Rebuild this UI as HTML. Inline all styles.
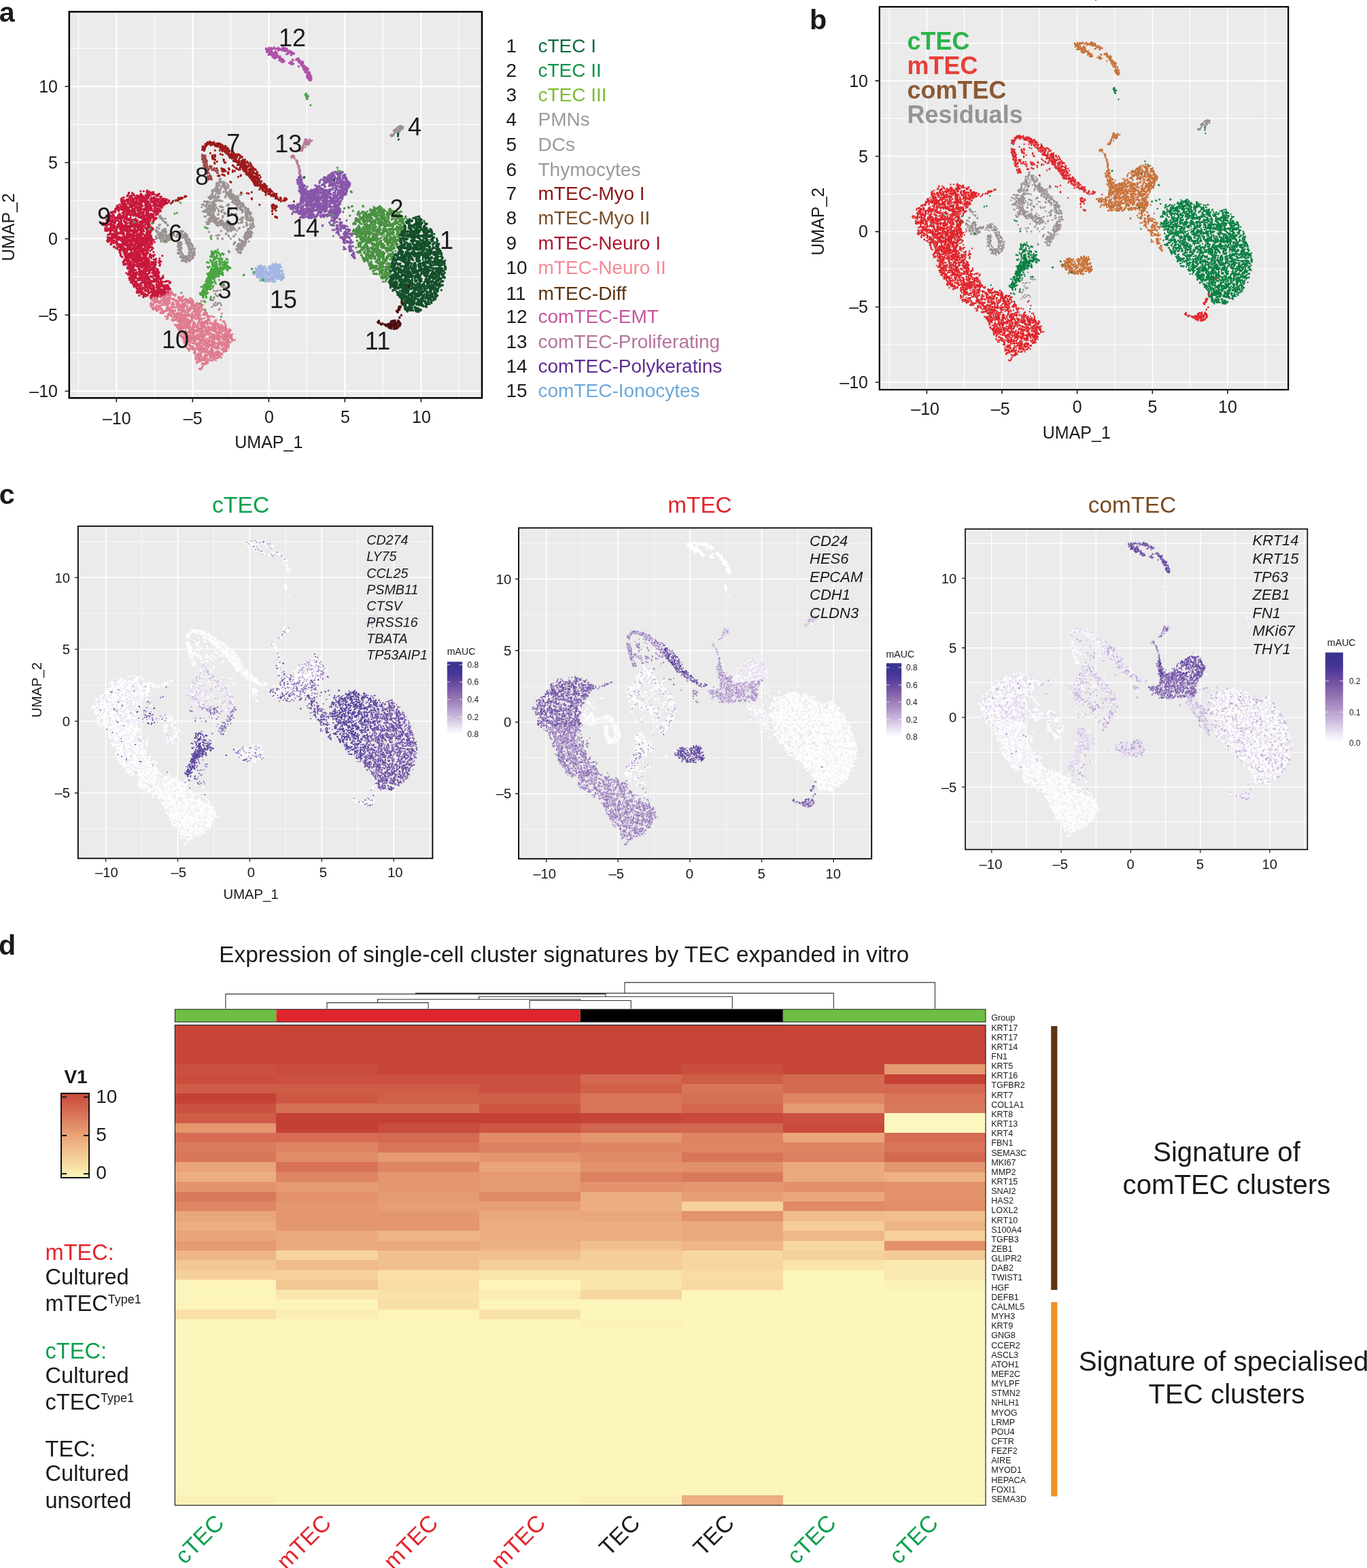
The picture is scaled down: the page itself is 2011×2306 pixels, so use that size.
<!DOCTYPE html>
<html><head><meta charset="utf-8"><title>Figure</title>
<style>
html,body{margin:0;padding:0;background:#fff}
svg{display:block}
svg{font-family:"Liberation Sans", Arial, Helvetica, sans-serif;fill:#1a1a1a}
</style></head><body>
<svg width="2011" height="2306" viewBox="0 0 2011 2306">
<defs>
<path id="k9a_0" d="M-357 -142h0m-41 12h0m30-10h0m11 8h0m0 1h0m5 4h0m27-4h0m16 14h0m-23 0h0m2 0h0m4 2h0m-9 1h0m2 0h0m-4-4h0m-9 3h0m0 2h0m-15 0h0m-7-3h0m-20-10h0m7 5h0m1 8h0m-27-11h0m-9 9h0m-18-2h0m8 3h0m-6 9h0m4 2h0m6 3h0m8-10h0m5 8h0m3-10h0m0 1h0m20 1h0m7 7h0m9-8h0m-8 6h0m3 4h0m14-10h0m2 5h0m2 0h0m16-4h0m4 3h0m-2 2h0m9-6h0m-2 7h0m0 2h0m0 2h0m19-8h0m-8 3h0m13 5h0m15-12h0m-29 14h0m3 1h0m-9 12h0m-21-12h0m3 2h0m-2 5h0m2 0h0m9 0h0m-9 1h0m1 1h0m-1 2h0m-14-5h0m4 1h0m-5 1h0m-2 1h0m3 1h0m-11-10h0m-4 3h0m-1 5h0m-13-5h0m9 1h0m-14-4h0m1 8h0m-1 1h0m-5 2h0m-17-7h0m5 1h0m-16-4h0m6 3h0m-2 1h0m-21-6h0m-1 1h0m19 13h0m2 5h0m9 3h0m2 3h0m-5 1h0m14-10h0m14 9h0m13-4h0m5 2h0m33-7h0m-1 1h0m10-3h0m-4 2h0m1 1h0m3 2h0m-2 19h0m-20-8h0m-1 9h0m-17-9h0m1 3h0m-17-3h0m-6 11h0m-5-13h0m-11 1h0m-11 6h0m7 5h0m-20-8h0m3 2h0m-17 1h0m3 0h0m-1 1h0m9 0h0m-12 1h0m-12-8h0m2 0h0m0 5h0m6 3h0m-17-6h0m0 5h0m3 0h0m-5 3h0m-7-9h0m14 25h0m10-13h0m-6 3h0m-1 4h0m4 0h0m2 0h0m10-4h0m4 10h0m33 0h0m5-13h0m0 12h0m9 0h0m2-11h0m3 1h0m2 0h0m5 5h0m13-7h0m8 0h0m-3 5h0m10 1h0m-6 3h0m3 3h0m1 0h0m-4 1h0m21-11h0m-2 25h0m-13-13h0m-3 1h0m3 3h0m-22-1h0m-1 3h0m-29-6h0m12 3h0m-26-1h0m9 3h0m-5 2h0m1 3h0m-19-5h0m0 1h0m2 2h0m2 2h0m-13-9h0m3 2h0m1 10h0m-17-7h0m2 4h0m-27-10h0m3 15h0m14 1h0m39-1h0m-10 6h0m2 5h0m3 1h0m33-12h0m0 1h0m-10 1h0m14 1h0m5 2h0m9-6h0m9 1h0m-2 5h0m25-4h0m-4 1h0m4 19h0m-4 5h0m-9-4h0m3 1h0m-21-10h0m0 4h0m-20 2h0m-18-6h0m-2 11h0m-9-8h0m-21-2h0m0 8h0m-12-9h0m7 0h0m-9 6h0m-4 11h0m-10 3h0m13-5h0m7 5h0m0 5h0m7-6h0m14-5h0m4 10h0m16-6h0m5 0h0m-10 2h0m4 2h0m8 3h0m8-5h0m13-6h0m-2 1h0m-4 6h0m7 2h0m20-9h0m-5 2h0m3 6h0m-5 2h0m12-6h0m11-3h0m13 9h0m-42 4h0"/>
<path id="k9a_1" d="M-403 -128h0m46-9h0m4 0h0m-1 4h0m2 3h0m9-1h0m29 14h0m-19 1h0m-6-5h0m-6 6h0m-19-7h0m2 7h0m-11-11h0m6 2h0m-9 6h0m3 5h0m-14-13h0m4 1h0m-4 6h0m-3 3h0m-4-3h0m-17 2h0m-27 16h0m13-9h0m-5 2h0m2 1h0m3 7h0m20-12h0m5 0h0m5 4h0m-2 1h0m22-3h0m-2 8h0m16-10h0m1 0h0m2 3h0m-3 2h0m4 0h0m-6 3h0m5 3h0m-4 1h0m24-7h0m14 8h0m7-13h0m1 6h0m5 0h0m-9 3h0m9 2h0m-3 2h0m11-12h0m2 4h0m-23 9h0m-8 2h0m-2 3h0m7 3h0m-6 4h0m-27-10h0m4 0h0m-6 2h0m2 0h0m6 6h0m-7 3h0m-5-1h0m-26-7h0m1 0h0m12 7h0m-27-9h0m11 6h0m-14-5h0m-10 3h0m-3 1h0m-7 3h0m6 0h0m-24-9h0m-1 10h0m7 14h0m15 1h0m7-9h0m0 7h0m26-7h0m-1 8h0m1 1h0m10-13h0m2 2h0m2 8h0m5-3h0m5 3h0m15 0h0m-5 1h0m12 0h0m17-10h0m-2 4h0m1 5h0m0 0h0m-1 4h0m-29 0h0m8 1h0m-17-1h0m5 5h0m-18 2h0m-49-4h0m-1 2h0m12 0h0m-9 1h0m-1 2h0m-6-3h0m2 8h0m-30-10h0m-12-1h0m0 12h0m-13 10h0m24-9h0m-6 4h0m12-3h0m9 0h0m-11 2h0m8 1h0m21 6h0m-1 2h0m19-13h0m18 0h0m-3 5h0m-3 5h0m13-7h0m2 0h0m15 1h0m5 2h0m4-5h0m7 9h0m1 1h0m2 2h0m5-11h0m4 22h0m1 0h0m2 0h0m-1 3h0m-10-6h0m-1 3h0m-4 3h0m0 0h0m-19-3h0m1 2h0m-3-9h0m-15-1h0m-9 4h0m10 0h0m-20-2h0m-5 2h0m2 0h0m-4 5h0m7 0h0m-20-10h0m0 1h0m2 6h0m5 1h0m-2 1h0m-3 2h0m-5-4h0m-22-7h0m3 0h0m3 11h0m1 0h0m-13-10h0m-2 9h0m1 2h0m-14 4h0m-2 1h0m18-1h0m23 8h0m19-8h0m5-1h0m18 3h0m4 6h0m1 0h0m7-10h0m6 1h0m2-1h0m5 5h0m-5 4h0m5 2h0m26-12h0m4 2h0m-7 1h0m-1 14h0m-6 4h0m1 3h0m-19-10h0m0 4h0m1 0h0m-8-1h0m-10 2h0m4 4h0m2 3h0m-17-9h0m5 8h0m-15-9h0m-3 2h0m9 3h0m-19-3h0m5 6h0m-23 1h0m-1 1h0m6 0h0m-17-12h0m-1 6h0m2 1h0m2 0h0m-2 2h0m-9 8h0m6 2h0m21-2h0m7-2h0m5 5h0m1 1h0m2 1h0m6 0h0m23-5h0m-13 1h0m8 0h0m-2 3h0m-3 3h0m19-3h0m17-6h0m-6 2h0m2 5h0m13-7h0m1 1h0m-1 2h0m0 1h0m-2 3h0m13-7h0m4 1h0m-7 2h0"/>
<path id="k9a_2" d="M-358 -141h0m-54 6h0m-1 5h0m25 3h0m13-2h0m21-3h0m3 1h0m-11 2h0m10 2h0m5-9h0m5 3h0m17 6h0m20 11h0m-24-9h0m-7 6h0m0 0h0m11 3h0m-35-9h0m-17 5h0m9 6h0m-22-9h0m2 5h0m-15-8h0m5 9h0m-9-6h0m-24 3h0m-2 3h0m2 15h0m18-6h0m5 9h0m14-10h0m1 1h0m-4 2h0m17 1h0m-12 1h0m4 2h0m24-10h0m4 0h0m-2 4h0m1 4h0m17-3h0m14 7h0m-2 1h0m23-11h0m-8 2h0m4 2h0m-8 6h0m5 7h0m-12-4h0m4 1h0m-22 6h0m2 5h0m-14-8h0m-2 2h0m3 0h0m4 0h0m-1 3h0m3 0h0m-7 1h0m7 0h0m-28-11h0m-4 8h0m-18 1h0m0 1h0m-19-9h0m0 9h0m7 0h0m-8-10h0m-7 1h0m-6 10h0m11 2h0m-22-10h0m10 0h0m-11 6h0m-9 8h0m-4 2h0m7 1h0m-9 3h0m37-6h0m-3 2h0m18-1h0m0 8h0m9-11h0m5 8h0m-4 3h0m-7 1h0m26-5h0m15-8h0m-4 5h0m14 1h0m-4 7h0m11 1h0m6 4h0m4 4h0m-22-6h0m3 2h0m-6 6h0m-6-8h0m-6 3h0m6 2h0m2 1h0m-2 1h0m-29-7h0m-18-1h0m-2 2h0m-2 3h0m6 6h0m-19-8h0m4 3h0m-9-3h0m-4 6h0m1 1h0m-16-10h0m-14 7h0m-4 14h0m19-1h0m3 0h0m16-3h0m-2 3h0m14-1h0m4 3h0m6-8h0m5 1h0m2 6h0m-7 2h0m45-8h0m-7 3h0m5 1h0m3 0h0m-3 4h0m32-5h0m-10 10h0m2 6h0m5 4h0m-4 1h0m-16-12h0m10 1h0m-3 5h0m-1 1h0m-17-1h0m4 0h0m-32-5h0m7 7h0m-19 0h0m7 0h0m-11 3h0m-10-7h0m0 0h0m-5 6h0m-1 3h0m-7-7h0m-4 4h0m-13-2h0m-5-6h0m-11 10h0m2 0h0m-6-9h0m-2 7h0m16 4h0m-3 7h0m1 3h0m7-10h0m9 1h0m-3 6h0m17-7h0m-11 4h0m19-1h0m-1 7h0m15-1h0m19-9h0m2 1h0m-5 10h0m16-11h0m-9 9h0m23-4h0m10-1h0m3 3h0m9 20h0m-6-12h0m-2 8h0m-7 4h0m-21-10h0m-2 6h0m-22-5h0m10 2h0m-15-4h0m4 1h0m-7 3h0m2 3h0m-17-9h0m2 2h0m-19-2h0m-9 11h0m-13-1h0m-2 5h0m7 9h0m11 0h0m-4 1h0m16-9h0m-7 8h0m15-4h0m2 0h0m7 6h0m-6 1h0m22-7h0m14-3h0m-13 9h0m5 1h0m14-8h0m-3 2h0m2 2h0m29-2h0m3 2h0m-3 2h0m-1 1h0m12-12h0m5 4h0m-5 6h0m-99 4h0"/>
<path id="k9a_3" d="M-398 -132h0m2 4h0m19-2h0m25-2h0m-4 2h0m2 3h0m13-6h0m4 2h0m27 14h0m-24 4h0m10 0h0m-34-7h0m-13-4h0m2 0h0m-7 1h0m1 0h0m1 0h0m-17 5h0m3 0h0m-18-7h0m2 11h0m6 0h0m-20-1h0m1 0h0m-9-7h0m-7 13h0m23 3h0m4-4h0m7 10h0m3 0h0m-4 1h0m10-12h0m7 6h0m-9 2h0m17-8h0m20 1h0m-5 4h0m15-3h0m-3 9h0m12-3h0m22 1h0m-5 1h0m17-11h0m-19 18h0m1 7h0m-13-8h0m1 6h0m-18-9h0m9 1h0m1 0h0m-13 11h0m-37-7h0m-2 2h0m-9-6h0m-1 10h0m0 2h0m-20-10h0m-2 1h0m-17 2h0m4 4h0m2 1h0m-16 1h0m0 1h0m-14 8h0m5-1h0m18-3h0m11 5h0m5 1h0m-1 3h0m17-9h0m-1 4h0m0 2h0m13-9h0m-3 5h0m8 4h0m-8 2h0m-1 2h0m10-3h0m16-5h0m3 5h0m46 1h0m7-10h0m0 2h0m-25 11h0m6 4h0m-2 3h0m-9 4h0m-3-11h0m-10 1h0m6 3h0m-18 1h0m3 6h0m7 2h0m-22-10h0m-4 9h0m0 1h0m-14-13h0m-13 4h0m3 7h0m-1 1h0m-6-7h0m-18 1h0m-3 6h0m-7-4h0m-22-7h0m7 2h0m2 0h0m-9 6h0m5 3h0m-10 3h0m-8 9h0m9-8h0m13 6h0m-2 2h0m-10 3h0m21-5h0m2 1h0m-3 1h0m0 0h0m13 3h0m3 0h0m13-10h0m1 0h0m5 5h0m17 1h0m0 3h0m13-8h0m3 5h0m13-3h0m1 4h0m21 0h0m-7 2h0m5 5h0m0 1h0m-10 5h0m3 1h0m-8-6h0m-3 3h0m-10 1h0m-2 3h0m-10-8h0m-4 2h0m-22-3h0m-12 4h0m2 2h0m-18 4h0m-4-4h0m2 5h0m-16-13h0m3 11h0m-15-8h0m1 16h0m0 0h0m12-3h0m16-1h0m-5 6h0m0 1h0m26 0h0m-5 4h0m16-5h0m20-4h0m18-2h0m8-1h0m-4 4h0m2 1h0m6 1h0m-5 6h0m14-11h0m0 6h0m5 2h0m1 2h0m1 2h0m1-6h0m5 17h0m-8-10h0m-10 7h0m10 1h0m-22-8h0m10 11h0m-23-6h0m8 4h0m-17-9h0m-4 10h0m0 3h0m-17-13h0m5 2h0m-1 2h0m0 2h0m-5 1h0m3 6h0m-11-9h0m3 2h0m1 5h0m-19-2h0m-4 2h0m-14-11h0m1 4h0m-8-4h0m-8 20h0m5 0h0m11-2h0m3 9h0m8-13h0m3 13h0m14-9h0m-2 2h0m4 0h0m-1 5h0m19-6h0m17 3h0m1 3h0m-12 1h0m21-11h0m-3 2h0m-5 4h0m5 3h0m13-6h0m2 0h0m1 1h0m5 0h0m-4 1h0m-7 1h0m0 1h0m2 2h0m15-4h0m5 0h0m7-2h0m1 1h0m-3 1h0m6 2h0"/>
<path id="k9a_4" d="M-339 -137h0m-10 10h0m41 9h0m1 2h0m2 0h0m0 0h0m4 3h0m-15-11h0m-1 5h0m5 3h0m-23-2h0m9 1h0m-8 3h0m-13-4h0m1 1h0m-12-9h0m-6 9h0m-10-9h0m5 7h0m4 0h0m0 3h0m-11 3h0m-10-13h0m-3 9h0m-15-7h0m-1 2h0m5 3h0m2 5h0m-35 1h0m12 11h0m7-5h0m15 6h0m23-11h0m19 2h0m3 1h0m-7 4h0m23 4h0m6-7h0m14-2h0m8 0h0m-9 6h0m8 0h0m12-1h0m5-3h0m-19 15h0m-2 2h0m-19-4h0m11 8h0m-38-10h0m0 1h0m5 1h0m3 1h0m-6 1h0m-6 4h0m-13 4h0m-5-4h0m-3 1h0m-18-9h0m-1 3h0m7 8h0m-13-3h0m-8 3h0m6 1h0m-18-13h0m5 0h0m0 1h0m2 4h0m-8 6h0m-8-2h0m-2 1h0m-9-1h0m-13 11h0m24 6h0m20 0h0m23-9h0m0 1h0m-9 1h0m4 7h0m15-11h0m1 0h0m2 0h0m1 12h0m15-4h0m-2 2h0m13-10h0m9 0h0m11 0h0m13 0h0m5 0h0m0 1h0m0 1h0m-14 20h0m3 0h0m-5 3h0m-4-12h0m-11 2h0m1 7h0m4 1h0m-11 0h0m-15-6h0m0 0h0m2 6h0m-21-8h0m-1 1h0m12 2h0m0 1h0m-13 5h0m-26-5h0m-9-4h0m0 1h0m-7 5h0m10 3h0m-12-7h0m-15 8h0m-22-12h0m4 8h0m-20 16h0m9 2h0m14-8h0m-9 2h0m9 0h0m22-3h0m4 4h0m3 3h0m4-7h0m10 2h0m-9 6h0m24-3h0m12 4h0m25 1h0m17-9h0m-4 6h0m18-8h0m-8 1h0m-30 16h0m6 6h0m1 0h0m-17-10h0m-2 3h0m-14-1h0m5 4h0m-7 1h0m-3 0h0m-7 3h0m-15-6h0m9 1h0m-17 0h0m-23-4h0m0 2h0m9 3h0m-6 3h0m9 3h0m-14-9h0m-12 1h0m11 4h0m2 1h0m0 3h0m-21-11h0m3 8h0m5 8h0m26-4h0m-11 3h0m14 5h0m15-8h0m2 3h0m-3 10h0m25-12h0m3 1h0m12 1h0m-12 2h0m10 2h0m-2 1h0m7 1h0m0 2h0m33-9h0m0 2h0m1 8h0m9-5h0m0 13h0m-2 7h0m-5-7h0m1 0h0m1 1h0m-6 6h0m-40-9h0m1 9h0m-11-13h0m-6 2h0m-2 2h0m8 2h0m-23 3h0m9 2h0m0 0h0m-22-4h0m-12 4h0m-7 5h0m-4 2h0m-6 5h0m10 1h0m5 1h0m15-8h0m3 0h0m18-3h0m-12 5h0m11 1h0m-3 3h0m15-2h0m-9 3h0m26-9h0m-11 3h0m6 1h0m10 1h0m-3 2h0m5 3h0m11 2h0m14-5h0m17-4h0m4 0h0m2 0h0m-5 2h0m-37 8h0"/>
<path id="k9a_5" d="M-402 -135h0m7 8h0m42-11h0m2 0h0m-3 5h0m0 2h0m-1 4h0m10-6h0m14 4h0m3 1h0m13 11h0m1 4h0m-39-13h0m-3 3h0m2 3h0m-23-6h0m-1 6h0m1 0h0m8 3h0m-7 4h0m-17-7h0m-5 3h0m0 2h0m0 1h0m-2 1h0m-10-9h0m-7 6h0m-13 2h0m7 3h0m-1 7h0m-6 2h0m2 2h0m1 1h0m22-10h0m3 0h0m4 1h0m2 6h0m1 0h0m0 1h0m-6 1h0m6 0h0m15-6h0m0 2h0m-7 2h0m12-9h0m5 2h0m-4 4h0m-1 3h0m19 0h0m-3 3h0m21 0h0m15-9h0m-8 1h0m-1 1h0m-3 4h0m8 2h0m10-8h0m7 2h0m-9 4h0m-1 3h0m19-13h0m-2 1h0m-23 23h0m-3 1h0m5 1h0m-39-12h0m-7 11h0m-17-8h0m6 0h0m-19-3h0m2 0h0m-2 2h0m7 6h0m-3 3h0m1 2h0m-12-12h0m-11 4h0m-1 1h0m6 1h0m-4 6h0m-4-10h0m-12 4h0m1 6h0m-12-10h0m9 0h0m-7 2h0m-4 2h0m5 1h0m-15 10h0m15-2h0m3 9h0m18-11h0m1 0h0m4 0h0m2 2h0m4 2h0m-9 5h0m21-6h0m3 1h0m-9 8h0m10 1h0m7-12h0m15 5h0m-2 4h0m3 1h0m0 0h0m12-6h0m18 8h0m9-13h0m-5 2h0m12 4h0m-12 2h0m9 4h0m9-10h0m-25 12h0m-6 1h0m2 1h0m8 5h0m-10 1h0m0 0h0m-3-3h0m-7 5h0m1 1h0m4 0h0m-17-8h0m-6 2h0m5 0h0m-7-4h0m-40 8h0m1 2h0m2 2h0m-8-4h0m-19-7h0m4 0h0m-5 7h0m-14-4h0m3 0h0m-5 6h0m-8-11h0m-1 10h0m-10-5h0m4 18h0m24-5h0m14 2h0m0 2h0m-1 2h0m1 2h0m16-4h0m2-1h0m18 1h0m9-6h0m3 1h0m-2 1h0m6 9h0m19-9h0m-6 1h0m20 4h0m12-1h0m-14 9h0m-1 4h0m-1 2h0m3 1h0m-27-9h0m-7 5h0m-17-4h0m-15-1h0m8 7h0m-17-6h0m-3 4h0m2 5h0m-16-11h0m6 2h0m-4 2h0m-3 1h0m4 2h0m-14 0h0m-2 1h0m6 3h0m-11-8h0m-3 6h0m-23-8h0m20 15h0m-4 1h0m10 2h0m12-1h0m16 6h0m-11 1h0m6 2h0m19-8h0m7 6h0m17-10h0m0 4h0m17-4h0m1 2h0m-11 3h0m-2 4h0m21-6h0m-5 2h0m5 7h0m20-7h0m-5 2h0m8 2h0m0 0h0m0 14h0m-13-7h0m1 0h0m-4 3h0m7 4h0m6 2h0m-24-12h0m8 2h0m0 8h0m-18 3h0m-17-11h0m-3 2h0m10 0h0m-6 3h0m8 6h0m-14-6h0m-3 1h0m3 3h0m-13 1h0m0 1h0m-9-1h0m-13-4h0m-6 2h0m5 0h0m7 3h0m-23-13h0m7 4h0m1 0h0m-6 1h0m-6-5h0m-11 9h0m0 1h0m1 2h0m1 9h0m0 1h0m10-8h0m1 3h0m33-1h0m-1 4h0m7 5h0m8-8h0m-1 6h0m-4 1h0m0 2h0m2 0h0m11-8h0m6 1h0m0 1h0m16 1h0m10-6h0m5 0h0m-9 1h0m8 4h0m-7 1h0m-1 6h0m7 0h0m8-2h0m15-10h0m2 6h0"/>
<path id="k9a_6" d="M-377 -140h0m1 8h0m1 4h0m1 1h0m22-4h0m11-6h0m2 5h0m45 19h0m-6-3h0m-5 2h0m-17-2h0m-3 0h0m-23 1h0m-6-11h0m-4 2h0m2 6h0m-7 1h0m-9-8h0m-1 12h0m4 0h0m-19-11h0m1 3h0m4 0h0m-5 2h0m6 4h0m-26-10h0m1 7h0m-18 8h0m3 6h0m0 2h0m9-10h0m-2 5h0m0 5h0m12-6h0m-1 6h0m5 1h0m17-5h0m-1 4h0m31-7h0m-9 2h0m3 5h0m-5 3h0m22-11h0m5 7h0m7 1h0m-5 2h0m-1 1h0m22-13h0m4 0h0m-5 11h0m-8 1h0m13 0h0m-9 1h0m14-11h0m3 6h0m-13 10h0m-15 7h0m-15 0h0m-7-8h0m-9 1h0m1 3h0m2 5h0m-15-10h0m-28 1h0m7 5h0m-2 5h0m0 0h0m-13-13h0m-9 4h0m-16 3h0m-10-4h0m3 7h0m-1 2h0m19 2h0m-3 1h0m17 0h0m-6 1h0m19 6h0m12-5h0m-3 6h0m-3 3h0m21-6h0m-10 2h0m3 0h0m0 0h0m17-4h0m3 0h0m-2 1h0m-3 1h0m0 4h0m19 2h0m11-6h0m-6 18h0m-12-9h0m2 0h0m5 0h0m4 7h0m-19-8h0m-2 11h0m-11-10h0m-4 2h0m-13-3h0m6 5h0m-39 8h0m-2-5h0m-2 1h0m-8 1h0m-4-7h0m-18 7h0m-19-2h0m4 4h0m-23 13h0m23-11h0m-4 1h0m9 2h0m-13 8h0m6 2h0m20-11h0m-6 7h0m3 1h0m16-4h0m16 3h0m10-9h0m4 0h0m-2 9h0m13-9h0m-8 4h0m13-4h0m-1 11h0m28-9h0m10 1h0m-5 1h0m21-3h0m-2 8h0m-7 14h0m-10 2h0m-4 2h0m-13-7h0m2 5h0m-1 1h0m-17-7h0m7 0h0m-17-2h0m6 8h0m-14-6h0m-2 4h0m-9 2h0m-14-4h0m9 2h0m-16-7h0m-2 1h0m0 3h0m-18 3h0m9 2h0m-20-11h0m-10 14h0m3 3h0m5-3h0m1 1h0m-3 1h0m40 2h0m-13 6h0m1 1h0m1 0h0m19-10h0m-1 2h0m-6 9h0m8 0h0m8-10h0m4 0h0m0 3h0m19-3h0m-8 1h0m5 0h0m-1 2h0m0 2h0m4 0h0m-5 3h0m10-4h0m18-1h0m-4 6h0m-1 2h0m22-3h0m-5 2h0m20-12h0m-6 5h0m-3 3h0m0 5h0m0 7h0m-2-6h0m-4 2h0m1 7h0m-4 3h0m-17-4h0m4 3h0m1 0h0m-4 2h0m7 0h0m-23-8h0m11 3h0m-27-2h0m-10 2h0m8 2h0m-12 2h0m-5-5h0m-23 1h0m10 4h0m-23-11h0m11 4h0m-12 2h0m10 0h0m1 5h0m-17-12h0m-5 2h0m2 0h0m6 15h0m10 2h0m19-4h0m13-1h0m-10 3h0m4 4h0m4 3h0m-4 1h0m14 1h0m20-12h0m-3 4h0m6-3h0m6 8h0m-6 4h0m17-12h0m10 6h0m-3 3h0m-1 3h0m15-11h0m-4 5h0m3 6h0m7-12h0m0 2h0m-3 11h0"/>
<path id="k9a_7" d="M-411 -135h0m-5 8h0m39-4h0m4 2h0m14-9h0m18 5h0m-2 3h0m16 3h0m5-5h0m0 0h0m3 9h0m0 1h0m-17-1h0m0 4h0m-9-2h0m5 3h0m2 5h0m-19-6h0m-5 5h0m-11-7h0m3 7h0m-11-12h0m-3 6h0m-6 4h0m10 3h0m-36-12h0m8 10h0m-7 1h0m-19 1h0m1 4h0m8 10h0m7-12h0m20 8h0m10-3h0m1 0h0m-2 5h0m26-7h0m-1 1h0m7 1h0m1 0h0m-1 7h0m7-4h0m18-4h0m9 0h0m-9 1h0m9 0h0m14 1h0m1-7h0m3 5h0m-1 2h0m-2 6h0m-22 1h0m5 1h0m-9 2h0m-15-1h0m0 9h0m-11-9h0m4 0h0m-3 2h0m-17 0h0m2 9h0m-6-13h0m1 7h0m-6 2h0m-15-8h0m-4 4h0m-13 5h0m3 0h0m0 0h0m1 1h0m-14-8h0m0 5h0m1 1h0m-5 3h0m-4-7h0m-34 22h0m18-10h0m-2 3h0m-4 7h0m47-9h0m11-3h0m4 3h0m-8 7h0m-1 2h0m19-12h0m1 1h0m9 7h0m5 0h0m10 2h0m8 1h0m-2 1h0m10-2h0m18-11h0m-2 4h0m-1 4h0m2 4h0m-5 12h0m0 0h0m-2 2h0m-15-11h0m10 3h0m-8 3h0m-12-4h0m5 8h0m-15-7h0m3 4h0m-7 1h0m-6-1h0m-27-1h0m-15 1h0m0 1h0m-11 1h0m-11-7h0m4 7h0m-17-6h0m-9 2h0m-5 2h0m1 0h0m0 1h0m-3 1h0m3 2h0m-1 2h0m2 5h0m10 0h0m19 2h0m14-3h0m56-4h0m1 2h0m-2 1h0m-6 4h0m2 1h0m7 0h0m-6 3h0m-5 1h0m22-8h0m-7 4h0m6 2h0m11 12h0m3 4h0m-1 1h0m-20-12h0m11 3h0m-2 1h0m-1 2h0m-2 3h0m2 0h0m-21-9h0m1 2h0m9 2h0m-5 2h0m-13-4h0m-1 2h0m-2 2h0m-12-7h0m-2 2h0m0 1h0m-2 3h0m10 4h0m1 3h0m-19-8h0m-5 5h0m2 1h0m-7-10h0m-9 2h0m-2 6h0m-5-8h0m-1 2h0m-14 1h0m-2 1h0m3 5h0m1 0h0m-25-10h0m12 10h0m-3 4h0m2 13h0m8-10h0m20 5h0m23-5h0m5 1h0m1 4h0m-9 5h0m23-8h0m8 1h0m2 7h0m33-6h0m-8 3h0m1 3h0m7 0h0m1 7h0m2 6h0m1 1h0m-8-4h0m1 0h0m-11 0h0m-13 1h0m1 0h0m3 3h0m-13-12h0m-1 3h0m4 8h0m-21-11h0m3 3h0m8 1h0m-6 1h0m2 5h0m0 1h0m3 1h0m-19-3h0m-4 2h0m-30-4h0m11 1h0m1 4h0m-22-4h0m-3 3h0m-3 0h0m-10 5h0m8 2h0m5-3h0m1 0h0m3 10h0m22-10h0m0 0h0m7-1h0m5 9h0m-7 1h0m18-7h0m4 0h0m6-3h0m1 11h0m-2 1h0m20-11h0m4 0h0m-10 2h0m9 9h0m14-13h0m-7 3h0m-4 3h0m10 4h0m-11 3h0m20-11h0m2 0h0m-2 8h0m11-9h0m6 1h0m-2 6h0m-5 3h0m1 2h0"/>
<path id="k9b_0" d="M-343 26h0m-29-11h0m-6 2h0m-6 4h0m-8 6h0m-2-10h0m-9 1h0m-2 9h0m-10-7h0m-7-5h0m-6 1h0m-1 5h0m-5 3h0m-2-6h0m-20 6h0m-9-8h0m28 16h0m0 7h0m5-11h0m1 1h0m11 7h0m17-6h0m-2 2h0m0 3h0m25-5h0m-5 8h0m17-7h0m-10 1h0m9 1h0m-4 3h0m14 0h0m15-4h0m31 18h0m-48-3h0m-3 1h0m0 4h0m4 3h0m-6-7h0m0 7h0m-17-4h0m-7 3h0m-5-5h0m2 2h0m-4 3h0m-22-8h0m0 7h0m-12 1h0m-5-6h0m15 9h0m-7 11h0m15-6h0m24 0h0m-3 1h0m22 5h0m11-1h0m15 1h0m0 1h0m11-2h0m0 10h0m-2 5h0m-8-12h0m6 0h0m-11 8h0m-16 5h0m-6-13h0m3 2h0m-10 1h0m5 7h0m-13-4h0m0 0h0m-17-2h0m-5 17h0m8-4h0m0 6h0m1 2h0m17-5h0m19-5h0m3 0h0m7 6h0m14-7h0m-5 1h0m3 0h0m13 5h0m1 6h0m-3 11h0m0 0h0m6 4h0m-20-11h0m-30 1h0m6 1h0m-19-3h0m-6 9h0m-14 0h0m13 2h0m-20-8h0m5 5h0m1 7h0m0 0h0m4-2h0m2 12h0m10-12h0m10 3h0m14-2h0m13 1h0m-4 1h0m-4 2h0m36 5h0m-8 3h0m20-10h0m3 0h0m3 22h0m-9 2h0m-14-6h0m1 2h0m-18-3h0m-9-5h0m-12-1h0m-9 12h0m-5-4h0m3 10h0m1 2h0m4 0h0m10 1h0m-13 4h0m15-9h0m8 9h0m5-7h0m4 1h0m-1 4h0m9 1h0m15-10h0m2 0h0m10 10h0m2 0h0m-9 2h0m13-12h0m5 2h0m-7 4h0m13 2h0m4 5h0m-9 5h0m-21 2h0m6 2h0m-3 2h0m3 1h0m-5 1h0m-4-12h0m-7 12h0m-14-11h0m-20 8h0m5 2h0m3 1h0m-16-7h0m2 1h0m3 1h0m29 11h0m12-4h0"/>
<path id="k9b_1" d="M-349 19h0m-5-3h0m-3 1h0m-5 2h0m11 0h0m-1 8h0m-26-6h0m13 1h0m-24-8h0m-11 3h0m7 10h0m-16-12h0m-2 5h0m-1 1h0m1 2h0m-23-5h0m-31-2h0m34 14h0m9 1h0m5 0h0m-1 8h0m22-10h0m3 0h0m-6 1h0m-1 2h0m17-4h0m4 0h0m-5 7h0m-8 2h0m24-5h0m-3 4h0m2 3h0m1 1h0m11-8h0m-4 1h0m22 6h0m-7 12h0m-2 2h0m-9-11h0m-4 1h0m-1 8h0m-3-5h0m-20-1h0m-1 3h0m5 5h0m-16-8h0m1 1h0m-8 8h0m0 1h0m-16-11h0m-4 2h0m3 9h0m0 2h0m0 2h0m-3 2h0m-3 6h0m9-10h0m-2 1h0m18 0h0m9 0h0m-11 1h0m10 4h0m5-6h0m5 0h0m-7 1h0m3 2h0m6 0h0m0 6h0m10-7h0m-5 4h0m23-5h0m-5 9h0m2 1h0m23-7h0m1 3h0m13 10h0m0 4h0m-25-6h0m3 1h0m-2 2h0m-15 7h0m-9-11h0m-3 2h0m4 1h0m-8 2h0m10 1h0m-15 1h0m-2 1h0m3 1h0m-9 1h0m7 0h0m-21 0h0m1 2h0m-8-3h0m-17-7h0m18 20h0m14-1h0m14-1h0m13 2h0m7-7h0m5 6h0m17-8h0m0 1h0m-6 1h0m2 0h0m-2 2h0m3 1h0m1 0h0m2 4h0m12 6h0m-10 4h0m0 5h0m9 1h0m-7 1h0m-7-9h0m4 6h0m-6 4h0m-21-8h0m5 2h0m-18-6h0m3 7h0m-22-4h0m2 1h0m-14 5h0m1 9h0m4-4h0m11 0h0m9 8h0m6-6h0m5 0h0m-4 1h0m1 1h0m10 8h0m10-12h0m-6 1h0m1 0h0m5 1h0m-6 2h0m6 7h0m17-7h0m-8 7h0m35-11h0m9 12h0m10 6h0m-29-3h0m6 2h0m2 5h0m-9 2h0m-7-11h0m5 4h0m-16 9h0m-11-11h0m-9 1h0m3 1h0m-16 0h0m-17-4h0m9 10h0m-20-10h0m8 9h0m0 3h0m3 3h0m1 4h0m3 7h0m9-5h0m0 2h0m28-5h0m11 4h0m0 5h0m36-13h0m5 7h0m-1 1h0m8-1h0m-15 7h0m-2 11h0m-13-8h0m7 1h0m-4 3h0m-16-3h0m-2 1h0m7 1h0m-5 1h0m2 0h0m-1 6h0m-6-13h0m-15 5h0m-19-4h0m7 6h0m0 0h0m-20-2h0m22 10h0m37-1h0m-9 6h0"/>
<path id="k9b_2" d="M-363 25h0m9 1h0m-30-12h0m5 1h0m-6 4h0m-23-4h0m-6 2h0m-3 1h0m5 0h0m-7 2h0m11 4h0m-14-6h0m-10 7h0m-23-2h0m60 6h0m6 1h0m8 11h0m13-12h0m-4 6h0m-1 5h0m4 0h0m11 0h0m19 8h0m-6 1h0m-16-1h0m10 4h0m-17-6h0m3 2h0m-3 4h0m-17-6h0m5 1h0m-10 4h0m4 3h0m-16-12h0m6 13h0m-20-5h0m-4 4h0m-2-12h0m1 0h0m-1 9h0m-7 18h0m12-11h0m10 9h0m13-9h0m-4 9h0m19-11h0m-11 8h0m1 4h0m18-11h0m5 2h0m-11 6h0m9 3h0m5-8h0m3 3h0m3 5h0m25-8h0m-3 21h0m-14-2h0m-3-6h0m-9 2h0m3 2h0m-13 2h0m3 2h0m1 0h0m-19-4h0m-10-4h0m-2 10h0m-11-11h0m-3 2h0m5 8h0m-15-9h0m-5 3h0m12 10h0m34 1h0m-2 1h0m-9 4h0m39-7h0m-6 9h0m7 2h0m7-11h0m19 7h0m-2 2h0m0 4h0m-4 7h0m-1 1h0m-17-6h0m13 4h0m-24 0h0m2 4h0m2 2h0m-21-12h0m1 3h0m12 1h0m-25-1h0m10 3h0m-1 4h0m-11 2h0m-9-12h0m-5 1h0m10 3h0m-2 3h0m-16 1h0m13 6h0m-2 8h0m7 3h0m10-1h0m30-8h0m18 8h0m2-3h0m42 6h0m-23 8h0m-33 4h0m-9-8h0m6 1h0m-3 2h0m-8 4h0m5 2h0m-12-9h0m-3 8h0m-32-9h0m2 0h0m11 7h0m-3 1h0m6 6h0m9 1h0m10 0h0m32 1h0m-3 2h0m1 1h0m4 3h0m7-9h0m2 6h0m6-6h0m10 0h0m-3 8h0m3 3h0m-10 1h0m17-5h0m6 0h0m9 4h0m-15 2h0m9 9h0m-11 3h0m-2-8h0m-6 3h0m-7 1h0m-7-7h0m2 0h0m-20 2h0m-4 2h0m-24-1h0m8 5h0m-2 9h0m22-4h0m7 1h0m7 2h0"/>
<path id="k9b_3" d="M-343 14h0m-2 10h0m-6 1h0m-27-9h0m3 1h0m6 2h0m-5 5h0m-8-9h0m3 1h0m-3 7h0m-5 2h0m1 0h0m3 1h0m-16 1h0m-20-9h0m7 4h0m0 5h0m-29-11h0m4 22h0m-2 1h0m1 1h0m5-9h0m2 0h0m6 6h0m1 0h0m-3 4h0m17-10h0m3 1h0m-12 5h0m15 2h0m1 1h0m7 0h0m15-12h0m-11 2h0m13 10h0m-9 1h0m21-10h0m-3 1h0m-6 3h0m6 4h0m2 0h0m7-4h0m6 5h0m19 7h0m-12-1h0m8 4h0m-23 0h0m-9-8h0m-1 4h0m8 9h0m-23-7h0m9 0h0m-3 4h0m3 0h0m-23-10h0m-6 1h0m0 5h0m-7 3h0m4 4h0m-12-8h0m0 17h0m-2 2h0m13-6h0m-6 4h0m1 1h0m8 2h0m15-3h0m15-4h0m-3 3h0m11-3h0m6 8h0m5-6h0m41 4h0m-2 2h0m-22 4h0m3 5h0m-10 5h0m-13-11h0m4 3h0m1 4h0m7 5h0m-14-12h0m-7 2h0m-3 10h0m-11-8h0m-1 4h0m-10-3h0m-3 1h0m2 4h0m-18-9h0m5 24h0m3 0h0m10-10h0m-4 4h0m1 5h0m22 0h0m14-7h0m-2 5h0m40-3h0m-6 5h0m7 0h0m-5 2h0m20 12h0m-21-9h0m5 0h0m-4 1h0m6 1h0m-8 3h0m5 3h0m-2 1h0m-5 1h0m-5-12h0m-6 13h0m-10-7h0m-22-4h0m3 2h0m6 1h0m-4 8h0m-7-4h0m-12 2h0m-7-8h0m-7 6h0m-1-6h0m-7 4h0m6 13h0m11-3h0m-2 7h0m11-6h0m9 6h0m14-10h0m-10 1h0m2 3h0m2 9h0m9-13h0m0 2h0m6 3h0m5 0h0m-6 1h0m14-5h0m27 5h0m-3 1h0m20 5h0m3 14h0m-3 1h0m-30-13h0m5 4h0m-25-2h0m10 9h0m-20-11h0m0 6h0m6 7h0m-21-10h0m8 1h0m-11 1h0m-13-2h0m2 3h0m5 2h0m-11-4h0m-2 11h0m15 11h0m2 1h0m11-8h0m5-3h0m6 2h0m2 6h0m7-8h0m11 8h0m7-7h0m2 10h0m10-3h0m6 2h0m-10 1h0m21-8h0m-4 2h0m15 5h0m-2 5h0m-1 7h0m-9-5h0m5 2h0m1 3h0m-14-5h0m-25-5h0m0 1h0m3 2h0m8 3h0m-7 1h0m-11-2h0m0 6h0m-11-11h0m-21 3h0m8 10h0m46 2h0"/>
<path id="k9b_4" d="M-355 22h0m-2 2h0m-10-10h0m1 1h0m-8 6h0m-2 2h0m0 1h0m-9-4h0m-7 1h0m1 0h0m0 1h0m-9-2h0m1 1h0m-8-2h0m-5 1h0m-4 5h0m6 2h0m-22-2h0m1 1h0m-16-9h0m12 0h0m-12 2h0m8 5h0m-11 3h0m-13-11h0m24 17h0m4 0h0m-2 1h0m9-5h0m-2 2h0m14 0h0m-4 1h0m3 5h0m11-7h0m12 6h0m-1 1h0m4-7h0m1 2h0m4 6h0m0 3h0m15-5h0m3 0h0m13-6h0m-7 3h0m3 4h0m-2 5h0m-7 5h0m0 2h0m-13-5h0m-23-1h0m7 2h0m-5 2h0m-3 1h0m-14-5h0m-4 4h0m-8 6h0m-4-2h0m17 5h0m15 4h0m7 0h0m-10 8h0m4 0h0m20-12h0m-5 5h0m3 6h0m11-11h0m2 1h0m10 4h0m26 13h0m2 0h0m-21 3h0m2 0h0m-25-5h0m7 7h0m-16-2h0m-2 4h0m-11-1h0m-10-7h0m-5 4h0m4 5h0m-16-6h0m10 8h0m1 4h0m16-2h0m-4 6h0m0 2h0m22-3h0m0 4h0m16-6h0m-10 4h0m17-6h0m-2 6h0m-1 2h0m8 2h0m2 0h0m3-7h0m8 0h0m1 1h0m2 0h0m-1 2h0m6 4h0m-4 9h0m12 3h0m-14-5h0m-14-3h0m-4 5h0m-1 5h0m-14-13h0m-3 1h0m-5 1h0m-13 9h0m0 1h0m-1 1h0m-26-10h0m8 14h0m2 2h0m0 4h0m11-7h0m3 4h0m-8 2h0m-2 2h0m10 1h0m14-8h0m16-2h0m0 3h0m-6 6h0m4 0h0m13-9h0m-1 5h0m-2 1h0m0 0h0m7 3h0m27-10h0m-4 5h0m-1 1h0m-4 1h0m4 0h0m13-2h0m-3 7h0m18 1h0m-6 2h0m-12 3h0m-3 9h0m-14-13h0m7 0h0m-12 13h0m-24-10h0m6 3h0m1 0h0m3 1h0m-7 3h0m-3 2h0m-21-1h0m-15-4h0m20 8h0m-6 7h0m8-4h0m21 1h0m-4 6h0m24-8h0m7 10h0m12-1h0m0 1h0m16-13h0m0 0h0m7 2h0m-12 1h0m2 3h0m8 5h0m3-7h0m-13 11h0m12 5h0m-20-5h0m-1 1h0m-6 3h0m1 0h0m12 0h0m-5 4h0m-9 4h0m-20-11h0m-3 1h0m1 9h0m-30-10h0m4 3h0m-3 4h0m5 6h0m26 3h0m-3 1h0"/>
<path id="k9b_5" d="M-346 25h0m2 0h0m-14 2h0m-9-12h0m-4 2h0m4 0h0m-1 1h0m-10 3h0m-7 2h0m-2 1h0m-2 1h0m10 0h0m-14 0h0m-20-6h0m6 5h0m-27-1h0m0 1h0m6 1h0m-4 1h0m-7-9h0m-2 4h0m-4 9h0m9 1h0m13-3h0m-3 8h0m2 0h0m4-2h0m3 6h0m13-8h0m20-4h0m-7 6h0m4 7h0m10-9h0m11 1h0m0 1h0m-4 4h0m8-6h0m6 1h0m7 2h0m1 15h0m9 2h0m-27-2h0m1 0h0m-24-5h0m3 9h0m-13-9h0m1 2h0m-8 2h0m7 0h0m3 0h0m-15-5h0m-2 4h0m2 3h0m-8 4h0m3 0h0m8 0h0m-28-10h0m1 1h0m12 17h0m11-7h0m-7 2h0m7 7h0m14 1h0m28-10h0m-7 3h0m4 5h0m1 4h0m13-3h0m-2 2h0m23 1h0m16-4h0m1 15h0m-24-9h0m6 1h0m-16 0h0m1 1h0m-9 1h0m3 3h0m3 3h0m-9-2h0m-10 6h0m1 0h0m-9-8h0m1 5h0m-23-6h0m10 6h0m-13-8h0m-5 3h0m6 6h0m-2 2h0m-11-7h0m13 10h0m0 2h0m-2 8h0m13-11h0m-7 2h0m21-3h0m20 7h0m19-4h0m-4 5h0m13 2h0m12 4h0m-12 2h0m12 1h0m-10 2h0m8 8h0m-14-4h0m-22 0h0m-2 4h0m-17-9h0m0 4h0m-11 5h0m-5-9h0m0 1h0m1 3h0m-7 2h0m-3 12h0m13-5h0m21 5h0m0 1h0m0 0h0m4 0h0m2 4h0m9-8h0m-3 2h0m3 0h0m3 2h0m-10 3h0m20 0h0m13-11h0m6 4h0m-7 2h0m4 0h0m2 2h0m-3 1h0m0 2h0m2 1h0m37 3h0m-10 8h0m-17-9h0m-5 2h0m6 2h0m-9 3h0m-22-4h0m-14 8h0m-12-11h0m0 0h0m6 0h0m1 10h0m-26-8h0m3 4h0m7 5h0m-13-1h0m14 3h0m-4 8h0m26 5h0m14-1h0m20-12h0m0 6h0m-11 5h0m0 1h0m24-11h0m-11 1h0m0 6h0m3 0h0m4 3h0m7-5h0m13 13h0m-6 2h0m5 0h0m-18 0h0m-22-1h0m-6 1h0m3 2h0m-1 4h0m-17-13h0m-16 2h0m1 3h0m-4 1h0m1 0h0m3 1h0m-9-6h0m-7 1h0m5 1h0m44 14h0m11 1h0"/>
<path id="k9b_6" d="M-349 23h0m-9 3h0m-17-7h0m-1 7h0m-6-7h0m-6 4h0m7 4h0m-23-13h0m-1 11h0m-2-9h0m-18 2h0m-4 5h0m-6-6h0m-4 4h0m-2 1h0m1 11h0m2 8h0m11-8h0m8-2h0m4 0h0m9 1h0m0 0h0m13 1h0m-2 2h0m2 5h0m14-10h0m-1 3h0m-3 4h0m4 3h0m5-12h0m1 4h0m-4 2h0m37-6h0m-20 17h0m0 1h0m1 1h0m-2 8h0m-6-13h0m-2 13h0m-19-6h0m-3 1h0m6 5h0m-15-9h0m2 2h0m1 0h0m4 2h0m-16-6h0m-2 20h0m-5 2h0m21-1h0m5-6h0m2 2h0m4 4h0m2 1h0m14-6h0m8-2h0m9 6h0m0 1h0m19-6h0m11-1h0m4 9h0m-7 3h0m-21 0h0m1 6h0m2 0h0m2 2h0m-9 1h0m-3-8h0m-3 5h0m-13-4h0m-5 4h0m8 0h0m-8 6h0m-15-10h0m-28-1h0m7 5h0m-3 2h0m7 7h0m14 7h0m0 0h0m23 4h0m8-12h0m1 0h0m4 0h0m4 10h0m8-9h0m3 5h0m0 4h0m4-10h0m5 4h0m2 13h0m3 1h0m-8 4h0m-2 2h0m11 1h0m-13-7h0m1 5h0m-11 3h0m-4-9h0m-12 4h0m-12 3h0m-3-9h0m-12 7h0m-3-6h0m-7 7h0m-1 1h0m-7-9h0m-1 2h0m2 14h0m0 5h0m7-2h0m-1 4h0m22-8h0m2 3h0m23-4h0m25 1h0m5 1h0m-3 7h0m11 3h0m18 12h0m-13-11h0m-33 4h0m5 7h0m-21-10h0m10 7h0m-38-6h0m2 5h0m-4 1h0m2 4h0m2 0h0m3 0h0m-10-12h0m-9 3h0m9 4h0m13 8h0m9 7h0m-6 3h0m13 2h0m25-9h0m1 2h0m1 6h0m28-3h0m-12 1h0m27-3h0m-7 14h0m-19-6h0m5 0h0m-4 3h0m11 0h0m-6 4h0m-7 1h0m-6-9h0m-8 1h0m9 3h0m0 5h0m4 0h0m-13 3h0m-3-9h0m-18-3h0m3 3h0m-9 6h0m6 4h0m-19-11h0m-2 3h0m31 13h0m13-1h0m19-3h0"/>
<path id="k9b_7" d="M-344 16h0m-15 0h0m-21 1h0m1 2h0m-12 6h0m-13-8h0m6 1h0m3 7h0m-10 2h0m-5-11h0m0 1h0m-4 3h0m-16 5h0m0 1h0m-9-9h0m-2 4h0m3 4h0m-17-2h0m16 10h0m9-5h0m-2 5h0m6 4h0m10-3h0m-2 6h0m24-12h0m-9 1h0m-3 1h0m4 0h0m21 0h0m-3 10h0m3 1h0m16-10h0m-6 6h0m2 0h0m0 3h0m19 6h0m2 3h0m2 2h0m-3 3h0m-14-8h0m-8-4h0m-5 12h0m-4-11h0m-10 2h0m8 2h0m-16 0h0m3 0h0m-3 2h0m-2 1h0m-5 4h0m-8-8h0m5 2h0m1 4h0m-18 11h0m7-5h0m0 1h0m6 5h0m-3 2h0m5 2h0m1 0h0m5-8h0m3 0h0m2 0h0m6 9h0m4-13h0m5 1h0m-6 7h0m12-6h0m14-1h0m7 1h0m-7 4h0m2 0h0m9 1h0m-11 3h0m32 3h0m-8 4h0m-2 1h0m-2 2h0m-9-3h0m-10 3h0m2 6h0m-14-10h0m3 3h0m2 0h0m-1 3h0m-11-6h0m-7 8h0m-17-3h0m13 0h0m-14 1h0m-4 11h0m5 2h0m26 0h0m8-6h0m4 5h0m3 1h0m-7 6h0m3 0h0m7-2h0m24-11h0m-4 3h0m2 0h0m0 1h0m-5 4h0m17 5h0m-8 8h0m10 1h0m-10 2h0m-26-10h0m0 4h0m6 3h0m-13-7h0m-20 1h0m-2 2h0m5 4h0m-17 1h0m-2 8h0m36-1h0m-4 3h0m-1 1h0m1 2h0m7 2h0m-7 1h0m11-6h0m19-3h0m-2 11h0m17-8h0m-5 4h0m6 4h0m1 0h0m8-7h0m16 22h0m-17-9h0m-9 6h0m-21-7h0m-1 6h0m6 2h0m-20-2h0m-18-1h0m-15-8h0m0 13h0m17 4h0m-7 3h0m2 4h0m10-5h0m3 3h0m10-5h0m8 2h0m-6 8h0m22-12h0m-10 5h0m10 3h0m11-7h0m7 0h0m-2 5h0m0 4h0m9 2h0m17-12h0m-10 4h0m3 1h0m-1 1h0m1 14h0m-3 1h0m-21-3h0m-10-4h0m0 4h0m-17-3h0m1 2h0m-4 9h0m-13-4h0m-18-8h0m0 3h0m7 9h0m18 2h0m19 4h0m-3 2h0m16-4h0"/>
<path id="k10_0" d="M-277 167h0m-12-5h0m-1 4h0m-9-4h0m-34 19h0m15-7h0m24 5h0m2 2h0m27-10h0m0 1h0m5 1h0m-4 6h0m12-10h0m7 12h0m15-6h0m4 5h0m30 15h0m-9-2h0m-17-9h0m11 6h0m-13 5h0m4 0h0m0 0h0m-5-12h0m-1 3h0m-1 3h0m-12-3h0m-14-1h0m0 7h0m-17 0h0m-13-5h0m-8 1h0m-17-1h0m4 4h0m-11-9h0m-3 1h0m-3 5h0m6 3h0m-28 4h0m12 8h0m-5 3h0m12 2h0m-6 1h0m44-7h0m22 1h0m-2 6h0m27-12h0m0 1h0m-1 9h0m-9 2h0m16-5h0m2 1h0m12-8h0m1 9h0m71 3h0m-38 11h0m-16-6h0m-8 4h0m-6-6h0m-39 0h0m-6 9h0m-18-9h0m-3 5h0m-35-7h0m17 20h0m21-1h0m5 8h0m4 0h0m6-9h0m16 8h0m16-10h0m22 0h0m2 4h0m2 0h0m1 7h0m22-9h0m4 2h0m43 13h0m-17 6h0m-14 2h0m-15-11h0m2 4h0m-3 4h0m-8-3h0m-18 4h0m-47-8h0m-2 1h0m2 1h0m2 0h0m-3 1h0m-14 15h0m14-4h0m-7 5h0m-2 1h0m1 0h0m9 4h0m10-4h0m10 1h0m14-6h0m0 2h0m0 6h0m15-2h0m17-3h0m32-5h0m-2 5h0m4 4h0m15-3h0m6 0h0m10 8h0m1 0h0m8 7h0m-12-7h0m-7 3h0m-6 6h0m-6-8h0m4 4h0m0 0h0m-21-7h0m-2 2h0m-1 1h0m-28 0h0m9 4h0m-21-6h0m-5 0h0m-5 3h0m-7 5h0m3 4h0m-12-12h0m6 3h0m-6 2h0m1 6h0m-16-3h0m-10-9h0m1 1h0m-2 16h0m5 6h0m3 1h0m16-4h0m1 4h0m3 3h0m7-13h0m7 9h0m15-8h0m-5 8h0m21-8h0m-10 1h0m7 0h0m0 0h0m-1 1h0m-6 6h0m26-9h0m-5 10h0m12-8h0m3 9h0m-6 1h0m3 1h0m16-10h0m-5 1h0m7 4h0m10-5h0m3 6h0m7-6h0m11 1h0m3-2h0m0 3h0m-2 6h0m-12 3h0m0 8h0m-5-6h0m-3 8h0m-16-10h0m3 5h0m2 2h0m-20 1h0m2 3h0m-21-11h0m3 9h0m-15-4h0m-10 6h0m5 1h0m-19-8h0m0 3h0m-5 6h0m-15-13h0m7 0h0m4 2h0m2 0h0m-10 5h0m-15-6h0m6 0h0m2 0h0m-7 2h0m6 4h0m9 12h0m12-5h0m10 3h0m9 3h0m8-6h0m12 7h0m-13 3h0m19-5h0m-1 7h0m13-8h0m0 0h0m-1 6h0m19-10h0m3 1h0m6 7h0m8 0h0m3 3h0m7-9h0m-5 2h0m4 2h0m-4 10h0m-2 1h0m0 5h0m-6 1h0m0 1h0m-14-10h0m-5 10h0m-1 1h0m2 0h0m-15 1h0m-15-11h0m-17 9h0m-18 3h0m-23-13h0m39 15h0m-3 3h0m5 5h0m12-2h0m-4 3h0m19-1h0m8-9h0m7 0h0m-2 2h0m16 2h0m4-2h0m-26 18h0m8 1h0m-39-5h0m11 3h0m-25-2h0m7 4h0m18 8h0m-4 2h0m9-2h0"/>
<path id="k10_1" d="M-286 158h0m-15 9h0m-38 6h0m3 5h0m3 3h0m69-6h0m7 3h0m31 0h0m-12 2h0m15 9h0m1 0h0m9 3h0m-41-2h0m-5 4h0m-13-12h0m3 6h0m-11 4h0m-3-1h0m-16 3h0m-28-12h0m-20 7h0m8 5h0m12 11h0m1 4h0m25-13h0m32 1h0m-5 6h0m9-6h0m0 1h0m2 2h0m-2 6h0m8 0h0m10-10h0m-3 13h0m20-2h0m16 0h0m-5 1h0m3 0h0m3 1h0m9-3h0m15 11h0m1 0h0m-4 5h0m4 0h0m-13-9h0m-15 10h0m-20-13h0m-16 3h0m6 1h0m0 1h0m-15-5h0m-6 10h0m-5 2h0m-19-12h0m5 2h0m-8 9h0m-15-5h0m-4 2h0m3 1h0m11 11h0m26-2h0m16 3h0m-6 5h0m23-12h0m-6 7h0m-5 4h0m8 0h0m14-7h0m2 3h0m15 2h0m7-7h0m-3 7h0m0 2h0m18-1h0m48 4h0m-14 3h0m-11 7h0m11 1h0m-16-3h0m-8 2h0m-4-7h0m-12 3h0m-7-5h0m-3 4h0m6 4h0m-1 3h0m-35-2h0m-17-7h0m-6 10h0m2 0h0m-11 2h0m-1 5h0m2 3h0m10-6h0m18 0h0m-2 1h0m1 4h0m15 5h0m4-9h0m-1 2h0m9 2h0m4-4h0m5 8h0m7 0h0m0 0h0m6-7h0m-2 1h0m16 1h0m12-1h0m0 5h0m18-8h0m6 7h0m2-9h0m12 3h0m-12 4h0m2 1h0m6 3h0m7 4h0m5 6h0m-7 3h0m-4-8h0m-36 0h0m9 2h0m-44 3h0m-17-3h0m-16-4h0m-1 7h0m1 0h0m-20-4h0m7 13h0m7 6h0m-9 1h0m4 0h0m-6 1h0m1 0h0m-2 1h0m0 1h0m15-8h0m5 6h0m3 2h0m6-9h0m3 3h0m7 1h0m10-3h0m-4 5h0m-2 2h0m35-2h0m6-3h0m4 3h0m6 1h0m3 0h0m8 2h0m3 0h0m31-10h0m-13 4h0m2 3h0m11 0h0m4 0h0m-1 5h0m-40 0h0m-1 12h0m-16-3h0m6 0h0m-14-4h0m1 1h0m-3 1h0m-1 1h0m-12-3h0m7 5h0m-21-10h0m0 10h0m-22-11h0m-8 4h0m4 2h0m-15-5h0m-4 1h0m1 6h0m21 15h0m16 0h0m-12 2h0m29-11h0m11 3h0m-4 6h0m16-6h0m-5 1h0m-3 3h0m13-1h0m8 3h0m4 3h0m15-6h0m15-5h0m-2 7h0m2 3h0m1 10h0m-12-4h0m-11 7h0m-6 1h0m7 1h0m-4 1h0m-15-4h0m8 2h0m-26-1h0m-3-8h0m-9 2h0m-23 0h0m1 6h0m17 5h0m-5 2h0m-6 1h0m2 2h0m4 0h0m3 3h0m13 3h0m11-11h0m2 2h0m16 9h0m13-12h0m-4 4h0m-4 4h0m9 0h0m-3 6h0m-13 1h0m-26 3h0m2 3h0m-26 8h0m15 2h0"/>
<path id="k10_2" d="M-290 159h0m3 2h0m0 1h0m4 0h0m-20 5h0m-28 6h0m0 6h0m36-7h0m-1 1h0m-1 2h0m2 1h0m3-5h0m1 2h0m0 0h0m29 5h0m12 2h0m10 0h0m42 3h0m-25 1h0m10 6h0m-5 5h0m-16-10h0m-2 3h0m0 1h0m-10-1h0m-21 0h0m-25 1h0m-8-2h0m-8 3h0m2 0h0m-12-4h0m5 8h0m-15-12h0m1 2h0m-19 7h0m22 7h0m6 6h0m20-7h0m-1 11h0m5-4h0m1 4h0m27-11h0m8 1h0m4 1h0m14-2h0m-11 1h0m1 1h0m20 9h0m11-12h0m-1 4h0m7 8h0m16-12h0m-10 11h0m12 1h0m6 0h0m-7 1h0m52-3h0m-47 17h0m-11-8h0m-15-3h0m2 7h0m-23-2h0m-12-6h0m2 2h0m-15-2h0m1 8h0m-13-7h0m-8-2h0m1 10h0m-15-10h0m-8 2h0m-3 2h0m0 0h0m-5-2h0m2 0h0m-8 6h0m-6-8h0m-4 2h0m32 15h0m21-2h0m3 7h0m12-2h0m5 3h0m10-3h0m17-4h0m-8 2h0m13 4h0m26 3h0m1 1h0m-7 1h0m27-4h0m48 15h0m-28-6h0m-2 1h0m-36 2h0m8 4h0m-34-2h0m1 0h0m-6-8h0m-6 9h0m-8-7h0m-1 2h0m-8 2h0m6 5h0m-16-11h0m-7 4h0m1 1h0m-10-5h0m7 3h0m-2 14h0m0 1h0m31-5h0m-9 2h0m6 5h0m3 3h0m-13 1h0m15-4h0m4 2h0m15-4h0m-5 4h0m2 0h0m11-8h0m10 11h0m9-8h0m11 2h0m3 2h0m4 0h0m8-3h0m11-2h0m9 8h0m1 0h0m5-2h0m9 2h0m2 2h0m10 9h0m-30 2h0m3 0h0m-2 2h0m-15-11h0m-15 7h0m-24-7h0m-7 1h0m10 11h0m-17-7h0m-6 1h0m-3 3h0m-10-10h0m0 3h0m3 10h0m-14-5h0m-13-6h0m-6 1h0m21 12h0m-2 1h0m6 0h0m0 7h0m-3 2h0m1 2h0m10-13h0m2 9h0m7-5h0m2 5h0m3 1h0m-5 1h0m5 1h0m12-9h0m5 5h0m12-3h0m-8 7h0m25-1h0m8-7h0m2 0h0m16 2h0m-4 7h0m19-11h0m1 1h0m-7 1h0m3 2h0m15-5h0m0 3h0m0 1h0m4 6h0m-2 12h0m-17-8h0m2 2h0m-2 10h0m-9-2h0m-8 2h0m-16-11h0m5 6h0m-24-4h0m-23-2h0m6 0h0m0 3h0m-22-3h0m9 3h0m-12-2h0m-3 1h0m-1 3h0m-14 1h0m-4 1h0m16 10h0m1 1h0m4 3h0m17-9h0m-2 4h0m12 1h0m17-1h0m0 3h0m25-5h0m12 1h0m-4 9h0m21-6h0m5 6h0m-25 11h0m-17-6h0m3 6h0m-4 1h0m-3-4h0m-9 3h0m-9-7h0m1 6h0m-5 3h0m-9-10h0m-32 0h0m9 0h0m10 20h0m45-5h0m-12 2h0m11 5h0m5-7h0m9 0h0m-10 2h0m5 9h0m-19 4h0m7 5h0m-12-2h0m-6 1h0m7 4h0m-19-8h0m7 2h0m-13 5h0m26 5h0m-6 3h0"/>
<path id="k10_3" d="M-274 164h0m-1 3h0m-8-6h0m-7 4h0m-55 13h0m10-1h0m2 3h0m29-12h0m6 5h0m2 8h0m4-2h0m21 2h0m18-10h0m-10 2h0m5 0h0m-4 8h0m18-3h0m8 2h0m-1 1h0m-18 3h0m-8 11h0m-10-13h0m-21 9h0m0 0h0m-7-6h0m3 7h0m-37-10h0m2 1h0m-5-1h0m12 17h0m-6 6h0m1 1h0m11-7h0m25 5h0m-6 2h0m31-6h0m6-4h0m7 2h0m1 0h0m-7 2h0m22 2h0m-9 7h0m16-5h0m2 1h0m8-7h0m4 3h0m3 0h0m0 7h0m15-8h0m-2 6h0m-3 3h0m18 9h0m-13-5h0m-7 4h0m-2-5h0m-3 5h0m-9 6h0m-14-12h0m2 11h0m-14-10h0m3 1h0m-1 1h0m2 6h0m-10-6h0m-17 6h0m5 0h0m-27 2h0m7 3h0m2 3h0m11-4h0m-4 1h0m1 4h0m5 4h0m2 0h0m16-5h0m0 8h0m2-12h0m4 6h0m0 6h0m42-9h0m1 5h0m6 2h0m-5 3h0m23-10h0m26 12h0m-4 6h0m-37 5h0m1 0h0m-10-9h0m0 4h0m4 5h0m4 1h0m-20-3h0m-4 3h0m3 0h0m-7-11h0m-6 2h0m-21-2h0m-8 4h0m-21-3h0m13 14h0m-2 4h0m2 0h0m2 3h0m2 2h0m19-2h0m0 2h0m13-9h0m9-2h0m9 5h0m-9 5h0m26-3h0m4-7h0m-3 1h0m5 0h0m-2 7h0m28 1h0m6 0h0m9-5h0m6 0h0m-5 4h0m21-1h0m2 3h0m3 3h0m7 7h0m-2 2h0m-6 3h0m-16-12h0m11 12h0m-14-9h0m-1 2h0m-23-3h0m2 2h0m5 1h0m-17-4h0m-2 1h0m1 5h0m6 4h0m-9 2h0m-15-1h0m-5-11h0m1 5h0m0 5h0m-17-8h0m-4 4h0m1 2h0m0 1h0m-7-7h0m-4 6h0m-31 1h0m16 5h0m5 0h0m-2 10h0m5-4h0m4 1h0m18-2h0m-1 6h0m17-12h0m1 0h0m-5 4h0m-2 5h0m-3 1h0m1 1h0m1 0h0m20-9h0m-7 6h0m4 2h0m31-7h0m-7 7h0m1 3h0m16-9h0m4 9h0m7-6h0m8 2h0m11-3h0m8 1h0m6 10h0m-17-2h0m0 3h0m-4 1h0m2 0h0m8 4h0m-9 2h0m4 0h0m-26-8h0m2 6h0m-16-6h0m-1 10h0m-18-4h0m2 1h0m-9 0h0m-19 2h0m-2 1h0m-5-13h0m-4 3h0m1 1h0m-21-3h0m-5 24h0m27-9h0m-9 8h0m3 2h0m12-9h0m3 7h0m20-9h0m1 1h0m-11 8h0m1 3h0m18-8h0m-2 2h0m26-7h0m5 7h0m0 2h0m11-9h0m8 0h0m10 7h0m-20 9h0m3 3h0m7 2h0m-37-3h0m-6 4h0m3 2h0m-11 1h0m-18-9h0m-9 2h0m0 1h0m5 0h0m3 1h0m-6 2h0m-18-5h0m5 5h0m-15-2h0m18 21h0m15-10h0m25-2h0m3 1h0m-1 6h0m0 2h0m1 3h0m25-13h0m1 1h0m-6 5h0m12 7h0m-28 8h0m-45-6h0m1 0h0m0 0h0m-3 3h0m32 11h0"/>
<path id="k10_4" d="M-291 154h0m7 5h0m-54 19h0m30-2h0m6 0h0m-6 5h0m28-4h0m0 2h0m35-2h0m5 2h0m-2 1h0m2 1h0m46 14h0m-29-3h0m-10-10h0m6 1h0m2 1h0m-4 6h0m-13-3h0m-7 5h0m0 3h0m-11-13h0m1 12h0m-26 0h0m-13-12h0m-9 3h0m-3 9h0m-18-10h0m-2 1h0m2 1h0m-18 6h0m5 16h0m8-7h0m14 3h0m4 3h0m16-3h0m15-7h0m-8 6h0m9 0h0m-10 5h0m4 1h0m19-12h0m6 0h0m25 0h0m14 0h0m-2 2h0m-1 6h0m7-9h0m8 1h0m-4 8h0m9-2h0m13 6h0m9 5h0m2 5h0m1 3h0m-10 1h0m-15-7h0m-1 4h0m6 1h0m-12-6h0m-22-1h0m1 0h0m9 6h0m-19-9h0m-6 3h0m0 1h0m7 1h0m-8-1h0m-13 5h0m4 0h0m-15-9h0m10 6h0m-16-7h0m-7 4h0m6 0h0m-7 1h0m8 2h0m1 3h0m-25-6h0m-10 3h0m17 19h0m12-10h0m12 0h0m2 4h0m4 2h0m7-1h0m3 0h0m7 1h0m-9 4h0m17-3h0m16-5h0m6-1h0m6 4h0m-5 2h0m47-6h0m14 22h0m-16-10h0m-4 11h0m1 0h0m7 0h0m-33-4h0m-23 0h0m-8 4h0m2 1h0m-17-11h0m-9 0h0m-2 2h0m-14-4h0m1 15h0m7 2h0m15 10h0m6-13h0m6 4h0m0 1h0m9-4h0m14 2h0m23 10h0m20 0h0m17-3h0m10-2h0m6 4h0m2 1h0m5-1h0m12 7h0m1 2h0m-7-3h0m-10 1h0m-3-5h0m2 2h0m-8 7h0m-3 3h0m-7-11h0m-3 4h0m3 0h0m4 0h0m0 5h0m-17-7h0m-9 4h0m-2-3h0m-9 7h0m9 2h0m-26-13h0m3 6h0m3 7h0m-12-9h0m-6 3h0m2 0h0m-10 0h0m4 0h0m-11 1h0m7 2h0m-29-10h0m-2 5h0m0 0h0m2 16h0m4 4h0m6-4h0m-4 2h0m11 0h0m-2 3h0m-7 1h0m24-4h0m-7 3h0m14-5h0m13 1h0m3 0h0m-5 2h0m21-9h0m-1 4h0m-1 3h0m17-1h0m19-4h0m1 6h0m10 0h0m13-9h0m-3 7h0m1 2h0m2 2h0m11-10h0m-3 6h0m9-2h0m1 0h0m2 7h0m9 6h0m-25-3h0m2 7h0m4 0h0m6 3h0m-9 1h0m-27-11h0m3 3h0m-12-4h0m-10 4h0m6 4h0m-8 0h0m-25-7h0m4 1h0m7 1h0m-2 4h0m0 3h0m-11-4h0m-10 7h0m-10 0h0m-31 0h0m24 10h0m19-7h0m6 9h0m1 1h0m9-11h0m5 2h0m0 3h0m5-4h0m-2 1h0m3 4h0m1 2h0m35-9h0m-7 3h0m-1 4h0m-4 2h0m7 0h0m13-9h0m1 4h0m1 0h0m10 1h0m-3 6h0m7 1h0m-34 3h0m2 0h0m-2 9h0m-24-1h0m-14-9h0m-6 2h0m8 1h0m-9-2h0m-8 4h0m1 0h0m-14 1h0m-18 0h0m16 8h0m11 9h0m8 1h0m2 2h0m12-9h0m8 1h0m-3 6h0m16-10h0m11 3h0m10 7h0m1 0h0m7-8h0m-2 1h0m2 1h0m-54 13h0m5 3h0m-24-3h0m9 3h0m0 4h0m17 6h0m-13 13h0"/>
<path id="k10_5" d="M-292 161h0m-14 11h0m7 9h0m16-4h0m17-4h0m12 0h0m-8 1h0m4 3h0m55 13h0m-9 3h0m0 1h0m-22-10h0m-34 1h0m-2 7h0m1 2h0m-24-11h0m-12 3h0m-7-4h0m-10 2h0m5 0h0m-19 1h0m12 4h0m-19-7h0m4 7h0m-8 5h0m17 2h0m10 1h0m23 1h0m0 3h0m0 8h0m12-11h0m-9 7h0m2 1h0m-1 1h0m37-11h0m2 7h0m-12 4h0m14-9h0m4 3h0m-3 7h0m23-12h0m-5 8h0m9-6h0m7 3h0m-4 5h0m23-4h0m-8 7h0m24 9h0m0 4h0m-4-7h0m0 4h0m-7 3h0m-11 0h0m-12-10h0m-1 1h0m6 2h0m-4 2h0m4 3h0m-21-9h0m-6 4h0m-16-1h0m-3 3h0m-5 5h0m5 1h0m-23-9h0m1 5h0m-11-5h0m2 0h0m5 4h0m2 0h0m-8 3h0m-7 0h0m-20-2h0m21 5h0m-9 4h0m10-3h0m12 7h0m9-6h0m13-1h0m12-1h0m0 7h0m23-6h0m-11 1h0m9 3h0m15-3h0m3 8h0m53 6h0m-2 11h0m-24-5h0m1 5h0m-6-8h0m-5 2h0m7 1h0m-17-7h0m4 12h0m-40-13h0m12 0h0m-13 7h0m-5 1h0m-17-6h0m0 1h0m-3 3h0m6 6h0m-9-9h0m-16-2h0m14 15h0m0 5h0m4-6h0m6 0h0m-2 2h0m-5 4h0m12 1h0m0 3h0m-9 1h0m20-12h0m3 5h0m-10 1h0m3 1h0m11-4h0m3 5h0m16-7h0m-3 7h0m18-6h0m3 3h0m4 0h0m2 1h0m4 0h0m1 1h0m-3 3h0m31-8h0m3 0h0m-1 10h0m1 0h0m22-7h0m7 4h0m0 1h0m2 3h0m14 4h0m-6 2h0m-1 2h0m-21-5h0m-6-2h0m2 3h0m-9 5h0m-10-4h0m-19 2h0m-1 0h0m-37-3h0m9 5h0m-13 3h0m-20-6h0m-3 5h0m8 2h0m-14 1h0m3 8h0m21-3h0m-4 7h0m35-10h0m-12 1h0m13 0h0m-7 3h0m26-2h0m14-1h0m7 3h0m-9 4h0m1 2h0m3 0h0m0 0h0m6 1h0m13-4h0m22-5h0m1 2h0m-5 17h0m7 3h0m-18-9h0m9 2h0m-8 7h0m-12-11h0m-2 3h0m4 8h0m-5 2h0m-16-3h0m7 1h0m-3 2h0m-14-11h0m0 8h0m-7-7h0m-8 2h0m-2 3h0m-6-5h0m-1 4h0m-17 2h0m-14-9h0m1 1h0m2 1h0m2 3h0m-11 7h0m-9-11h0m2 0h0m5 1h0m-1 12h0m7 6h0m18-6h0m1 4h0m4 1h0m1 4h0m17-5h0m8 4h0m8-2h0m6 0h0m0 1h0m-7 1h0m14-5h0m0 1h0m1 0h0m11 3h0m1 5h0m3 1h0m17-8h0m-3 8h0m11-6h0m-1 5h0m-5 11h0m-19-9h0m-23 12h0m-20-6h0m1 4h0m2 1h0m-19-11h0m5 3h0m4 4h0m-18-7h0m-2 3h0m11 16h0m-2 1h0m4 0h0m-3 1h0m1 1h0m16 2h0m0 0h0m18-8h0m3 8h0m-4 2h0m8-11h0m9 0h0m1 0h0m0 5h0m-11 5h0m4 3h0m-13 5h0m-13-3h0m2 1h0m-10 4h0m-10-7h0m0 11h0m-6-8h0m0 10h0m27 2h0m-7 6h0m-5 9h0m-7 2h0"/>
<path id="k10_6" d="M-289 160h0m1 0h0m1 2h0m1 1h0m-47 16h0m5 0h0m-3 1h0m19-3h0m6 2h0m15-9h0m10 9h0m55 1h0m17 11h0m10 4h0m-25-11h0m9 9h0m-1 1h0m0 0h0m-12-8h0m3 1h0m-1 2h0m0 3h0m-20-1h0m1 2h0m-16 0h0m-2 1h0m-6-9h0m-24 6h0m-12-6h0m-3 2h0m10 1h0m-5 5h0m-31-5h0m11 0h0m-22 6h0m-2 4h0m8 3h0m-4 2h0m4 0h0m16-3h0m25 1h0m11 1h0m25-5h0m4 1h0m1 8h0m-8 2h0m15-7h0m38-5h0m-10 10h0m4 0h0m1 0h0m-1 1h0m10-8h0m9 2h0m-4 4h0m-1 5h0m3 2h0m-22 4h0m-15-4h0m0 10h0m-9-9h0m1 0h0m0 2h0m1 8h0m-9-10h0m-6 6h0m-17 3h0m0 1h0m-25-10h0m-13 4h0m61 12h0m-9 2h0m-3 1h0m10 3h0m11-10h0m4 10h0m14-1h0m8-9h0m7 0h0m-12 1h0m9 11h0m14-11h0m-7 7h0m19-9h0m10 7h0m0 3h0m12-6h0m6 2h0m7 19h0m-5-2h0m-1 4h0m-21-4h0m-14-2h0m5 6h0m-7-7h0m-39 0h0m2 1h0m-12-5h0m-1 1h0m6 3h0m-20 5h0m2 0h0m1 1h0m0 1h0m-21-13h0m6 0h0m-12 1h0m11 15h0m20 1h0m-10 6h0m5 0h0m-1 2h0m18-9h0m3 4h0m4-5h0m3 3h0m-6 3h0m48 0h0m1 0h0m3 2h0m2 3h0m6-3h0m3 1h0m2 1h0m-1 1h0m14-2h0m11-8h0m4 3h0m-3 8h0m21-12h0m-9 7h0m10 3h0m11 3h0m0 6h0m-9 6h0m-15 1h0m12 0h0m-17-11h0m1 9h0m-24-11h0m12 1h0m-22 5h0m-1 1h0m3 6h0m-21-13h0m0 1h0m13 3h0m-1 2h0m-9 1h0m-4-7h0m-2 7h0m-23 0h0m0 2h0m0 3h0m-3-12h0m-5 10h0m-11-1h0m-20-9h0m0 8h0m1 11h0m30 7h0m19-10h0m-2 5h0m-6 4h0m14-5h0m7 2h0m34-6h0m0 0h0m0 1h0m-4 8h0m52-5h0m-5 4h0m13 10h0m-11-6h0m-4 4h0m6 5h0m-35-7h0m-46 6h0m-6 5h0m-12-12h0m-7 12h0m-12-9h0m0 6h0m6 2h0m-15-7h0m0 1h0m5 0h0m-5 2h0m2 1h0m1 5h0m0 4h0m11 2h0m27-5h0m-4 1h0m2 1h0m24-3h0m4 0h0m1 2h0m6 0h0m12-1h0m-7 6h0m3 2h0m-5 1h0m2 1h0m17-11h0m14 0h0m0 0h0m-5 1h0m6 2h0m3 1h0m2 4h0m-3 9h0m3 6h0m-24 0h0m-6-9h0m-7 5h0m-5-3h0m-11 2h0m-2 6h0m-22-7h0m1 1h0m5 2h0m-24-3h0m-7-3h0m5 1h0m18 18h0m2 0h0m-4 1h0m19 7h0m11-9h0m10 3h0m12-7h0m-6 1h0m1 6h0m-4 4h0m13 4h0m-9-1h0m-7 0h0m-12 10h0m-14-5h0m0 11h0m11 2h0m-14 14h0"/>
<path id="k10_7" d="M-288 153h0m8 12h0m-13-1h0m-28 3h0m-17 8h0m4 6h0m24-9h0m6 7h0m-4 2h0m19-6h0m6 2h0m6 2h0m17-5h0m6 7h0m9-2h0m-4 2h0m18-6h0m5 5h0m29 4h0m-12 6h0m5 3h0m-21-8h0m-9 4h0m-26-7h0m-5 6h0m-9-4h0m3 3h0m-7 5h0m-5-3h0m-26 5h0m-25-11h0m-2 3h0m-10 4h0m0 1h0m0 2h0m10 10h0m12 3h0m1 2h0m-9 1h0m10-12h0m3 0h0m1 0h0m20 7h0m14-8h0m2 4h0m-9 9h0m14-9h0m12-4h0m9 7h0m6-4h0m25-3h0m-3 5h0m-4 5h0m16-5h0m1 4h0m7-3h0m11 1h0m-9 1h0m68 16h0m-67-4h0m-16-2h0m-24-1h0m-7 10h0m-4-13h0m-4 12h0m-8-2h0m-15-3h0m-12-7h0m-21 5h0m19 19h0m26-8h0m3 0h0m-1 11h0m7-5h0m3 0h0m4 2h0m16-10h0m-2 3h0m-3 9h0m27-5h0m9-5h0m35 3h0m-6 2h0m48 12h0m-43-4h0m-21 8h0m9 1h0m-17-10h0m-18 7h0m-1 4h0m-12-9h0m5 1h0m-22 8h0m-9-7h0m2 0h0m0 4h0m-9 18h0m8-8h0m5 8h0m-4 1h0m27-6h0m-7 1h0m11 3h0m4-6h0m2 1h0m14 3h0m14 0h0m16 1h0m6 0h0m9-8h0m-3 3h0m18-5h0m-2 9h0m4 1h0m1 0h0m17-3h0m-6 6h0m18 8h0m-9 4h0m-14-6h0m6 0h0m-10 2h0m0 2h0m-16-7h0m-7 1h0m9 6h0m-22-1h0m-4 4h0m-4-10h0m-8 3h0m0 0h0m3 1h0m7 4h0m-26-5h0m-13 2h0m6 0h0m-4 2h0m-12-3h0m0 3h0m-16 4h0m1 0h0m-13-3h0m8 12h0m12-6h0m-4 2h0m7 5h0m37-9h0m3 2h0m0 3h0m-6 2h0m8-7h0m1 2h0m7 0h0m-8 2h0m26-4h0m6 1h0m3 2h0m0 10h0m3 0h0m6-5h0m3 1h0m18-7h0m0 7h0m-4 2h0m0 1h0m11-6h0m17-5h0m-1 17h0m-18-4h0m7 0h0m1 6h0m-17 4h0m-11-4h0m5 4h0m-20-3h0m-15-2h0m-3 8h0m-13-9h0m-25-4h0m-4 8h0m3 0h0m-1 1h0m-13-6h0m-16 5h0m64 11h0m-12 2h0m32-6h0m-1 5h0m-3 2h0m5 0h0m6 2h0m10-10h0m-4 7h0m22-5h0m-11 2h0m14-4h0m9 5h0m-12 15h0m-45 4h0m3 3h0m-18-9h0m-21-2h0m12 4h0m-26-5h0m7 10h0m1 3h0m10 1h0m2 5h0m31-2h0m4 3h0m11-1h0m-6 3h0m-2 1h0m19-9h0m-3 6h0m11-5h0m-10 12h0m-9 2h0m-8 6h0m-9-1h0m-6 5h0m-8-12h0m-14 3h0m-1 3h0m-4 4h0m20 7h0m-7 8h0m-6 9h0"/>
<path id="k6b_0" d="M-252 -22h0m5 6h0m3 13h0m-23 16h0m9-3h0m14-6h0m21 18h0m-3-4h0m-1 9h0m-36-12h0m-3 2h0m7 1h0m-1 2h0m1 3h0m-8 10h0m8 3h0m42-7h0m-5 11h0m1 8h0m-13-3h0m-23 10h0m13 5h0m-1 5h0m3 4h0m8-3h0"/>
<path id="k6b_1" d="M-258 -16h0m14 9h0m3 16h0m-1 3h0m9-11h0m1 3h0m-27 27h0m-7 1h0m1 9h0m35-12h0m2 4h0m5 18h0m-11-5h0m1 2h0m8 3h0m0 4h0m-24-4h0m9 2h0m-17-3h0m2 3h0m-2 2h0m16 1h0m-10 4h0"/>
<path id="k6b_2" d="M-260 -19h0m18 6h0m-7 9h0m10 7h0m6 7h0m4 6h0m0 3h0m-8 3h0m-3-7h0m-26 18h0m7 1h0m26-6h0m-1 5h0m16 7h0m-7 5h0m-9 2h0m-1 1h0m4 3h0m6 3h0m-16 0h0m-7 2h0m4 3h0m8-2h0m-1 4h0m14-5h0"/>
<path id="k6b_3" d="M-364 -85h0m107 62h0m1 8h0m9 2h0m0 7h0m7 3h0m-6 5h0m21 17h0m-9 8h0m-27-12h0m3 0h0m2 1h0m-93 19h0m88-5h0m26-1h0m6 3h0m1 2h0m-6 6h0m11-10h0m-37 23h0m5 2h0m2 2h0m1 1h0m2 5h0m8 1h0m8-8h0m9 2h0"/>
<path id="k6b_4" d="M-246 -16h0m-3 10h0m-2 3h0m8 14h0m15 6h0m-4 3h0m-25-5h0m0 0h0m-6 7h0m6 5h0m-5 4h0m-3 1h0m5 0h0m-3 9h0m40 3h0m-3-2h0m-7 2h0m-13 9h0m2 1h0m-12-12h0m3 20h0m11-4h0m-10 6h0m7 0h0m7-3h0m4 2h0"/>
<path id="k6b_5" d="M-364 -83h0m123 75h0m-6 2h0m-8-7h0m22 25h0m5 1h0m-8 1h0m8 0h0m-9 5h0m3 7h0m-29-12h0m2 0h0m-2 1h0m4 10h0m-111-9h0m111 18h0m-2 3h0m5 4h0m31-13h0m-6 6h0m12 4h0m0 0h0m-2 4h0m3 5h0m-2 2h0m-32-2h0m10 5h0m-10 2h0m-2-10h0m-8 1h0m-94 20h0m104-2h0m4 3h0m13-7h0m6 2h0m-4 2h0"/>
<path id="k6b_6" d="M-360 -78h0m104 60h0m7 10h0m10 0h0m-5 2h0m0 2h0m-14-8h0m4 0h0m-2 1h0m1 7h0m-6 17h0m32 6h0m-8 1h0m4 5h0m-32-9h0m6 0h0m2 11h0m-119-8h0m0 1h0m-17 0h0m133 8h0m29 5h0m3 3h0m5-6h0m1 20h0m-16 1h0m8 1h0m-29 3h0m3 10h0m4-1h0"/>
<path id="k6b_7" d="M-360 -83h0m-27 50h0m129 13h0m-6 31h0m21-6h0m3 0h0m5-4h0m2 7h0m-5 2h0m-27 16h0m-3-4h0m-115 11h0m6-2h0m117 3h0m29-5h0m-4 11h0m5 1h0m0 0h0m10-7h0m-6 16h0m-1 2h0m-18 0h0m-22-10h0m-1 1h0m30 18h0m5 4h0m-128 5h0"/>
<path id="k6a_0" d="M-312 -60h0m-3 1h0m4 0h0m3 9h0m5 4h0m44 24h0m-7 4h0m1 5h0m-23-1h0m-12 5h0m-2 8h0m-11-8h0m-7 7h0m13 6h0m-1 1h0m2 4h0m6 0h0"/>
<path id="k6a_1" d="M-312 -54h0m15 15h0m-26-1h0m-8 14h0m0 4h0m4 3h0m25-2h0m-1 5h0m15 7h0m-15-1h0m3 2h0m0 5h0m-14-11h0m1 1h0m-9 1h0m0 6h0m-7 4h0m31 2h0"/>
<path id="k6a_2" d="M-302 -48h0m4 8h0m-8 11h0m-24 8h0m5 1h0m14 2h0m48 2h0m2 4h0m2 0h0m-4 10h0m-24-10h0m6 0h0m-16 10h0m-15-10h0m-2 2h0m17 15h0"/>
<path id="k6a_3" d="M-306 -49h0m-15 9h0m-7 7h0m-4 10h0m18 0h0m1 5h0m9 0h0m36-1h0m2 5h0m5 0h0m-18 3h0m-6 1h0m-19 0h0m-12 1h0m-4 4h0m-3 1h0m-9 5h0"/>
<path id="k6a_4" d="M-319 -67h0m2 3h0m4 5h0m16 18h0m-32 8h0m5 15h0m12-7h0m0 1h0m3 1h0m-6 8h0m1 0h0m12-5h0m43-2h0m-5 4h0m5 8h0m-11-2h0m-21 0h0m8 3h0m-20 0h0m0 5h0m-18-9h0m4 4h0m5 5h0m-2 11h0m7 3h0m18-8h0"/>
<path id="k6a_5" d="M-304 -59h0m-24 36h0m0 2h0m19-7h0m-9 12h0m13-11h0m0 3h0m35 13h0m-21 10h0m-12-11h0m2 3h0m2 0h0m3 1h0m1 3h0m-18-9h0m-3 5h0m5 7h0m-10 1h0m-12 2h0"/>
<path id="k6a_6" d="M-319 -63h0m0 3h0m-1 18h0m-2 12h0m-5-3h0m9 16h0m4 0h0m3 1h0m6-4h0m26 5h0m6 9h0m-20-3h0m-10 0h0m6 0h0m-3 6h0m-20-2h0m-7-7h0m-5 5h0m15 12h0m0 3h0m21-5h0m3 0h0"/>
<path id="k6a_7" d="M-320 -68h0m2 2h0m-4 1h0m18 17h0m1 20h0m-2 5h0m40 9h0m-2 8h0m-23-7h0m8 1h0m-2 1h0m-11 0h0m-3 3h0m1 6h0m-13-8h0m-8 2h0m9 3h0m-2 3h0m-6 1h0m-12-3h0m9 4h0m9 0h0m1 1h0m8 3h0m10-3h0m-1 1h0m2 0h0"/>
<path id="k9x_0" d="M-391 14h0m-7 49h0m0 47h0m-12-6h0m26 17h0m42 5h0m4 0h0"/>
<path id="k9x_1" d="M-445 -62h0m45 44h0m55 75h0m-24 52h0"/>
<path id="k9x_2" d="M-420 -36h0m50 11h0m-41 28h0m-34 23h0m18 9h0m71 38h0"/>
<path id="k9x_3" d="M-360 -94h0m-40 148h0m17 63h0"/>
<path id="k9x_4" d="M-383 -68h0m-32 69h0"/>
<path id="k9x_5" d="M-408 -98h0m-24 7h0m3 0h0m20 32h0m-14 21h0m-41 3h0"/>
<path id="k9x_6" d="M-363 -109h0m38 1h0m-13 169h0m36 76h0m-52 23h0"/>
<path id="k9x_7" d="M-413 -32h0m67 23h0"/>
<path id="k5a_0" d="M-142 -171h0m-11 8h0m7 6h0m9-8h0m0 2h0m5 3h0m12 5h0m-9 7h0m-25 0h0m0 6h0m-13 0h0m0 9h0m1 2h0m1 3h0m12-11h0m4 0h0m5 1h0m-5 11h0m24-12h0m8 2h0m5-1h0m29 6h0m-6 6h0m-5 11h0m-14-9h0m5 3h0m2 2h0m0 4h0m-26-11h0m-40 4h0m-23 12h0m5 1h0m5-1h0m-1 2h0m-1 5h0m4 3h0m22-11h0m-9 2h0m-1 5h0m6 3h0m-7 2h0m23-13h0m25 13h0m11-9h0m19 2h0m-9 4h0m-41 9h0m-9 7h0m-12-6h0m-7 7h0m-8-12h0m1 3h0m0 4h0m-8 2h0m6 2h0m-9 5h0m75 7h0m50-10h0m-8 8h0m10 2h0m6-2h0m-4 5h0m-7 1h0m1 13h0m-17-5h0m-56-5h0m-12 8h0m-18-9h0m0 0h0m6 3h0m-17 15h0m22-3h0m12 8h0m63-9h0m-3 7h0m35-5h0"/>
<path id="k5a_1" d="M-142 -176h0m-3 11h0m34 20h0m-11-6h0m2 2h0m-31-1h0m2 15h0m16-3h0m7 1h0m2 3h0m10 6h0m4-11h0m4 8h0m-5 2h0m8 0h0m24-3h0m-16 7h0m5 5h0m0 3h0m-8 3h0m-61-1h0m-33 15h0m10-4h0m0 4h0m21-12h0m3 1h0m-9 10h0m64-4h0m10-6h0m8 1h0m0 5h0m-6 5h0m8 0h0m17 11h0m-14-9h0m-11 1h0m-30-1h0m6 9h0m-24-4h0m-5-2h0m-16 3h0m-16-4h0m3 6h0m-15-8h0m-9 5h0m29 12h0m41 7h0m25 3h0m6-2h0m40-5h0m6 15h0m-13-2h0m-4 1h0m6 5h0m-14-3h0m-78 4h0m-13-9h0m-1 1h0m-16 17h0m13-2h0m13 0h0m-3 1h0m2 3h0m15-5h0m0 2h0m18 1h0m60 1h0m-1 2h0m13-8h0"/>
<path id="k5a_2" d="M-146 -167h0m-1 7h0m12-7h0m1 4h0m-2 3h0m6 0h0m8 10h0m-8-4h0m-4 1h0m-8 9h0m-24 5h0m21 6h0m30-1h0m-2 2h0m3 4h0m-53 9h0m-10-3h0m5 6h0m68 4h0m-3 5h0m10-5h0m-1 4h0m9 5h0m-1 1h0m7 1h0m14 14h0m-66 2h0m-6-11h0m-19-1h0m-2 1h0m-23 1h0m2 12h0m8 8h0m115-9h0m-7 15h0m6 5h0m-14 1h0m-4 6h0m-71-2h0m-11-8h0m6 6h0m-5 1h0m-15-9h0m4 12h0m-1 1h0m-3 3h0m3 0h0m-2 4h0m14-6h0m15 7h0m5 1h0m18-1h0m42-3h0m21-4h0m0 1h0"/>
<path id="k5a_3" d="M-143 -167h0m-11 6h0m21-5h0m2 6h0m8-2h0m3 4h0m-5 8h0m0 2h0m12 5h0m-39-11h0m-3 0h0m-2 7h0m-5 3h0m35 4h0m4 4h0m11 3h0m5 17h0m-7-6h0m1 4h0m-15-4h0m-26 7h0m-7-5h0m-20 12h0m8 1h0m11 4h0m64 1h0m6 3h0m15-1h0m15 14h0m-21-7h0m12 0h0m-12 6h0m-79-9h0m-2 10h0m-16-4h0m10 1h0m-12 2h0m-9 7h0m17-3h0m-2 2h0m29 1h0m16 4h0m1 0h0m1 3h0m9-8h0m59-1h0m4 3h0m-8 1h0m0 1h0m10 1h0m1 12h0m2 4h0m4 3h0m-13-4h0m-1 4h0m-32-4h0m-58 3h0m-16-3h0m-1-7h0m-17 3h0m8 9h0m13 5h0m20 4h0m-6 1h0m15-6h0m-1 6h0m58-6h0m24-3h0m8 10h0"/>
<path id="k5a_4" d="M-144 -170h0m13 4h0m-3 10h0m7 1h0m13 12h0m-14-3h0m1 1h0m-25-6h0m2 6h0m-8-2h0m-8 16h0m42 2h0m42-1h0m0 1h0m-17 16h0m-14-8h0m-37 0h0m-20-2h0m-5 2h0m1 1h0m-15 11h0m13 1h0m-2 9h0m18-5h0m0 2h0m4 3h0m38-3h0m-1 1h0m2 1h0m30-12h0m-1 11h0m13 1h0m7 8h0m-2 3h0m-14-4h0m-9 7h0m-30-12h0m-30 7h0m-14-4h0m5 5h0m3 4h0m-12-12h0m-9 8h0m-9 9h0m-5 1h0m26-4h0m9 2h0m-5 9h0m15 2h0m10-9h0m38 9h0m25-13h0m-2 6h0m14-1h0m6 1h0m1 4h0m-10 1h0m5 9h0m0 6h0m2 1h0m-75-6h0m-29-2h0m1 4h0m-26-5h0m8 19h0m23-4h0m1 5h0m20-7h0m-3 5h0m8 3h0m6-2h0m2 0h0m78-7h0m-8 2h0"/>
<path id="k5a_5" d="M-153 -164h0m18 3h0m0 4h0m-5 8h0m-9 2h0m1 3h0m1 1h0m-12 2h0m43 3h0m0 4h0m2 1h0m10 5h0m23-6h0m-16 13h0m-15-5h0m4 4h0m8 3h0m-50-5h0m4 1h0m-5 2h0m7 8h0m-17 6h0m24-4h0m32-1h0m15 4h0m-5 3h0m4 5h0m10-5h0m-1 12h0m-1 1h0m5 6h0m-4 1h0m-10-1h0m-19-2h0m-51-10h0m-3 8h0m-6-1h0m-10 1h0m-7 6h0m17 7h0m2 5h0m6-5h0m-2 5h0m25-10h0m2 3h0m61-3h0m12 1h0m3 5h0m8 6h0m7 11h0m-21-11h0m1 12h0m-12 0h0m-30-12h0m-54 0h0m-4 4h0m6 1h0m-1 1h0m4 5h0m3 1h0m-15-5h0m-3 1h0m2 1h0m-6 4h0m8 1h0m14 1h0m-6 1h0m12 6h0m-4 1h0m15-8h0m13 8h0m59 0h0"/>
<path id="k5a_6" d="M-145 -176h0m8 10h0m5 7h0m0 4h0m2 5h0m3 4h0m-14-8h0m-12 1h0m0 2h0m-12 11h0m10 0h0m-10 5h0m10 2h0m10-1h0m32-5h0m-4 3h0m-8 2h0m4 0h0m4 7h0m10 0h0m9 2h0m-7 2h0m4 0h0m1 1h0m-1 1h0m-6 2h0m-58-6h0m6 1h0m-13-2h0m-3 6h0m-21 19h0m29-4h0m24-7h0m-11 1h0m48 4h0m30 2h0m2 5h0m4 9h0m-8-4h0m-15 0h0m7 3h0m-49-1h0m-32 1h0m3 5h0m7 1h0m-15-12h0m-7 7h0m-6 12h0m16-1h0m-10 4h0m4 1h0m3 4h0m12-12h0m52 12h0m38-9h0m8 5h0m1 1h0m0 0h0m8-1h0m-9 14h0m3 3h0m-20-4h0m-6 5h0m-51-6h0m-32-6h0m3 0h0m2 8h0m2 0h0m-19-9h0m21 14h0m16 4h0m0 0h0m-2 1h0m9 2h0m5 3h0m17-3h0m25 3h0m11-2h0m21-8h0m-6 1h0"/>
<path id="k5a_7" d="M-148 -163h0m-5 7h0m23-10h0m12 12h0m-32 2h0m-2 8h0m-6 17h0m15-9h0m19-1h0m6 6h0m6-3h0m3 2h0m14 9h0m1 1h0m-15 0h0m3 0h0m-2 2h0m-10-4h0m-34 3h0m3 8h0m-7-9h0m-14-4h0m-2 4h0m-22 21h0m29 1h0m76-11h0m-7 9h0m28 13h0m8 1h0m-14-8h0m-3 1h0m-4 7h0m-1 1h0m-10-11h0m7 9h0m-10 1h0m-66-8h0m3 0h0m-4 6h0m3 2h0m-12-9h0m-5 1h0m6 3h0m-3 6h0m-13 3h0m4 2h0m0 1h0m23-3h0m-7 2h0m4 8h0m14 2h0m-1 1h0m85 0h0m1 0h0m7-1h0m-10 7h0m-97 6h0m-6 3h0m-2 1h0m-1 2h0m10 1h0m26 2h0m-1 5h0m16-9h0m43 5h0m31-4h0m0 0h0"/>
<path id="k5b_0" d="M-181 -43h0m36 0h0m20-1h0m5 1h0m58 2h0m-44 5h0m2 7h0m-11-13h0m-5 1h0m2 4h0m-58 17h0m36-3h0m79-1h0m4 3h0m7 1h0m-6 4h0m-7 3h0m4 8h0m-66-9h0m8 7h0m-31-4h0m-23 5h0m97 16h0m-16 7h0m-28 19h0m27-1h0m-35 107h0m-35 30h0"/>
<path id="k5b_1" d="M-155 -44h0m108 7h0m-10 8h0m-55-9h0m-10 1h0m0 7h0m-4 1h0m-9-10h0m14 13h0m12 1h0m15 1h0m32 0h0m2 1h0m-1 5h0m12 0h0m-21 5h0m7 6h0m-7 6h0m-34-6h0m2 0h0m-16-3h0m41 17h0m4 5h0m4-6h0m0 8h0m-10 0h0m7 0h0m-6 7h0m-10-7h0m-2 12h0m-13-10h0m-14 23h0m26-4h0m-51 117h0m-13 2h0m-12 27h0m27 14h0"/>
<path id="k5b_2" d="M-121 -44h0m72 0h0m6 8h0m-10 2h0m3 4h0m-6 1h0m-30-3h0m-20-7h0m6 10h0m-28-11h0m1 8h0m-22-6h0m37 16h0m60 10h0m-4 4h0m-8-3h0m-4 5h0m-68 6h0m36 11h0m30-11h0m11 8h0m-20 6h0m0 3h0m-4 5h0m-5 0h0m4 6h0m4 3h0m0 1h0m1 0h0m-64 157h0m-8 4h0m-9 3h0"/>
<path id="k5b_3" d="M-176 -44h0m42 1h0m80 0h0m-12 4h0m-8 4h0m-33-4h0m-7 8h0m-18-11h0m-21 2h0m36 13h0m11 0h0m43 4h0m-1 5h0m4 3h0m11-2h0m-5 5h0m-2 2h0m3 5h0m-17 0h0m6 4h0m-7-8h0m-76-2h0m-3 9h0m38 2h0m26 3h0m7 7h0m7 3h0m4-8h0m-2 15h0m-11-1h0m-20-5h0m7 17h0m13 1h0m-51 105h0m-7 2h0m-9 50h0m-19 11h0"/>
<path id="k5b_4" d="M-101 -43h0m-8 4h0m-1 4h0m0 5h0m-14-5h0m-9-3h0m-12-3h0m36 15h0m54 10h0m4 6h0m-103 1h0m-15 0h0m32 9h0m57 4h0m5 5h0m-9 7h0m9 7h0m-8 2h0m-3-10h0m-8 7h0m9 5h0m-11 4h0m7 9h0m6 2h0m-89 105h0m10 6h0m27-12h0m-19 26h0m-8 25h0"/>
<path id="k5b_5" d="M-138 -43h0m92 0h0m-8 6h0m-7 7h0m-26-1h0m-1 1h0m-17-4h0m-7 3h0m-3-6h0m-24-3h0m12 0h0m0 10h0m-61-5h0m73 9h0m-11 11h0m58-3h0m15-4h0m-6 9h0m-9 9h0m1 3h0m-59-13h0m-20 3h0m-22 2h0m68 19h0m1 0h0m12-9h0m8 10h0m11-3h0m-16 9h0m6 4h0m-4 5h0m-10-5h0m4 1h0m1 0h0m-1 18h0m11-11h0m-4 1h0m-51 113h0m-16 24h0"/>
<path id="k5b_6" d="M-44 -35h0m-67-5h0m4 0h0m4 7h0m2 4h0m-23-5h0m-8 1h0m10 6h0m7 1h0m-6 3h0m0 2h0m54 4h0m9 2h0m-4 3h0m2 5h0m-1 6h0m-23 6h0m15-5h0m-8 18h0m3 0h0m-4 1h0m-9 3h0m1 7h0m-3 11h0m6-11h0m-63 92h0m-4 31h0m-8 10h0m-11 18h0m6 0h0m7 8h0"/>
<path id="k5b_7" d="M-180 -43h0m29-1h0m52 0h0m53 0h0m0 1h0m-3 5h0m-5 6h0m-12-7h0m-47-2h0m-19 3h0m22 10h0m7 1h0m1 0h0m42 2h0m2 7h0m4-2h0m-3 15h0m-5 1h0m-11-1h0m-25-8h0m-52 13h0m86 1h0m-3 9h0m-14 9h0m-3 8h0m-4-12h0m-2 2h0m-2 4h0m-23 18h0m26-7h0m6 6h0m1 2h0m-57 100h0m-22 34h0m11-5h0m-6 27h0"/>
<path id="k7a_0" d="M-76 -232h0m1 0h0m17 18h0m-8 2h0m16-2h0m9 9h0m-5-5h0m-22 3h0m11 2h0m-19 0h0m17 18h0m16-6h0m-12 2h0m1 7h0m30 3h0m-9 0h0m-6 3h0m2 1h0m5 1h0m-18-4h0m7 11h0m-3 1h0m2 0h0m11 1h0m6 1h0m11 10h0m-9 1h0m19 0h0m-6 1h0m0 0h0m6 3h0m-4 1h0m-1 1h0m5 2h0m-12-4h0m-7 1h0m1 1h0m6 1h0m10 13h0m11 1h0m8 4h0m-1 3h0m13-5h0m28 16h0m0 1h0m-9 2h0m-21-13h0"/>
<path id="k7a_1" d="M-75 -228h0m4 4h0m0 1h0m-4 1h0m0 2h0m7 3h0m13-7h0m0 20h0m1 6h0m-15-10h0m0 2h0m10 4h0m-10 3h0m-5-11h0m-3 1h0m14 19h0m15-1h0m-1 3h0m4 4h0m7 5h0m8 2h0m-14 3h0m23 17h0m8-1h0m15 12h0m-10-5h0m-10 9h0m3 0h0m17 11h0m12-3h0m7 3h0m-7 4h0m34 9h0m4 0h0m-18 3h0"/>
<path id="k7a_2" d="M-80 -240h0m4 18h0m-2 5h0m5 3h0m-1 1h0m5-1h0m22 5h0m2 8h0m-21-7h0m-2 2h0m1 4h0m-6 3h0m25 3h0m-1 3h0m-1 10h0m11-1h0m18 15h0m-10-6h0m1 1h0m-3 5h0m-17-12h0m3 1h0m4 18h0m10-6h0m-4 7h0m7 4h0m5-9h0m13 5h0m6 12h0m-8 7h0m24 3h0m-9 1h0m47 22h0m-18 3h0m-8-8h0"/>
<path id="k7a_3" d="M-78 -241h0m-1 11h0m-1 3h0m9 7h0m-3 7h0m4 0h0m9 1h0m9-7h0m-1 3h0m12 12h0m-9 0h0m-3 2h0m-17 0h0m1 0h0m4 3h0m-7-6h0m-2 4h0m28 7h0m-8 2h0m1 8h0m18-6h0m1 1h0m7 2h0m0 14h0m-12-9h0m0 4h0m-17-4h0m10 2h0m-3 2h0m5 2h0m-1 3h0m8 9h0m5 2h0m-5 5h0m10-10h0m2 7h0m-1 1h0m12-3h0m5 16h0m1 4h0m-12-7h0m1 0h0m-8 4h0m34 5h0m-1 2h0m2 10h0m5 1h0m2-1h0m34 10h0m3 1h0m-30-9h0m-1 8h0m26 6h0"/>
<path id="k7a_4" d="M-78 -225h0m7 3h0m-8 5h0m16 5h0m25 9h0m-12-3h0m-2 4h0m0 3h0m-12-10h0m-1 4h0m-2 5h0m-6-8h0m9 14h0m3 5h0m13-2h0m-1 4h0m14-2h0m6 14h0m-17-6h0m-9 1h0m2 2h0m12 12h0m7 4h0m-6 5h0m30-1h0m14 12h0m-2 3h0m4 0h0m-19-11h0m-4 5h0m-1 2h0m14 8h0m10 9h0m8 1h0m0 4h0m8 0h0m22 13h0"/>
<path id="k7a_5" d="M-70 -229h0m11 9h0m-11 4h0m35 19h0m-10-9h0m0 4h0m0 0h0m-10 3h0m1 0h0m-15 1h0m-2-8h0m12 12h0m1 9h0m15-8h0m-7 6h0m-5 4h0m22-12h0m-5 3h0m3 2h0m1 7h0m-7 11h0m-2-4h0m-7 3h0m3 2h0m4 5h0m14-1h0m-11 10h0m7 1h0m10-5h0m8 3h0m2-1h0m2 6h0m0 2h0m-5 1h0m33 19h0m3 3h0m27 8h0m-13-1h0m-9-2h0m-5 1h0m-13-4h0"/>
<path id="k7a_6" d="M-70 -233h0m7 6h0m0 0h0m-15-2h0m7 2h0m-1 5h0m-3 2h0m1 6h0m4-10h0m6 0h0m2 1h0m6 9h0m13 11h0m-13 6h0m-20-13h0m4 1h0m1 3h0m7 18h0m20-7h0m-8 9h0m20-2h0m0 7h0m-6 1h0m-5 2h0m6 10h0m1 1h0m1 5h0m-7 1h0m31 10h0m4 2h0m-8-1h0m-4 4h0m7 8h0m10 6h0m6-1h0m13 1h0m2 5h0m16 9h0m-17-8h0m0 0h0m2 6h0m7 3h0"/>
<path id="k7a_7" d="M-73 -230h0m1 0h0m-5 2h0m-3 2h0m5 1h0m12 11h0m21 9h0m-11-3h0m-17 8h0m-8-9h0m13 14h0m6 0h0m-8 3h0m9 4h0m3-1h0m6 0h0m-7 3h0m1 1h0m17-6h0m4 5h0m-8 2h0m13 7h0m-11 5h0m7 0h0m-6 5h0m9 10h0m9-2h0m-3 1h0m5 0h0m2 3h0m15 11h0m-18-10h0m11 15h0m61 24h0m-16-4h0m-5 4h0m5 5h0"/>
<path id="k7c_0" d="M-195 -271h0m1 0h0m18-8h0m22-1h0m11 1h0m1 0h0m-9 5h0m4 0h0m14 3h0m-3 4h0m4 0h0m6 0h0m-3 10h0m-13-9h0m39 15h0m-3 2h0m2 5h0m-4 1h0m5 0h0m19 0h0m-13 7h0m1 0h0m-18-2h0m24 16h0"/>
<path id="k7c_1" d="M-147 -281h0m-22-2h0m-6 1h0m-8 4h0m-9 7h0m41-5h0m5 0h0m-1 1h0m-3 2h0m0 0h0m13 0h0m19 10h0m-1 5h0m-17-6h0m8 9h0m-65-10h0m5 0h0m77 15h0m30 11h0m-12 12h0m-7-6h0m11 16h0m7 4h0"/>
<path id="k7c_2" d="M-181 -283h0m-6 13h0m-3 2h0m15-12h0m24 0h0m10 5h0m-9 1h0m13 5h0m11 0h0m-11 4h0m4 0h0m-2 1h0m8 9h0m-63-4h0m70 11h0m3 5h0m5 0h0m1 2h0m4 2h0m11-9h0m-1 16h0m2 2h0m8 5h0m-16-13h0"/>
<path id="k7c_3" d="M-166 -282h0m-7-4h0m-6 2h0m6 0h0m-3 1h0m7 0h0m-25 16h0m38-9h0m8 0h0m0 1h0m6 0h0m-9 3h0m14-4h0m-3 7h0m18 2h0m-4 3h0m4 0h0m-2 3h0m4 10h0m0 1h0m3 3h0m14-3h0m12 1h0m4 3h0m-8 9h0m-5 5h0m-1 4h0"/>
<path id="k7c_4" d="M-161 -284h0m0 3h0m-27 9h0m1 0h0m18-8h0m-2 4h0m30 1h0m7 3h0m4 1h0m9 4h0m15 10h0m-16-1h0m-74-4h0m6 1h0m72 9h0m-7 1h0m16 2h0m1 1h0m1 1h0m19 0h0m-7 2h0m-1 3h0m15 14h0m-15 0h0m-6-4h0m12 8h0"/>
<path id="k7c_5" d="M-168 -281h0m-15 6h0m-3 4h0m13-9h0m-5 1h0m8 4h0m11-3h0m7 4h0m2 0h0m-3 2h0m8 3h0m14-3h0m24 12h0m-1 6h0m4 0h0m-11-4h0m-24-5h0m26 15h0m3 0h0m10 1h0m-1 8h0m8-4h0m10 4h0m-4 3h0m-1 5h0m-6 5h0m-9-4h0m21 9h0"/>
<path id="k7c_6" d="M-161 -284h0m-24 12h0m4-5h0m17 0h0m19 0h0m18 4h0m20 18h0m-87-10h0m5 3h0m87 11h0m-8 1h0m11 3h0m6 5h0m9-3h0m-3 16h0m-2 2h0m-4 1h0m9 6h0m1 1h0m0 3h0"/>
<path id="k7c_7" d="M-185 -279h0m-2 1h0m0 8h0m7-10h0m22 5h0m0 2h0m3 0h0m14 5h0m1-2h0m8 0h0m6 6h0m8 8h0m1 0h0m-20-10h0m5 3h0m2 5h0m25 8h0m6 8h0m10-6h0m1 1h0m-10 20h0m7 2h0m-17-11h0m4 7h0m15 8h0m3 3h0"/>
<path id="k7b_0" d="M-158 -242h0m-8 3h0m4 5h0m3 10h0m58 13h0m1 12h0m-6 2h0m-30-6h0m2 5h0m-13 12h0m14-2h0m22 22h0m-149 46h0m3 2h0m-17 6h0m284 14h0m1 9h0m10 6h0m3 20h0"/>
<path id="k7b_1" d="M-106 -216h0m14-1h0m7 8h0m-9 3h0m-22 2h0m-4 9h0m56 61h0m55 5h0m-238 4h0m-11 4h0m-7 4h0m2 1h0m-9 2h0m5 2h0m282 13h0m-5 18h0"/>
<path id="k7b_2" d="M-158 -260h0m22 13h0m-29 12h0m6 14h0m29-3h0m3 0h0m32 16h0m-166 89h0m-23 12h0"/>
<path id="k7b_3" d="M-142 -249h0m10 17h0m0 3h0m52 18h0m-9 8h0m-28-3h0m-13 3h0m-2 5h0m2 12h0m47 1h0m-183 65h0m12 0h0m267 19h0m-1 2h0m2-1h0m4 11h0m-8-4h0m12 29h0"/>
<path id="k7b_4" d="M-136 -259h0m-1 2h0m-26 19h0m15 53h0m35 17h0m32 32h0m-162 11h0m-15 7h0m-9 4h0m-36 10h0m22-8h0m303 20h0m-4 5h0m2 23h0m4 2h0"/>
<path id="k7b_5" d="M-126 -257h0m-18-3h0m-14 14h0m-8 4h0m33 9h0m-19 6h0m-6-5h0m53 17h0m-28 10h0m-12 20h0m8-4h0m55 2h0m23 54h0m9 14h0m0 3h0m124 6h0m-56 20h0m-8 8h0m1 9h0"/>
<path id="k7b_6" d="M-172 -252h0m12 6h0m-6 1h0m0 1h0m1 4h0m81 36h0m-34-3h0m-21 0h0m2 2h0m10 6h0m-21 13h0m29-10h0m0 5h0m29 9h0m40 45h0m-214 19h0m-19 10h0m-5 4h0m305 7h0m5 0h0m0 1h0m2 2h0m-9 3h0m-6-7h0m2 3h0m8 30h0m1 0h0m2 2h0"/>
<path id="k7b_7" d="M-165 -241h0m7 0h0m-1 8h0m1 0h0m62 26h0m10 3h0m-20 3h0m-31-2h0m7 1h0m-7 3h0m-16-8h0m4 22h0m99 67h0m-197-5h0m-7 3h0m-48 15h0m275 5h0m39 12h0"/>
<path id="k8_0" d="M-190 -245h0m-2 7h0m-2 2h0m7 1h0m0 14h0m-4 4h0m9-4h0m0 3h0m1 7h0m20 6h0m-10-4h0m1 25h0m-3 8h0"/>
<path id="k8_1" d="M-182 -229h0m-7-6h0m-4 4h0m2 1h0m6 3h0m2 12h0m15 2h0m17 13h0m-10-7h0m2 0h0m-12-3h0m-14 15h0m5 11h0"/>
<path id="k8_2" d="M-196 -241h0m11 19h0m0 1h0m3 7h0m16 11h0m-11 0h0m-5 2h0m6 8h0m3 9h0m-5 2h0m6 2h0m3 1h0m-8 5h0"/>
<path id="k8_3" d="M-193 -241h0m2 0h0m-4 5h0m-1 2h0m9 0h0m-2 8h0m-2 11h0m3 2h0m16-1h0m-2 1h0m7 10h0m-12 3h0m-1 1h0m28 5h0m-20 14h0"/>
<path id="k8_4" d="M-184 -231h0m-9 5h0m6 2h0m1 10h0m12 1h0m24 12h0m-20-9h0m-12 10h0m14 25h0m-3-1h0"/>
<path id="k8_5" d="M-194 -245h0m12 17h0m-7 7h0m1 10h0m19 3h0m-8 2h0m-5 9h0m9 11h0"/>
<path id="k8_6" d="M-196 -247h0m2 3h0m9 9h0m-5 4h0m6 7h0m-5 3h0m33 20h0m0 2h0m-21-5h0m-5 4h0m-2-9h0m1 4h0m-4 2h0m2 5h0m3 2h0m8 11h0m24-9h0m-28 14h0m2 2h0"/>
<path id="k8_7" d="M-186 -244h0m-2 4h0m2 3h0m-6 12h0m19 14h0m11 9h0m-23-3h0m2 8h0m2 5h0m7 6h0m-1 9h0m2 0h0m4 0h0"/>
<path id="k13_0" d="M113 -285h0m7 0h0m-20 12h0m14-5h0m-48 36h0m9 0h0m9 16h0m-3-5h0m7 23h0m2 6h0m0 3h0"/>
<path id="k13_1" d="M118 -287h0m-11-5h0m4 7h0m8 6h0m-24 19h0m-23 19h0m12 12h0"/>
<path id="k13_2" d="M120 -292h0m-4 6h0m-1 3h0m-4-8h0m0 4h0m0 5h0m-10 10h0m0 5h0m-30 22h0m13 19h0m-16-12h0m18 21h0m3 24h0"/>
<path id="k13_3" d="M112 -290h0m4 5h0m2 0h0m-3 1h0m3 2h0m-3 1h0m-4-9h0m-13 27h0m0 1h0m1 0h0m-25 18h0m12 26h0m6 16h0m0 3h0"/>
<path id="k13_4" d="M127 -289h0m-4 2h0m-11 5h0m-2-9h0m-5 11h0m-7 12h0m17-8h0m-22 13h0m4 4h0m-29 16h0m-1 2h0m23 28h0m0 7h0"/>
<path id="k13_5" d="M114 -284h0m5 2h0m-10-11h0m-3 6h0m-1 4h0m-1 1h0m4 12h0m8-9h0m-18 18h0m-25 20h0m3 5h0m5 6h0m0 1h0m11 33h0m-1 1h0m1 3h0"/>
<path id="k13_6" d="M107 -285h0m-4 8h0m-8 17h0m-12 35h0m0 3h0m1-2h0"/>
<path id="k13_7" d="M105 -280h0m4 3h0m-8 6h0m-10 12h0m-4 47h0m4 12h0m-1 1h0"/>
<path id="k14n_0" d="M93 -179h0m3 5h0m5 23h0m-2 10h0m-9-12h0m6 3h0m0 5h0m7 6h0"/>
<path id="k14n_1" d="M96 -155h0m2 13h0m-4-5h0"/>
<path id="k14n_2" d="M93 -186h0m-1 18h0m8 16h0m-2 10h0m6 1h0m-8 9h0m3-5h0m8 4h0"/>
<path id="k14n_3" d="M92 -188h0m3 5h0m4 19h0m2 22h0m-7-7h0m1 18h0"/>
<path id="k14n_4" d="M93 -169h0m0 3h0m4 26h0"/>
<path id="k14n_5" d="M94 -183h0m-2 17h0m1 0h0"/>
<path id="k14n_6" d="M93 -177h0m4 2h0m-2 4h0m-3 7h0m-1 7h0m10 14h0m-8-7h0m3 2h0m-1 13h0"/>
<path id="k14n_7" d="M90 -167h0m5 6h0m0 9h0m10 15h0"/>
<path id="k14a_0" d="M177 -187h0m4 1h0m8-8h0m17 1h0m9 21h0m-6-8h0m-5 2h0m-20 1h0m6 3h0m2 3h0m-10 1h0m1 0h0m3 0h0m-5-8h0m-9 3h0m8 6h0m-17-12h0m-13 14h0m30 9h0m2-10h0m4 5h0m0 5h0m23-7h0m-8 1h0m14-3h0m3 2h0m-6 2h0m1 0h0m9 0h0m-8 2h0m20-6h0m-3 6h0m-3 7h0m2 0h0m4 1h0m-4 4h0m1 4h0m-14-8h0m-1 11h0m-8-9h0m-39 8h0m2 0h0m-1 2h0m-13-6h0m-10-6h0m5 6h0m-15 3h0m-6 2h0m6 13h0m-3 1h0m13-10h0m3 4h0m12 1h0m13-2h0m20-1h0m13 2h0m-3 3h0m5-9h0m0 5h0m18-5h0m0 0h0m-85 19h0m-12-4h0m8 3h0m-6 2h0"/>
<path id="k14a_1" d="M179 -185h0m9-7h0m17 1h0m4 5h0m-2 2h0m11-12h0m3 10h0m10 14h0m-4 2h0m5 1h0m1 0h0m-22-11h0m-1 10h0m-8-3h0m-1 3h0m-16-9h0m-12-1h0m-1 5h0m5 1h0m2 2h0m-10 3h0m3 0h0m-31 13h0m24-11h0m-7 8h0m0 0h0m3 1h0m14-10h0m4 2h0m21 2h0m1 9h0m16-13h0m0 1h0m1 1h0m-8 2h0m10 0h0m-7 1h0m20-4h0m2 0h0m0 0h0m-2 3h0m4 7h0m-25 7h0m6 3h0m-5 3h0m-34 3h0m-19-3h0m-9-7h0m-5 10h0m-13-4h0m12 15h0m17-9h0m-2 5h0m-2 6h0m7 1h0m10-9h0m1 2h0m4 3h0m-8 2h0m19-7h0m3 5h0m1 2h0m23-8h0m10-3h0m-4 6h0m-51 8h0m-26 0h0m-13 0h0m2 3h0"/>
<path id="k14a_2" d="M174 -184h0m12-8h0m1 6h0m2 3h0m9-10h0m7 8h0m13-1h0m5 0h0m2-3h0m2 11h0m2 9h0m-18-9h0m-1 8h0m-7-9h0m-5 2h0m5 5h0m-19-9h0m1 0h0m9 2h0m0 0h0m-2 5h0m-1 1h0m-10-7h0m-12 2h0m4 8h0m-6 0h0m-17 0h0m-2 14h0m14-3h0m1 2h0m8-9h0m-3 1h0m15 6h0m2 3h0m11-1h0m17-8h0m15-3h0m4 5h0m4 2h0m-10 1h0m3 5h0m-14 2h0m3 2h0m5 6h0m-2 2h0m-32-2h0m-11 0h0m-22-2h0m0 2h0m-7 0h0m0 1h0m-11 1h0m-4 5h0m4 3h0m-7 4h0m3 2h0m18-6h0m-3 1h0m-7 1h0m21-7h0m-4 1h0m-2 1h0m10 2h0m-7 3h0m6 0h0m-8 3h0m5 2h0m9 0h0m-4 1h0m0 0h0m39-5h0m14-7h0m-8 2h0m7 0h0m-4 2h0m12-3h0m-80 14h0m-7 4h0"/>
<path id="k14a_3" d="M195 -197h0m-15 13h0m12-5h0m-9 1h0m4 3h0m13-9h0m2 1h0m22 9h0m3 3h0m2 3h0m-6 0h0m-5 2h0m-2 7h0m-16 0h0m-6-12h0m-26 4h0m6 5h0m-8-9h0m-3 2h0m3 3h0m-5 2h0m4 8h0m-1 2h0m16 3h0m-2 6h0m15-12h0m-4 12h0m14-13h0m8 2h0m5 1h0m3 0h0m-4 7h0m17-5h0m2 3h0m-3 1h0m-1 1h0m1 3h0m-2 1h0m1 6h0m0 3h0m-15-1h0m-16-3h0m-20 5h0m-43 4h0m-1 1h0m-2 10h0m0 0h0m9-7h0m8 2h0m7-3h0m6 0h0m41-3h0m16 0h0m1 4h0m2 4h0m7-7h0m-3 5h0m-59 10h0m-36 2h0"/>
<path id="k14a_4" d="M179 -188h0m0 5h0m11-12h0m-4 2h0m-2 1h0m2 6h0m8 2h0m14-9h0m-4 3h0m2 5h0m5-9h0m0 0h0m3 0h0m-1 2h0m8 5h0m6 11h0m-5-5h0m-17 2h0m-1 6h0m-17-2h0m-5 1h0m5 3h0m-7-10h0m-12 3h0m12 0h0m-3 6h0m-15-6h0m-1 6h0m-25 15h0m31-8h0m11 8h0m2 0h0m2-2h0m4 0h0m2 3h0m13-12h0m-2 4h0m19-4h0m-4 8h0m12-8h0m-2 9h0m11 0h0m2 1h0m2-6h0m0 6h0m-1 1h0m-4 4h0m-24 1h0m11 8h0m-12-9h0m-9 4h0m-11-5h0m-4 7h0m3 0h0m-17 6h0m-10-4h0m-12-8h0m-5 5h0m8 6h0m-15-3h0m1 1h0m-5 8h0m1 2h0m11-6h0m-4 2h0m6 6h0m17-6h0m-4 7h0m13-8h0m-5 1h0m12 0h0m-12 8h0m17-1h0m17-3h0m4 2h0m11-6h0m2 0h0m-4 1h0m6 0h0m-2 2h0"/>
<path id="k14a_5" d="M211 -197h0m-31 14h0m2-3h0m4 0h0m15-4h0m1 0h0m4 4h0m-1 2h0m9-9h0m6 7h0m3 0h0m4 12h0m-6-4h0m-7 7h0m1 0h0m-5 2h0m-4-6h0m-4 6h0m-15-7h0m3 2h0m-17-6h0m2 3h0m0 1h0m3 3h0m-3 3h0m3 1h0m1 0h0m2 0h0m-15 1h0m-3 2h0m0 5h0m0 0h0m-3 1h0m3 0h0m16-8h0m-10 1h0m12 8h0m10-1h0m-1 1h0m31-9h0m-7 1h0m1 0h0m-2 8h0m8 1h0m-10 1h0m17-11h0m7 3h0m1 0h0m-2 1h0m-4 2h0m2 3h0m-2 6h0m4 0h0m-3 3h0m-4 1h0m-1 1h0m3 4h0m-14 1h0m-4 1h0m-12-12h0m8 0h0m-1 11h0m-36 1h0m-4-11h0m-1 1h0m-1 9h0m0 2h0m-14-12h0m-8 1h0m-2 3h0m0 6h0m-6-1h0m-2 17h0m34-8h0m8 8h0m19-1h0m3-12h0m9 3h0m12-3h0m-4 4h0m2 0h0m0 0h0m-2 5h0m-59 6h0m0 0h0m-14 4h0m7 0h0m-5 1h0m-9-5h0"/>
<path id="k14a_6" d="M212 -197h0m-34 10h0m6-3h0m16-6h0m7 1h0m-1 6h0m11-7h0m-7 9h0m20 16h0m-33-7h0m3 1h0m2 4h0m-16-8h0m7 4h0m-11 7h0m1 0h0m9 1h0m-14 0h0m-29 5h0m60-2h0m-10 2h0m6 2h0m-1 1h0m6-7h0m5 3h0m7 3h0m1 0h0m0 1h0m13 1h0m-12 2h0m1 0h0m7 1h0m-4 1h0m2 0h0m6 4h0m-5 7h0m-14-2h0m4 1h0m-1 1h0m-21-1h0m2 1h0m-19 2h0m-14 0h0m3 0h0m1 2h0m6 0h0m-24-5h0m6 0h0m-19-5h0m1 7h0m-11 5h0m3 0h0m1 6h0m3 4h0m-6 2h0m26-11h0m7 11h0m16-5h0m13-1h0m14-4h0m0 0h0m-3 5h0m11-8h0m3 1h0m-5 3h0m-3 5h0m-69 6h0"/>
<path id="k14a_7" d="M177 -187h0m10-6h0m21 5h0m1 3h0m-2 1h0m-2 1h0m23 9h0m1 1h0m0 1h0m1 1h0m-12-11h0m-3 11h0m-6-2h0m-24-8h0m-2 5h0m1 7h0m-4-13h0m-11 4h0m-7 0h0m-8 4h0m11 7h0m-2 8h0m0 0h0m-7 1h0m23-5h0m0 5h0m7-5h0m6 1h0m4 0h0m18-5h0m0 4h0m4 4h0m-4 3h0m9 1h0m1-1h0m4 0h0m-1 5h0m1 1h0m3 0h0m-3 4h0m-4 2h0m-11-10h0m9 6h0m-1 3h0m2 1h0m-11 2h0m-15-1h0m-3-7h0m-42 0h0m-21 12h0m5 1h0m0 8h0m-3 2h0m20-7h0m4-3h0m7 0h0m-8 10h0m14-4h0m9 0h0m11 3h0m14-5h0m15-6h0m2 4h0m7 1h0m-58 9h0m-15 0h0m-25 1h0"/>
<path id="k14b_0" d="M88 -176h0m5 5h0m1 0h0m-8 2h0m13 8h0m-9 22h0m1 1h0m14 6h0m-5 1h0m5 2h0m10-5h0m4 6h0m10-9h0m73 9h0m10 4h0m5 4h0m-21-1h0m10 4h0m-24-7h0m12 4h0m-10 2h0m1 5h0m-26-9h0m1 0h0m0 2h0m-1 2h0m8 1h0m-19-1h0m-20-3h0m6 5h0m-19-8h0m9 2h0m-4 3h0m-4 1h0m-5-5h0m-11 5h0m-9 15h0m34-6h0m-11 6h0m16-7h0m-4 7h0m10 1h0m9-5h0m7 2h0m-6 1h0m3 1h0m-4 4h0m12-13h0m5 3h0m20 0h0m7 2h0m4 8h0m7-1h0m-4 1h0m6 3h0m6 8h0m-7 2h0m-9-7h0m-7 2h0m-5-5h0m-13 4h0m-5 6h0m-19-11h0m8 3h0m-6 7h0m-2 1h0m0 0h0m-14-1h0m-29-7h0m5 6h0m-28-8h0m-5 8h0m-13-9h0m6 6h0m27 10h0m2 3h0m7-6h0m7 4h0m-6 2h0m4 2h0m0 2h0m10-10h0m52 2h0m13 5h0m-8 6h0m18-11h0m2 0h0m-7 3h0m3 3h0m16-4h0m-6 1h0m-1 16h0m-13 0h0m-15-5h0m-9-1h0m-23 3h0m-34-4h0m-1 6h0m-8 0h0"/>
<path id="k14b_1" d="M101 -156h0m22 15h0m-16-4h0m-2 1h0m-15-6h0m1 0h0m10 11h0m7 5h0m-10 1h0m1 0h0m5 1h0m11-7h0m86 11h0m22-4h0m-7 5h0m-1 1h0m1 0h0m2 0h0m-8 7h0m6 2h0m-17-7h0m2 4h0m6 0h0m-16 1h0m-1 5h0m-11-8h0m-11 4h0m-5-5h0m0 1h0m3 9h0m-21-4h0m-17 4h0m-6-13h0m-10 5h0m8 2h0m5 0h0m-5 5h0m1 0h0m-16-1h0m-8-9h0m-3 13h0m27-1h0m0 2h0m3 4h0m-5 3h0m17 1h0m5-7h0m-1 10h0m24-10h0m-3 5h0m-2 1h0m12-8h0m9 12h0m3-11h0m2 1h0m24 0h0m-9 1h0m8 5h0m-11 5h0m1 0h0m8 6h0m-7 1h0m6 6h0m-10-11h0m-1 3h0m-26-3h0m12 11h0m-24-2h0m-12-11h0m-2 1h0m5 2h0m-1 4h0m-1 2h0m-15-4h0m-4 7h0m-10-11h0m8 4h0m-2 5h0m-12-8h0m-12 2h0m1 2h0m-1 3h0m12 2h0m-8 2h0m-18-12h0m12 5h0m-11 2h0m9 0h0m-20-2h0m-3 6h0m-13-10h0m25 14h0m-2 2h0m4-3h0m2 6h0m37-5h0m-3 1h0m-1 1h0m0 7h0m6-11h0m6 2h0m-6 2h0m23 0h0m19-1h0m13 2h0m5-5h0m4 2h0m3 1h0m-11 3h0m20-3h0m0 3h0m1 0h0m-4 7h0m11-12h0m-27 14h0m-24 0h0m3 4h0m-8 1h0m-21 2h0m-33-3h0"/>
<path id="k14b_2" d="M94 -175h0m-8 14h0m42 20h0m-15-12h0m-5 8h0m-4 8h0m-5 2h0m9 7h0m11-8h0m4 2h0m-11 4h0m2 3h0m12-11h0m94 11h0m-21 5h0m-1 2h0m7 5h0m-16-1h0m-22 3h0m-18-1h0m-23-12h0m2 2h0m1 3h0m-1 6h0m-8-10h0m-9 6h0m-2 4h0m-4 1h0m-10-8h0m0 12h0m-1 1h0m5-2h0m10 10h0m2 0h0m-8 2h0m22-5h0m1-1h0m7 1h0m18-1h0m-5 1h0m16-8h0m1 3h0m-1 3h0m17 3h0m5-2h0m15-4h0m8 4h0m-1 19h0m-20-8h0m5 8h0m-33-10h0m-3 4h0m6 1h0m0 2h0m5 1h0m-22-10h0m7 7h0m-17-4h0m-6 7h0m4 2h0m-20-11h0m-11 2h0m-3 2h0m5 6h0m-25-8h0m-8 1h0m4 1h0m-6-5h0m11 20h0m15-5h0m-2 1h0m3 4h0m0 2h0m7-4h0m-2 7h0m25-9h0m-7 5h0m-5 1h0m13-4h0m2 1h0m19 1h0m1 0h0m-3 2h0m0 5h0m19-12h0m-10 3h0m11 0h0m15 1h0m14-5h0m-8 5h0m-1 7h0m19-6h0m-8 1h0m3 0h0m4 0h0m4 0h0m2 0h0m-4 6h0m-6 3h0m-13-1h0m-9 0h0m-23 4h0m9 0h0m0 1h0m-37 2h0m10 0h0m-17-8h0m1 5h0m-20-4h0m-6 5h0"/>
<path id="k14b_3" d="M96 -169h0m5 12h0m3 0h0m26 16h0m-30-7h0m1 2h0m-5-5h0m1 2h0m12 14h0m-6 8h0m12-11h0m4 1h0m4 4h0m-10 1h0m7 4h0m5 1h0m4-1h0m63 1h0m5 0h0m26-4h0m-8 1h0m-1 5h0m-1 2h0m-17 3h0m0 7h0m-2-9h0m1 0h0m-22 0h0m-19 1h0m1 1h0m11 2h0m-16 0h0m2 3h0m-25-7h0m0 1h0m3 6h0m8 0h0m-15-9h0m2 3h0m-24 4h0m-4-6h0m-11 21h0m14-10h0m15 5h0m8 2h0m-8 1h0m24 0h0m-10 3h0m-1 1h0m5 0h0m0 1h0m12-10h0m-2 8h0m7 0h0m9-10h0m12 11h0m19-7h0m-2 1h0m17-6h0m-6 3h0m1 0h0m-4 1h0m3 8h0m11 12h0m-14-6h0m8 9h0m-9-9h0m-2 9h0m-20-9h0m-4 5h0m-2-9h0m-6 1h0m6 0h0m-26 1h0m-24-2h0m6 1h0m-10 5h0m3 6h0m-17-3h0m-13-7h0m-15-2h0m2 6h0m6 3h0m17 6h0m0 10h0m8-6h0m-6 6h0m24-10h0m2 2h0m-5 10h0m12-13h0m1 2h0m-5 9h0m19-10h0m5 0h0m-4 5h0m12-6h0m-3 5h0m21-1h0m2 4h0m14-8h0m-11 2h0m3 1h0m-2 5h0m12 5h0m11-12h0m-10 4h0m4 3h0m1 4h0m2 4h0m-29 1h0m-2 1h0m-14-3h0m-3 1h0m-3 1h0m-12 2h0m-7-4h0m-32 6h0"/>
<path id="k14b_4" d="M93 -172h0m-2 7h0m14 8h0m-3 1h0m23 14h0m-19-2h0m-6 4h0m-2 13h0m16-3h0m102 0h0m6 0h0m-11 5h0m-3 1h0m-10 2h0m1 1h0m-16 2h0m-7-3h0m3 0h0m-7 3h0m-11-2h0m6 7h0m-21-5h0m3 6h0m-22-7h0m-4-3h0m-2 3h0m0 6h0m-5 1h0m-13-6h0m4 1h0m-7 4h0m-5 3h0m0 2h0m-2 5h0m7-7h0m-2 1h0m11 11h0m6-4h0m3 4h0m21-5h0m-4 1h0m-6 4h0m10 0h0m1-12h0m9 7h0m18-8h0m-7 6h0m6 1h0m9-6h0m12 0h0m13-1h0m6 7h0m5-4h0m-11 12h0m4 1h0m0 1h0m-6 9h0m-15-9h0m0 4h0m4 5h0m2 1h0m-11-12h0m-1 3h0m-7 1h0m-10-2h0m1 7h0m-19-9h0m-15 12h0m-10-3h0m-21-8h0m-10 9h0m0 0h0m-26-10h0m21 19h0m10-2h0m-3 5h0m21-6h0m-7 8h0m11-9h0m25-2h0m-10 8h0m1 4h0m4 0h0m-3 1h0m15-12h0m5 4h0m2 4h0m29-9h0m-2 2h0m14-1h0m-1 2h0m2 5h0m5-4h0m12-1h0m-31 12h0m-14 0h0m-5 2h0m-34-2h0m-9 7h0m6 0h0"/>
<path id="k14b_5" d="M93 -176h0m4 3h0m-12 8h0m2 1h0m18 9h0m21 11h0m3 2h0m-23-12h0m-2 8h0m6 0h0m-10 1h0m8 1h0m0 11h0m4-7h0m12 12h0m3-8h0m88 6h0m12 0h0m-34 7h0m-5 3h0m0 4h0m-12-8h0m-3 11h0m-8-5h0m-18-2h0m-7 4h0m-13-8h0m7 10h0m-14-3h0m-12-4h0m-1 4h0m-9 4h0m-1-4h0m-31 18h0m29-5h0m1 1h0m6-3h0m8 1h0m7-1h0m2 3h0m25-8h0m2 3h0m1 2h0m-1 1h0m1 3h0m1 0h0m-2 3h0m15-2h0m5 1h0m14 1h0m12-12h0m-1 4h0m1 0h0m3 2h0m-1 6h0m12-5h0m-2 1h0m-3 3h0m5 2h0m-9 3h0m2 6h0m4 2h0m-1 1h0m-37-9h0m-9 2h0m11 1h0m-5 4h0m-5 2h0m-10-9h0m3 2h0m-8 1h0m8 0h0m-23-6h0m9 4h0m-4 4h0m-5 3h0m0 0h0m-33 1h0m-22-7h0m-2 3h0m-7-2h0m12 12h0m-4 2h0m15-5h0m1 2h0m9 5h0m-2 2h0m9-9h0m-1 5h0m-4 2h0m9 4h0m6-12h0m10 1h0m-2 5h0m3 0h0m0 1h0m3-2h0m19 1h0m5 0h0m3 2h0m7 5h0m9-11h0m10 3h0m1 0h0m11-2h0m1 0h0m-10 2h0m10 1h0m-7 2h0m-2 1h0m24-1h0m-12 5h0m14-12h0m-13 16h0m3 2h0m-14-4h0m-31 2h0m4 0h0m-4 2h0m-39 0h0m5 4h0m-24-9h0m-5 8h0"/>
<path id="k14b_6" d="M88 -181h0m2 0h0m-1 7h0m2 9h0m9 9h0m-1 1h0m1 8h0m9 2h0m-5 1h0m-10-6h0m-1 1h0m-2 9h0m20 2h0m-13 4h0m5 6h0m17-12h0m-5 6h0m3 5h0m1 0h0m5 0h0m99-2h0m-9 2h0m-2 3h0m1 0h0m2 3h0m-10 5h0m-21 2h0m-11-8h0m-3 4h0m-4 2h0m-20-2h0m5 2h0m-1 1h0m-20-9h0m-12 2h0m6 7h0m-8 2h0m-16-11h0m3 0h0m-5 6h0m1 1h0m-1 6h0m-1 4h0m-2 6h0m14-9h0m-11 1h0m7 0h0m15-1h0m2 1h0m-7 1h0m-3 3h0m3 4h0m6 3h0m-7 1h0m24-11h0m-4 8h0m13-8h0m16 5h0m-9 4h0m14 1h0m21-9h0m8-2h0m14 9h0m-15 6h0m3 4h0m3 1h0m-8 6h0m-13-11h0m-11 11h0m-12-10h0m2 7h0m-8-10h0m0 5h0m-10 3h0m9 1h0m-25-9h0m-11 8h0m-27-3h0m1 0h0m-5 1h0m0 2h0m10 1h0m-13-7h0m-22-2h0m10 5h0m-3 3h0m-1 2h0m4 15h0m25-11h0m-8 1h0m-1 2h0m7 0h0m19 5h0m-2 5h0m5-7h0m12 3h0m1 2h0m23-10h0m0 2h0m-4 3h0m19-1h0m4-5h0m7 6h0m-8 7h0m26-7h0m-1 3h0m-1 2h0m15-8h0m-11 5h0m0 12h0m-54-4h0m9 0h0m-10 2h0m-10-4h0m-3 3h0m-4-1h0m-2 2h0m-15 3h0m-7 1h0"/>
<path id="k14b_7" d="M93 -183h0m-10 10h0m2 7h0m13 5h0m0 14h0m10 0h0m-2 2h0m-17 3h0m4 0h0m12 5h0m-7 4h0m6 3h0m-2 2h0m-2 1h0m2 0h0m22-3h0m4-1h0m74 3h0m10-1h0m2 0h0m-17 7h0m5 4h0m-11-8h0m2 4h0m-12 7h0m-15-5h0m-3 7h0m-14-8h0m-3 3h0m0 1h0m5 0h0m-14 0h0m-20-6h0m0 7h0m2 0h0m-17-8h0m4 6h0m-11-3h0m-1 6h0m-20 15h0m23-12h0m-13 11h0m1 1h0m6 0h0m16-12h0m4 11h0m27-6h0m-2 5h0m30 2h0m11-10h0m-5 2h0m-4 2h0m7 4h0m-4 1h0m12-4h0m7 1h0m6-8h0m5 0h0m12 0h0m-10 14h0m-11 2h0m2 9h0m-23-1h0m-12-5h0m-1 2h0m-5-4h0m-17 10h0m-17-5h0m-3 2h0m-14 2h0m-1 1h0m-17-11h0m-11 5h0m7 4h0m-15-8h0m2 1h0m-3 4h0m22 10h0m3 7h0m18-7h0m-4 2h0m5 0h0m-10 4h0m1 1h0m10 2h0m3-13h0m11 2h0m2 5h0m14-6h0m8 4h0m-5 8h0m19-1h0m19-8h0m-2 1h0m3 2h0m-7 5h0m8-10h0m9 10h0m9-2h0m-40 4h0m-2 1h0m-28 2h0m0 0h0m6 3h0m-10 2h0m-9-8h0m-5 4h0m4 4h0m-12-3h0"/>
<path id="k14c_0" d="M179 -48h0m13-4h0m9 2h0m30 14h0m-18 3h0m9 0h0m-20-4h0m0 5h0m-9 6h0m12 8h0m17 2h0m6-3h0m4 1h0m-5 3h0m-3 10h0m-1-7h0m-12 7h0m-4-7h0m11 13h0m2 4h0m11 2h0m-2 3h0m9 10h0m10 2h0m-8 14h0"/>
<path id="k14c_1" d="M199 -62h0m-7-3h0m2 18h0m16-2h0m3 2h0m-3 4h0m1 4h0m5 0h0m0 0h0m-3 1h0m10 4h0m-11 1h0m-2 4h0m-51-11h0m-1 2h0m63 23h0m17 14h0m-10-5h0m-5 9h0m0 10h0m7-6h0m0 4h0m12-7h0m0 18h0m-21 2h0m1 3h0m18 3h0m1 4h0m7 9h0m3 3h0m-7 2h0m9 8h0m-1 1h0"/>
<path id="k14c_2" d="M219 -79h0m-9 22h0m-8-5h0m-8 2h0m0 4h0m-1 1h0m-2 1h0m10 5h0m23 18h0m-2-8h0m-32 0h0m2 0h0m-4 13h0m16-2h0m1 0h0m-4 8h0m2 1h0m8-8h0m1 4h0m17-4h0m15 18h0m-6 4h0m-14-6h0m8 4h0m-11-6h0m2 1h0m-2 6h0m2 2h0m1 8h0m19 7h0m-22 20h0m19 3h0m3 0h0m4 16h0m1 3h0"/>
<path id="k14c_3" d="M194 -64h0m-3 5h0m3 4h0m-2 4h0m52 36h0m-2 1h0m-15 0h0m5 0h0m2 8h0m-28-6h0m16 21h0m-2 1h0m14 1h0m4 0h0m-2 13h0m0 1h0m1 6h0m5 1h0m-3 1h0m3 2h0m4 0h0m5 6h0"/>
<path id="k14c_4" d="M184 -53h0m31 5h0m-2 2h0m16-8h0m-18 18h0m8 4h0m3 0h0m-18-7h0m-2 5h0m1 2h0m-21-9h0m5 0h0m17 19h0m19 3h0m3-3h0m11 0h0m-23 16h0m11 9h0m5 6h0m8 0h0m4 4h0m-4 9h0m0 9h0m1 4h0m2 1h0m11 16h0m-6-4h0"/>
<path id="k14c_5" d="M196 -60h0m-2-2h0m1 2h0m-16 13h0m6-8h0m0 1h0m9 6h0m18 2h0m12 14h0m-6-6h0m-6 2h0m5 4h0m-4 1h0m7 0h0m-20-9h0m1 9h0m-1 1h0m-12-9h0m16 15h0m31-4h0m1 7h0m3 7h0m-8 3h0m-20 8h0m7 2h0m16 10h0m-8 21h0"/>
<path id="k14c_6" d="M192 -64h0m-7 10h0m29 8h0m12 8h0m-22 22h0m35-10h0m5 11h0m-6 1h0m-10 10h0m4 0h0m-17 1h0m5 0h0m2 4h0m1 0h0m18 5h0m6 4h0m-5 16h0m-4 8h0m10 10h0"/>
<path id="k14c_7" d="M198 -63h0m-1 4h0m11 1h0m-18-5h0m1 5h0m0 8h0m18 5h0m3 10h0m-13 4h0m0 3h0m0 10h0m29-9h0m5 0h0m1 3h0m-9 4h0m6 4h0m15 4h0m-14 7h0m-10-8h0m-6 10h0m1 1h0m23 14h0m-3 13h0m4 3h0m0 6h0m4 1h0m-6 2h0m10 16h0m4 4h0"/>
<path id="k4_0" d="M374 -323h0m12-5h0m8 5h0m-9 1h0m-2 1h0m-9 5h0m-3 3h0m-10 7h0m-2 2h0"/>
<path id="k4_1" d="M386 -331h0m3 9h0m-11 3h0m8 0h0m0 1h0m-16 7h0"/>
<path id="k4_2" d="M384 -323h0m11-6h0m-11 12h0m-7-2h0m-5 5h0"/>
<path id="k4_3" d="M383 -330h0m7 1h0m-6 1h0m0 4h0m-1 10h0m-3 1h0m-12-4h0m0 9h0m-3 5h0"/>
<path id="k4_4" d="M385 -327h0m1 2h0m-2 10h0m-11-5h0m1 0h0m-2 3h0m-10 12h0"/>
<path id="k4_5" d="M388 -330h0m-9 4h0m0 0h0m14-4h0m-25 12h0m-2 12h0"/>
<path id="k4_6" d="M389 -332h0m4 5h0m-23 7h0m-9 18h0"/>
<path id="k4_7" d="M389 -330h0m-1 1h0m-9 1h0m6 2h0m3 1h0m-27 20h0m0 0h0m6 0h0"/>
<path id="k2_0" d="M359 -86h0m-36-5h0m2 3h0m-1 1h0m-15-7h0m-61 12h0m50-1h0m9 1h0m0 3h0m-13 7h0m25-5h0m5-7h0m6 2h0m3 1h0m-3 3h0m-7 2h0m7 1h0m7 1h0m17-2h0m7 0h0m-6 4h0m9-3h0m39 9h0m-18 1h0m3 2h0m-7 1h0m4 3h0m-11-8h0m3 3h0m-39-3h0m6 6h0m-14 0h0m-19-7h0m7 10h0m-18-7h0m-1 1h0m1 2h0m-2 2h0m2 2h0m-14-11h0m1 2h0m-5 2h0m-3 6h0m-23-1h0m-7 17h0m10-13h0m16 0h0m4 0h0m7 13h0m12-11h0m2 6h0m2 5h0m11 0h0m10-6h0m12 3h0m-2 3h0m14-12h0m2 3h0m-6 1h0m4 0h0m-2 2h0m28 4h0m-5 1h0m17-11h0m4 4h0m0 1h0m-10 4h0m19 9h0m-9-1h0m-3 3h0m-5 1h0m-15-6h0m11 3h0m-23-1h0m-10 0h0m-3 8h0m-19 1h0m7 0h0m-13-7h0m-13-5h0m-8 6h0m12 5h0m-1 1h0m-23-8h0m4 1h0m-21-1h0m-5 5h0m5 7h0m1 2h0m14 1h0m8 2h0m12 2h0m8-7h0m-1 2h0m0 8h0m19-12h0m-5 2h0m9 7h0m3 2h0m4-9h0m4 0h0m-2 2h0m13-5h0m12 2h0m21-2h0m-4 7h0m-1 8h0m-1 7h0m-16-7h0m-1 0h0m-3 12h0m-18-1h0m4 0h0m-19-12h0m-8 12h0m-32-12h0m-10 1h0m-5 6h0m1 2h0m5 0h0m-19 0h0m17 6h0m0 4h0m-4 5h0m19-9h0m1 4h0m-10 2h0m11 1h0m8 0h0m-6 4h0m13-12h0m13 13h0m1-12h0m5 11h0m12-11h0m3 7h0m4 1h0m13-7h0m4 0h0m-8 4h0m1 0h0m8-6h0m6 0h0m14 2h0m-4 2h0m1 1h0m-2 18h0m-12-5h0m9 2h0m-7 5h0m-32-6h0m12 8h0m-20-13h0m-18 5h0m-3 2h0m9 2h0m-13-8h0m-21 2h0m2 8h0m-8-1h0m-4 2h0m5 1h0m-15-11h0m2 3h0m3 22h0m22 0h0m3 0h0m7-3h0m-6 3h0m10 0h0m12-4h0m1 3h0m12-6h0m0 2h0m0 2h0m11-10h0m7 4h0m-1 1h0m2 0h0m10 1h0m0 1h0m4 0h0m21-4h0m-15 20h0m-7-6h0m0 0h0m-10 10h0m-15-9h0m2 2h0m-3-2h0m-12 5h0m-4-9h0m-23 9h0m-9-6h0m4 3h0m-4 4h0m-9 8h0m4-1h0m-2 2h0m21-4h0m3 0h0m-1 1h0m10-1h0m25 4h0m6 3h0m7 8h0m-15-2h0m-10 7h0m4 4h0m-3 2h0m-31-9h0m6 0h0m-3 1h0m7 4h0m-4 3h0m2 1h0m19 3h0m5 9h0m24 13h0m-20-10h0m-18 5h0m32 12h0m4 1h0"/>
<path id="k2_1" d="M355 -86h0m-18 1h0m-12-6h0m-2 2h0m1 3h0m-12-4h0m2 0h0m-6 5h0m-46 12h0m-1 2h0m26-2h0m-4 2h0m20-8h0m-1 4h0m2 1h0m13 1h0m38-3h0m21 4h0m12-8h0m10 22h0m-18-3h0m-38 2h0m-12-9h0m-7 10h0m-3-8h0m-1 1h0m-50 1h0m10 0h0m-5 4h0m0 0h0m1 1h0m-19 15h0m22-7h0m13-5h0m-10 5h0m18-2h0m-3 1h0m4 1h0m5 0h0m3 2h0m8 1h0m13-4h0m4 2h0m-5 2h0m2 0h0m-5 1h0m3 1h0m18-4h0m-6 3h0m5 1h0m2 2h0m15-12h0m-9 4h0m9 9h0m7-4h0m19-4h0m-4 1h0m11 21h0m-30-8h0m-9-5h0m5 1h0m-19 2h0m3 2h0m-4 3h0m-3 2h0m2 0h0m-11-10h0m-15 9h0m-35 0h0m-29 6h0m-2 5h0m5-3h0m-1 2h0m12 8h0m15-12h0m-1 4h0m9 2h0m0 1h0m1 2h0m19-8h0m-12 8h0m-1 2h0m2 1h0m12-13h0m25 10h0m7-9h0m-1 5h0m18 4h0m-1 3h0m10-5h0m-2 2h0m15 12h0m-26-5h0m-14 4h0m-12-7h0m5 0h0m-4 13h0m-20-6h0m1 0h0m-3 5h0m-5 1h0m-14-10h0m-1 2h0m7 4h0m-19-9h0m-17 1h0m2 0h0m5 5h0m11 18h0m-4 2h0m11-11h0m10 2h0m3 0h0m11 2h0m10 1h0m7-6h0m8 5h0m-4 8h0m12-10h0m19 0h0m5 9h0m-4 1h0m10-12h0m2 0h0m-1 26h0m-20-8h0m-10 4h0m7 3h0m-16-8h0m4 0h0m-16 6h0m-12-3h0m-22-7h0m2 11h0m2 2h0m-21-12h0m-2 5h0m3 2h0m-2 18h0m22-10h0m2 1h0m3-2h0m18-1h0m4 9h0m-8 1h0m10 0h0m26-10h0m16 4h0m-7 3h0m20 1h0m-7 4h0m1 9h0m-2 3h0m-8-8h0m-4 2h0m-14-2h0m-3 5h0m-11 2h0m-17-7h0m0 2h0m4 8h0m-16-5h0m0 0h0m-2 6h0m-8-6h0m-13 0h0m8 8h0m11 2h0m-1 3h0m2 5h0m35-11h0m-6 3h0m22 8h0m17-11h0m5 0h0m-14 26h0m9 0h0m-23-11h0m8 3h0m-2 8h0m3 0h0m-39-1h0m2 0h0m-8-8h0m4 6h0m-2 3h0m2 5h0m24 7h0m2 1h0m13-6h0m1 1h0m12 12h0m-4 1h0m-16 1h0m5 5h0m-16-8h0m-11 3h0"/>
<path id="k2_2" d="M327 -96h0m-1 1h0m-4 3h0m-88-1h0m31 13h0m39-3h0m-7 12h0m14-11h0m9 4h0m-2 2h0m-2 2h0m1 1h0m12-7h0m34 0h0m-6 8h0m-5 1h0m40 9h0m4 5h0m-5-9h0m-9 5h0m-12-9h0m6 4h0m-7 1h0m-17-1h0m11 6h0m-11 1h0m-20-10h0m-6 1h0m5 0h0m-5 8h0m-9-5h0m-23 3h0m11 2h0m-13-9h0m-2 1h0m-13 6h0m-28 17h0m13-10h0m-2 3h0m13 9h0m11-12h0m-2 5h0m17-2h0m0 2h0m16 3h0m12 2h0m-4 1h0m19-6h0m4 6h0m30-1h0m-11 1h0m5 1h0m21-11h0m-17 23h0m-16-10h0m-11 0h0m-22 6h0m-16 0h0m-23-4h0m-1 1h0m3 0h0m-1 3h0m-19 2h0m-3 6h0m-8 2h0m3 0h0m4 7h0m-1 2h0m-1 1h0m10-12h0m-3 3h0m2 6h0m14-10h0m-3 6h0m11 0h0m-9 6h0m23-8h0m-12 2h0m0 4h0m6 0h0m6 3h0m1-11h0m0 2h0m11 0h0m10-2h0m-1 11h0m9-11h0m3 3h0m8 1h0m6-6h0m0 1h0m6 10h0m-9 1h0m22-12h0m-7 3h0m0 3h0m16 5h0m17 5h0m-41-1h0m4 9h0m-3 1h0m0 1h0m-10-11h0m-37 0h0m8 0h0m-10 2h0m8 4h0m-23-1h0m10 0h0m0 5h0m-25-9h0m1 0h0m2 1h0m0 4h0m-14-1h0m1 2h0m2 0h0m-11-2h0m4 0h0m10 12h0m14-2h0m9-1h0m9 2h0m-1 1h0m-6 1h0m-6 2h0m1 3h0m18-8h0m-4 1h0m6 1h0m0 1h0m4 8h0m9-5h0m4 4h0m16-3h0m2-6h0m10 1h0m17 0h0m0 2h0m8-5h0m1 4h0m-3 1h0m-7 14h0m-24-1h0m-15-4h0m-1 3h0m-7-4h0m-11 3h0m0 5h0m1 1h0m-31-6h0m2 6h0m-22-6h0m-11 9h0m20 6h0m-6 2h0m-4 2h0m1 5h0m23-9h0m2 0h0m-3 7h0m-9 2h0m13-10h0m0 7h0m15-10h0m6 5h0m1 6h0m-1 1h0m6 0h0m1-8h0m0 1h0m21-5h0m16 4h0m-3 17h0m3 2h0m3 3h0m-35-12h0m-5 2h0m4 1h0m-1 1h0m10 2h0m-5 7h0m-17-2h0m-10-9h0m-4 4h0m3 0h0m-16 4h0m-8 9h0m10-2h0m-6 6h0m17-6h0m20 5h0m-4 4h0m7-9h0m15-3h0m9 0h0m-8 1h0m-2 6h0m10 3h0m12 12h0m-6 1h0m-15-6h0m-9-2h0m7 0h0m-6 9h0m-30-10h0m1 0h0m-2 17h0m12-1h0m11 3h0m11-4h0m11 5h0m1 5h0m13-7h0m-12 19h0m2 3h0m-9 1h0m6 0h0m-36-9h0m25 12h0m11 1h0"/>
<path id="k2_3" d="M323 -92h0m0 3h0m8 1h0m-8 3h0m-15-1h0m-31-11h0m-33 2h0m-8 4h0m41 11h0m-2 3h0m21 4h0m9 1h0m-2 1h0m10-5h0m2 0h0m7-1h0m15 0h0m20-4h0m0 2h0m-6 4h0m2 0h0m12 1h0m11 3h0m30 13h0m-4-6h0m-10 7h0m-14-9h0m-8 0h0m5 7h0m-22-7h0m-5-3h0m-10 11h0m-13-11h0m7 0h0m2 8h0m-20-9h0m5 4h0m-1 8h0m-17-3h0m-9-5h0m-1 4h0m-16-1h0m3 0h0m-9 3h0m4 0h0m-13 0h0m3 4h0m-4 1h0m-4 2h0m-2 5h0m1 2h0m24-5h0m10-1h0m11 0h0m3 6h0m18-9h0m-12 4h0m3 2h0m11 4h0m5 0h0m22-11h0m-13 9h0m9 3h0m10-3h0m6 4h0m15-9h0m-2 6h0m-1 1h0m17-8h0m4-3h0m-12 22h0m-17-1h0m12 1h0m-19-8h0m1 1h0m-1 2h0m2 1h0m-23-2h0m-15 11h0m-10-3h0m9 3h0m-22-7h0m8 2h0m-13 3h0m-1-8h0m-3 7h0m-26-5h0m-1 3h0m-6 13h0m3 4h0m5 1h0m14-8h0m-13 1h0m10 5h0m16-6h0m7-4h0m6 0h0m-9 5h0m10 0h0m-10 4h0m29-2h0m3 5h0m11-12h0m8 1h0m-1 1h0m10 3h0m20-4h0m9 15h0m-35 4h0m1 0h0m-3 1h0m-1 1h0m-3 5h0m-33-13h0m1 0h0m-2 4h0m5 5h0m-30-6h0m-18-3h0m5 4h0m-17-4h0m5 20h0m19 0h0m4-6h0m17 7h0m-4 4h0m6 0h0m18 1h0m-11 1h0m20-5h0m29-8h0m6 0h0m1 0h0m6 7h0m16 6h0m-10 3h0m-17 4h0m-2 2h0m2 1h0m-9 4h0m2 0h0m-15-9h0m-1 2h0m3 0h0m-4 4h0m-12-10h0m6 2h0m-7 6h0m8 3h0m-23-5h0m-2-4h0m-6 10h0m-13-12h0m-6 11h0m3 0h0m-20-2h0m1 15h0m-5 1h0m4 1h0m8-8h0m10-4h0m23 2h0m-11 5h0m8 6h0m12-10h0m-4 4h0m7 0h0m-7 2h0m10 2h0m6 2h0m19-6h0m14-7h0m-9 5h0m1 2h0m32-6h0m-17 15h0m-1 1h0m4 3h0m0 1h0m-12-4h0m3 7h0m-36-8h0m4 1h0m1 10h0m-20-5h0m4 2h0m-12-5h0m6 0h0m-3 3h0m-22-8h0m-6 13h0m4 7h0m10 2h0m29 0h0m-1 5h0m8-7h0m22-6h0m0 3h0m21 0h0m-17 14h0m3 6h0m-16-7h0m-3 8h0m-4-6h0m-17 5h0m-7 2h0m10 7h0m2 2h0m-7 2h0m34-3h0m0 0h0m-1 2h0m10-6h0m-2 9h0m5 3h0m-8 7h0m-3 4h0m-2 1h0m-6 2h0m-27-8h0m29 12h0m1 11h0"/>
<path id="k2_4" d="M332 -91h0m1 2h0m-3 1h0m-1 3h0m-9-3h0m-9 3h0m-12-2h0m1 2h0m-26 7h0m-4 4h0m9 2h0m3-6h0m4 7h0m21-10h0m14 3h0m-7 4h0m25-1h0m0 2h0m8 1h0m16-10h0m12 9h0m7-5h0m3 6h0m8 6h0m0 2h0m-3 5h0m-2 2h0m-17-13h0m-2 5h0m-2 5h0m-14-1h0m-4-9h0m-13 4h0m12 1h0m-24 7h0m-12-9h0m-10 6h0m-1 1h0m-14-9h0m-7 4h0m-21 8h0m-20-11h0m22 17h0m1 1h0m-8 6h0m23-8h0m11 9h0m27-13h0m7 3h0m11 0h0m-4 2h0m4 5h0m14-5h0m-6 7h0m14-4h0m17-4h0m0 1h0m3 1h0m-2 5h0m-1 1h0m24-7h0m0 13h0m-7 3h0m-4 1h0m5 2h0m-24-7h0m-15-2h0m5 11h0m-30-8h0m4 0h0m-5 9h0m-11-5h0m-16-7h0m3 0h0m-5 4h0m4 2h0m-3 3h0m-5-8h0m-5 6h0m4 4h0m-6 1h0m-20-10h0m-6 16h0m15 3h0m-1 1h0m9-8h0m5 8h0m-7 4h0m18-9h0m-1 9h0m22-12h0m-10 1h0m10 3h0m-1 3h0m24-2h0m5 1h0m14-7h0m-3 8h0m3 3h0m-5 2h0m8-11h0m13 5h0m-9 2h0m13-8h0m-1 3h0m20 13h0m-4 1h0m-11 3h0m-9-6h0m-7 4h0m2 4h0m-20-7h0m7 10h0m-10-4h0m-6 4h0m6 0h0m-5 1h0m-11-11h0m-38 7h0m0 3h0m-10-11h0m-15 8h0m8 10h0m7-2h0m-3 2h0m6 2h0m2 3h0m0 0h0m14-7h0m-7 8h0m27-10h0m23-1h0m0 6h0m6 4h0m1 2h0m10 0h0m-9 1h0m10-13h0m3 1h0m2 1h0m6 0h0m1 0h0m0 1h0m-9 4h0m21 15h0m-7 2h0m-13 2h0m-9-4h0m-11-8h0m-11 5h0m-12-5h0m9 13h0m-22-11h0m2 11h0m-7-5h0m-16 1h0m-19-9h0m-4 9h0m-6 16h0m13-6h0m-7 7h0m2 0h0m20-10h0m-9 9h0m35-6h0m3 1h0m4-1h0m4 2h0m2 2h0m7 1h0m18-10h0m13 18h0m-9 2h0m-20 3h0m9 4h0m-21-2h0m4 1h0m-22-11h0m-13 10h0m-4-6h0m-11 10h0m11 9h0m1 1h0m9-11h0m1 11h0m12-8h0m13 10h0m7 0h0m7-8h0m19 18h0m1 4h0m-22-13h0m-8 3h0m-4 6h0m-12 3h0m-18-3h0m19 9h0m-8 7h0m19 1h0m19 0h0m4-8h0m-8 10h0m2 0h0m-12 18h0m13 0h0m4 0h0m-13 1h0m9 4h0m2 0h0"/>
<path id="k2_5" d="M244 -137h0m112 49h0m-1 2h0m-31 0h0m-13 0h0m5 1h0m-51 11h0m25-6h0m11 6h0m-6 2h0m21-4h0m-7 1h0m16-6h0m5 3h0m9-6h0m-2 2h0m0 9h0m12 0h0m12-7h0m-7 7h0m35 10h0m-3 4h0m-1 1h0m-46-9h0m1 1h0m0 8h0m-10-4h0m3 1h0m-15-9h0m-2 2h0m-3 3h0m4 4h0m-1 4h0m-10-13h0m0 0h0m-9 2h0m1 6h0m-10-8h0m-2 9h0m3 0h0m-22-7h0m0 1h0m-11 10h0m6 5h0m6 0h0m5 8h0m7-8h0m2 2h0m-1 2h0m0 4h0m26-10h0m-7 3h0m14 2h0m0 1h0m-1 1h0m21-9h0m-10 2h0m0 2h0m4 0h0m13-2h0m0 2h0m6 3h0m-10 2h0m8 0h0m28-3h0m0 5h0m5-6h0m13 1h0m0 2h0m-9 5h0m13-8h0m-9 10h0m0 5h0m-7 3h0m-24-7h0m3 0h0m3 11h0m1 0h0m-18-1h0m-11-12h0m-21 0h0m0 1h0m-5 1h0m-34 11h0m-8-1h0m2 2h0m6 1h0m1 8h0m1 0h0m-9 3h0m21-12h0m-6 3h0m11 10h0m14-9h0m-7 9h0m14-11h0m1 1h0m8 1h0m11 7h0m-6 1h0m11-9h0m2 0h0m4 3h0m-5 1h0m-2 1h0m21-6h0m29 0h0m-9 7h0m3 0h0m1 2h0m-3 10h0m-14-7h0m2 10h0m-17-8h0m6 1h0m-3 1h0m6 5h0m-13-4h0m-34-5h0m2 4h0m1 0h0m-7 1h0m-10 8h0m-12-12h0m1 8h0m-17-3h0m-1 4h0m10 2h0m-19 7h0m19 1h0m21 1h0m-2 4h0m12-7h0m9 7h0m-1 2h0m7-5h0m1 3h0m23-2h0m8-6h0m-6 3h0m0 5h0m25-8h0m-7 1h0m7 3h0m0 6h0m2 4h0m0 6h0m-4-7h0m-7 4h0m-5-2h0m-1 3h0m-3 1h0m-20-5h0m0 1h0m-3 0h0m-2 5h0m2 1h0m-2 1h0m-22-9h0m-8-1h0m-22 6h0m8 2h0m-19-3h0m14 15h0m-4 6h0m23-13h0m-3 9h0m9-8h0m9 3h0m10 5h0m-5 3h0m12 0h0m-11 1h0m33-13h0m-2 22h0m-15-7h0m-6-1h0m-5 2h0m-6 4h0m3 3h0m7 2h0m-38-5h0m0 1h0m1 3h0m-2 1h0m-1-6h0m-19 1h0m18 10h0m-4 5h0m-6 3h0m-1 1h0m35 0h0m1 2h0m12 0h0m13-8h0m2 2h0m-3 6h0m16-8h0m1 14h0m1 1h0m0 4h0m-20-10h0m-18 1h0m-11 9h0m6 1h0m-13-6h0m-4 1h0m2 3h0m0 8h0m6 8h0m20-10h0m8 8h0m10-8h0m-7 7h0m6 2h0m8-3h0m5 0h0m0 6h0m-15 5h0m4 0h0m0 1h0m-3 2h0m-10 4h0m-23-6h0m8 0h0m19 13h0m9 1h0"/>
<path id="k2_6" d="M328 -95h0m-3 7h0m3 0h0m-16 3h0m-31 12h0m18-1h0m5 0h0m1 3h0m7-10h0m2 3h0m1 0h0m-3 7h0m16-11h0m1 1h0m2 0h0m-4 1h0m1 0h0m6 5h0m8-7h0m-5 8h0m2 1h0m1 1h0m15-10h0m28 9h0m20 9h0m-30-6h0m3 0h0m0 11h0m-23-1h0m-12-2h0m-10-2h0m3 3h0m1 3h0m-37-11h0m7 0h0m-10 3h0m4 1h0m-19-5h0m10 1h0m-12 1h0m-6 8h0m-4 2h0m-7 2h0m-1 3h0m1 1h0m17-4h0m15 2h0m-13 5h0m27-4h0m0 6h0m40-4h0m-6 5h0m22 2h0m1 0h0m26-9h0m-2 2h0m-9 4h0m16 0h0m-1 1h0m0 1h0m4 0h0m-6 11h0m-2-1h0m1 2h0m0 3h0m-27-4h0m-1-8h0m-1 13h0m-32-10h0m-5 4h0m-42-4h0m6 5h0m3 3h0m-29-2h0m-2 1h0m-3 2h0m5 0h0m0 8h0m2 0h0m-12 7h0m14-10h0m3 8h0m21-7h0m30 1h0m-6 2h0m7 1h0m7 5h0m7-11h0m3 1h0m9 2h0m-6 1h0m-6 3h0m17-8h0m15-1h0m1 1h0m13 9h0m1 17h0m-11-4h0m-3 4h0m-15-10h0m-1 1h0m-1 1h0m-2 1h0m6 7h0m-7-13h0m-19 1h0m3 9h0m-14-5h0m1 0h0m-10 2h0m-2 2h0m3 4h0m-14-11h0m-25 2h0m-4 5h0m2 4h0m-11-4h0m17 6h0m-6 1h0m8 6h0m-12 3h0m0 2h0m18-12h0m0 4h0m7 1h0m-9 1h0m18-3h0m-3 1h0m19-1h0m31 1h0m11 5h0m12-9h0m3 0h0m-5 1h0m-2 5h0m5 5h0m18-1h0m-22 14h0m-5-9h0m-26 4h0m-13-4h0m6 2h0m2 3h0m0 1h0m-9 2h0m-11-5h0m9 2h0m0 0h0m-3 5h0m-10-5h0m-5 6h0m-15-4h0m-6 4h0m10 6h0m12-5h0m-7 2h0m12-1h0m8 6h0m-6 2h0m5 1h0m4 0h0m9 0h0m21-10h0m0 5h0m0 6h0m20-10h0m-4 1h0m3 17h0m-17 1h0m2 3h0m7 1h0m-19-10h0m6 11h0m-19-11h0m3 6h0m-14-2h0m-9 3h0m11 0h0m-24-1h0m10 3h0m-18 5h0m4 2h0m-8 5h0m-1 2h0m29-6h0m7 7h0m18-6h0m12 0h0m-6 5h0m8-9h0m10 5h0m-30 11h0m-4 2h0m2 0h0m4 8h0m-15-2h0m2 0h0m-5 2h0m-2 1h0m-15-3h0m5 5h0m-1 1h0m-2 3h0m32-3h0m3 8h0m-8 3h0m12-13h0m-2 8h0m19-4h0m-1 4h0m-3 9h0m-4-3h0m0 6h0m-17-3h0m1 0h0m-1 12h0m18 3h0m-12 10h0"/>
<path id="k2_7" d="M242 -139h0m113 52h0m-16 1h0m-14-6h0m7 3h0m-8 3h0m-6-4h0m-10 3h0m-45 9h0m23 2h0m17-7h0m2 2h0m5-2h0m1 10h0m5 1h0m18-4h0m-9 5h0m15-11h0m8 3h0m1 6h0m10-2h0m-9 1h0m18-7h0m9 2h0m-10 6h0m23-7h0m-18 10h0m5 1h0m0 6h0m-39 3h0m-5-9h0m-3 7h0m-13-3h0m2 5h0m-22-7h0m2 8h0m0 1h0m-14-11h0m7 0h0m1 3h0m-13 7h0m-24 6h0m22-2h0m-10 6h0m0 3h0m18-7h0m4 4h0m11 3h0m1 3h0m11-12h0m-4 4h0m4 2h0m16-5h0m0 4h0m16-3h0m3 5h0m-2 2h0m-4 3h0m30-13h0m15 2h0m6 1h0m4 7h0m-9 4h0m-2 8h0m-6 2h0m-6 1h0m0 0h0m-18-8h0m3 10h0m-11-10h0m1 1h0m-10 6h0m-12-6h0m-1 2h0m-2 6h0m-16-10h0m4 6h0m-15-4h0m10 3h0m-8 2h0m-17-8h0m3 3h0m3 4h0m0 1h0m2 1h0m-13-2h0m1 2h0m-15 2h0m-13 14h0m15-12h0m-8 3h0m3 1h0m-4 5h0m15 0h0m11-9h0m1 0h0m6 9h0m17-4h0m-2 7h0m9-10h0m8 1h0m-1 2h0m-2 4h0m0 0h0m4-8h0m3 3h0m1 9h0m10-11h0m4 5h0m-4 2h0m13 4h0m1-4h0m20-9h0m-6 9h0m3 3h0m13-10h0m3 15h0m6 0h0m-31 6h0m2 0h0m-2 2h0m1 1h0m-20-12h0m7 9h0m-18-8h0m4 0h0m0 1h0m-14-2h0m1 6h0m-22-4h0m-11 2h0m-4 9h0m-9-12h0m3 13h0m-3 4h0m3 0h0m16-1h0m-1 1h0m-2 9h0m5-7h0m7 5h0m1 1h0m13-12h0m6 2h0m-3 3h0m26-3h0m11-1h0m-1 10h0m11 2h0m19-10h0m-5 13h0m3 8h0m3 3h0m-26-1h0m-10-8h0m-10 1h0m-1 1h0m-2 1h0m3 0h0m-6-6h0m-13 1h0m-12 3h0m5 0h0m3 6h0m3 0h0m-13-4h0m-20-6h0m4 7h0m-1 2h0m3 1h0m-27-8h0m3 21h0m37-5h0m16-3h0m-7 3h0m1 5h0m8-8h0m-1 2h0m6 5h0m19-7h0m6-1h0m12-1h0m-1 14h0m-26 11h0m-6-6h0m-10 8h0m-2-12h0m-9 10h0m-11-4h0m2 1h0m3 2h0m-18-7h0m5 3h0m-20 0h0m4 6h0m13 6h0m-6 3h0m44-1h0m-5 1h0m0 1h0m24-7h0m-9 3h0m17 12h0m4 9h0m-6 2h0m-29-10h0m12 2h0m-20 7h0m-21-8h0m8 2h0m5 19h0m1-9h0m11 2h0m2 0h0m5 1h0m8 2h0m-7 2h0m1 2h0m18-6h0m16-3h0m-4 12h0m-3 5h0m-7-1h0m-13-3h0m-10 6h0m8 2h0m11 6h0"/>
<path id="k1_0" d="M193 -173h0m226 122h0m-8 3h0m33-8h0m3 2h0m-8 5h0m-3 2h0m-1 4h0m8 0h0m7-12h0m2 8h0m12 3h0m-3 3h0m-13 9h0m-24-7h0m-22 6h0m0 1h0m-12 14h0m25-1h0m2 1h0m3-7h0m2 1h0m0 1h0m3 2h0m9-4h0m6 1h0m2 0h0m1 4h0m-6 4h0m21-3h0m6-9h0m15 2h0m2 11h0m0 1h0m-2 5h0m1 2h0m-21 6h0m-19-10h0m1 4h0m-3 1h0m3 0h0m-2 2h0m0 1h0m-16 0h0m3 2h0m-13-10h0m-4 3h0m10 5h0m-24-10h0m3 5h0m5 0h0m-17-4h0m4 2h0m0 0h0m-1 12h0m2 11h0m8-13h0m-2 6h0m22 0h0m5 0h0m20 4h0m-4 1h0m13-1h0m11-10h0m2 12h0m-1 1h0m35 2h0m-7 5h0m-27-2h0m-3 2h0m-8-5h0m0 11h0m1 1h0m-21-12h0m8 3h0m2 2h0m-2 1h0m3 2h0m-22-8h0m6 2h0m-10 10h0m-1-5h0m-3 3h0m-22-9h0m1 1h0m2 4h0m0 1h0m-1 5h0m-12 5h0m3 3h0m-6 5h0m2 0h0m16-12h0m-7 10h0m12 0h0m15-7h0m1-2h0m6 11h0m10-8h0m18-2h0m42 10h0m8-3h0m2 4h0m3 9h0m-17-2h0m-2 1h0m2 1h0m2 3h0m3 0h0m-21-8h0m-9 0h0m7 1h0m-10 6h0m-15-9h0m6 5h0m-18-5h0m4 9h0m-20-10h0m-12 3h0m8 0h0m-3 1h0m2 3h0m-7 4h0m3 0h0m-19-9h0m11 1h0m-11 5h0m6 3h0m-10-10h0m-8 2h0m-1 1h0m9 7h0m-18-5h0m1 11h0m-6 1h0m3 3h0m0 1h0m2 0h0m10-4h0m11-4h0m1 0h0m5 1h0m14 0h0m29-1h0m26 2h0m5 2h0m3 0h0m-5 5h0m-5 2h0m24 1h0m10-3h0m-9 3h0m9 1h0m12-2h0m-2 3h0m-27 1h0m-18 0h0m-10-1h0m-3 2h0m8 7h0m2 0h0m-16-2h0m-16-6h0m-2 10h0m-48-8h0m11 8h0m-14-10h0m-3 5h0m10 12h0m6 5h0m16-7h0m-4 7h0m4 4h0m12-12h0m-9 8h0m5 4h0m20-13h0m-9 7h0m11 3h0m19-5h0m7 7h0m9-5h0m-4 1h0m16-6h0m14 11h0m4 0h0m8-7h0m3 0h0m-6 2h0m1 3h0m-8 5h0m-7 1h0m11 2h0m0 1h0m-22-4h0m0 9h0m-14-11h0m1 2h0m1 1h0m3 9h0m-19-9h0m-4 4h0m10 1h0m3 3h0m-24-3h0m0 3h0m2 0h0m-7-1h0m-20-9h0m-5 3h0m9 0h0m0 4h0m-10 3h0m-4 2h0m-15-12h0m1 0h0m-6 10h0m-3 2h0m-3-2h0m-18 2h0m-2 1h0m7 4h0m-3 4h0m0 0h0m16-7h0m-5 2h0m13 1h0m6 9h0m15-6h0m-4 4h0m6-5h0m3 4h0m-4 3h0m16-6h0m13-6h0m9 0h0m0 0h0m-1 4h0m3 6h0m22 1h0m13-10h0m18 1h0m-8 10h0m21 0h0m-8 4h0m1 8h0m6 0h0m-12-3h0m-17-8h0m5 3h0m-10 10h0m-8-7h0m-13 0h0m-4 3h0m3 4h0m-32-9h0m-1 1h0m-2 6h0m-5-1h0m-1 3h0m-16-5h0m7 0h0m-18 2h0m-10-8h0m-7 3h0m-9-3h0m-4 1h0m1 11h0m15 2h0m13 2h0m5 9h0m2-6h0m6 2h0m14-9h0m-6 5h0m0 5h0m2 0h0m-3 1h0m24 2h0m12-11h0m-6 1h0m29-3h0m0 4h0m9 0h0m0 3h0m0 5h0m9-12h0m-5 10h0m0 2h0m8 8h0m-5 7h0m-17-12h0m2 9h0m6 2h0m-21-10h0m0 1h0m-7 0h0m1 1h0m1 3h0m-2 1h0m-1 4h0m-22-6h0m-28-2h0m10 3h0m-10 2h0m9 4h0m-22-10h0m12 11h0m11 4h0m13 3h0m1 1h0m-9 3h0m4 1h0m11-7h0m8 3h0m-8 4h0m18 0h0m11 0h0m18-2h0m10 3h0m0 1h0m-11 10h0m-4 1h0m-5-11h0m-2 2h0m1 2h0m-11 1h0m0 1h0m1 1h0m0 3h0m3 3h0m-5-9h0m-1 2h0m0 3h0m-6 3h0m1 0h0m4 0h0m-25-10h0m0 2h0m-11-4h0m-5 5h0m-3 1h0m1 1h0m-7 3h0m3 0h0m32 8h0m-10 2h0m19 8h0m-18 0h0m11 0h0m-7 1h0"/>
<path id="k1_1" d="M434 -64h0m-24 14h0m-2 3h0m1 1h0m4 2h0m8-11h0m1 2h0m-1 1h0m16 5h0m1 1h0m3 2h0m0 1h0m9-2h0m9 8h0m-10 5h0m-21 0h0m-14-4h0m-14-4h0m-1 3h0m-7 18h0m1 0h0m1 0h0m27-4h0m2 7h0m12-4h0m6 2h0m15-9h0m-1 7h0m7-5h0m3 1h0m13-2h0m3 14h0m6 8h0m-24-1h0m-7 4h0m-12-8h0m-2 4h0m-4 2h0m-14-9h0m2 1h0m-6 4h0m9 1h0m-21-8h0m8 6h0m2 0h0m-22 7h0m-6 2h0m6-1h0m23 5h0m6-2h0m-3 8h0m13-4h0m21 3h0m0 3h0m12-10h0m-5 9h0m3 1h0m16-7h0m-6 4h0m11 2h0m11 6h0m-1 9h0m-14 0h0m-13-12h0m1 9h0m2 2h0m-25-12h0m10 1h0m-9 1h0m10 2h0m-2 9h0m-11-13h0m-4 2h0m1 1h0m4 3h0m0 2h0m-11 5h0m-16-1h0m-12-8h0m11 5h0m-24-6h0m4 1h0m1 1h0m-3 3h0m-5 5h0m-1-7h0m-2 3h0m-3 1h0m3 3h0m25 2h0m18 0h0m-8 9h0m-1 2h0m18 0h0m2 1h0m26-7h0m7 2h0m3 1h0m24-3h0m-11 6h0m-2 6h0m10 6h0m-13-5h0m-7 7h0m-5-9h0m-11 2h0m-2 6h0m2 2h0m-29-13h0m8 3h0m-5 7h0m-14-10h0m7 1h0m-2 2h0m1 0h0m-6 2h0m-10-3h0m-8 2h0m1 1h0m6 0h0m3 2h0m1 6h0m-13-12h0m-6 7h0m-28 13h0m0 1h0m5 0h0m27 0h0m8-3h0m12-3h0m-2 1h0m16-2h0m0 5h0m2 2h0m3 1h0m28 2h0m20-8h0m-1 6h0m-9 1h0m11-3h0m10 1h0m-2 2h0m4 1h0m-12 1h0m4 0h0m20-2h0m-6 1h0m-4 4h0m11 0h0m-14 2h0m-14 2h0m-13-3h0m-17 5h0m-4 2h0m-20-1h0m-17-7h0m-6 5h0m2 1h0m-10 1h0m-15-5h0m-3 3h0m2 1h0m-21-7h0m5 13h0m-7-13h0m3 16h0m1 4h0m7 0h0m0 7h0m6-7h0m9 0h0m-7 7h0m39-7h0m0 1h0m10 2h0m28-3h0m-9 4h0m19-10h0m3 11h0m5-10h0m3 1h0m7 1h0m-3 5h0m14-6h0m-2 1h0m1 7h0m8-8h0m5 2h0m2 7h0m6-10h0m0 15h0m-12 0h0m3 6h0m-7-7h0m-5 6h0m-7 1h0m11 3h0m-7 2h0m-12-7h0m5 1h0m-6 5h0m-13-7h0m-2 1h0m-2 7h0m-16-6h0m-14-6h0m6 4h0m-10-2h0m-22 7h0m-9-10h0m-21 7h0m13 3h0m-16-1h0m-5 1h0m1 1h0m-11 0h0m0 10h0m-4 5h0m15-7h0m9-2h0m23-1h0m-11 5h0m10 2h0m0 3h0m-2 1h0m8-11h0m14-1h0m8 10h0m2 1h0m12-5h0m0 4h0m2 2h0m2-1h0m32-10h0m8 1h0m1 2h0m-13 8h0m3 0h0m12-11h0m9 0h0m1 0h0m0 1h0m-7 7h0m4 2h0m16-12h0m-10 5h0m5 19h0m3 0h0m-9-5h0m-3 1h0m-8 1h0m6 5h0m-9-4h0m-10 4h0m-9-5h0m-4 3h0m-15-1h0m-7 0h0m-11-9h0m-11 2h0m-2 4h0m7 1h0m6 3h0m-27-10h0m8 0h0m-2 3h0m-9 7h0m-15-5h0m-2 8h0m-12-13h0m-2 1h0m2 0h0m-1 5h0m-1 2h0m2 3h0m-15-6h0m0 4h0m-1 5h0m3 0h0m19 3h0m5 0h0m12-2h0m2 0h0m4 6h0m10-3h0m2 2h0m12 5h0m5 0h0m4-9h0m11 2h0m-10 4h0m7 1h0m13-1h0m18-6h0m-8 2h0m8 1h0m7-2h0m3 1h0m-5 2h0m7 1h0m-3 1h0m3 2h0m8 5h0m-5 7h0m3 1h0m2 3h0m2 1h0m-20-12h0m11 0h0m-1 4h0m-10 7h0m-10-7h0m1 0h0m7 0h0m-23-4h0m2 0h0m-3 1h0m-16 5h0m3 3h0m3 0h0m-21-3h0m1 0h0m10 1h0m-8 5h0m-6-3h0m-17-10h0m0 3h0m1 13h0m8-2h0m-2 2h0m6 3h0m2 4h0m18-6h0m0 0h0m-6 2h0m-6 2h0m20-5h0m6 7h0m2-3h0m-1 5h0m21-10h0m-6 4h0m27 0h0m-11 16h0m-10-1h0m-8-5h0m-24 6h0m4 4h0m2 2h0m-18-8h0m-11-3h0m3 0h0m-3 4h0m-5 1h0m-7-2h0m-2 7h0m-1 2h0m3 0h0m11 3h0m6 1h0m3 4h0m-1 4h0m20-1h0m6 1h0m8-9h0m-17 12h0m-4 2h0m6 1h0m-32-3h0"/>
<path id="k1_2" d="M380 -310h0m60 253h0m3 0h0m-11-4h0m-23 7h0m0 3h0m34 2h0m-1 6h0m-1 7h0m-1 2h0m6 1h0m-12 1h0m-6-8h0m-3 3h0m-28 17h0m-2 5h0m20-13h0m1 1h0m-7 4h0m9 2h0m-3 2h0m5-9h0m12 3h0m-8 4h0m1 0h0m-2 5h0m21-6h0m6-4h0m2 0h0m7 7h0m2 1h0m13-5h0m-10 6h0m16-3h0m7 6h0m-3 12h0m-22-9h0m0 3h0m2 4h0m-6-4h0m-17-1h0m-9-5h0m-3 5h0m-4 1h0m-15 0h0m-13 6h0m-9 8h0m10-4h0m8 9h0m17-5h0m21 6h0m5-7h0m2 3h0m8 0h0m-5 2h0m2 2h0m10-8h0m0 1h0m-2 1h0m16-2h0m17 2h0m-3 3h0m7 6h0m-7 1h0m1 9h0m-20 2h0m-27-7h0m8 2h0m-2 2h0m-12-5h0m5 3h0m-20 5h0m-14-12h0m3 0h0m1 4h0m-5 3h0m-5 3h0m-10 0h0m2 0h0m-17 14h0m13-1h0m10 3h0m7 0h0m21-12h0m-7 2h0m21-3h0m3 10h0m16-6h0m0 9h0m17-13h0m0 1h0m-7 12h0m24-8h0m-1 4h0m-8 3h0m15-2h0m1 3h0m-11 6h0m-6 1h0m8 5h0m-5 2h0m-9-9h0m-7 8h0m-13-12h0m4 3h0m-5 4h0m5 3h0m-3 1h0m-11 0h0m2 2h0m-35-10h0m4 1h0m2 3h0m-15-5h0m1 9h0m2 0h0m-22-9h0m-1 6h0m5 1h0m0 2h0m4 0h0m-12-8h0m-22 19h0m16-4h0m7 1h0m1 3h0m1-6h0m12 3h0m-3 1h0m-3 5h0m-1 1h0m17-5h0m-5 5h0m-1 1h0m16-7h0m19 1h0m-5 4h0m23-6h0m13-2h0m-10 7h0m24-2h0m-1 4h0m10-12h0m-6 1h0m5 4h0m2 5h0m10-4h0m8 8h0m-5 7h0m-20-6h0m5 5h0m5 3h0m-25-5h0m1 4h0m-13-8h0m10 5h0m-14-5h0m-3 3h0m-9 9h0m-5-9h0m-1 10h0m-9-4h0m-1 3h0m-23-11h0m2 0h0m-1 6h0m8 5h0m-14-3h0m-6 2h0m-34-10h0m9 1h0m-4 2h0m2 1h0m-3 4h0m2 0h0m-9 4h0m0 12h0m9-4h0m-6 1h0m16-7h0m5 4h0m20-3h0m-11 7h0m22-8h0m-10 11h0m40-5h0m-7 5h0m19-5h0m-5 4h0m9-10h0m3 3h0m0 1h0m-3 7h0m14-3h0m14-5h0m9 6h0m-5 2h0m10-7h0m6 0h0m4 6h0m6-8h0m-1 3h0m-4 14h0m-3 5h0m0 0h0m-21-11h0m7 0h0m-16 1h0m2 4h0m-7 1h0m8 1h0m-18-6h0m8 10h0m-12 2h0m-14-11h0m11 1h0m-4 3h0m2 2h0m-21-5h0m-1 8h0m-10-10h0m0 0h0m2 0h0m-6 12h0m-12-11h0m4 2h0m0 3h0m0 1h0m0 0h0m-2 2h0m-9-2h0m-24-2h0m1 0h0m2 5h0m3 1h0m-26 8h0m-2 3h0m2 0h0m1 1h0m-1 1h0m0 0h0m13-9h0m-1 1h0m1 10h0m14-12h0m-5 2h0m3 9h0m18-9h0m17-3h0m-7 7h0m1 3h0m6 1h0m-6 2h0m20-1h0m13-12h0m-6 1h0m5 4h0m-1 3h0m3 0h0m-4 2h0m1 3h0m6 0h0m25-8h0m-11 3h0m7 0h0m13-8h0m3 6h0m15-5h0m-9 9h0m11-6h0m-12 11h0m2 10h0m9 0h0m-4 1h0m-12-3h0m-7 1h0m7 1h0m-22-11h0m9 11h0m-35-7h0m3 4h0m-1 2h0m4 2h0m-22-6h0m10 7h0m-16-9h0m-3 1h0m-8 8h0m-14-3h0m-7-2h0m-9-7h0m-1 2h0m-5 4h0m-5 1h0m7 7h0m-1 1h0m1 1h0m-2 3h0m3 1h0m-6 4h0m19-8h0m0 10h0m10-12h0m0 4h0m17 0h0m-4 6h0m19 2h0m13-12h0m-5 2h0m-1 8h0m16-11h0m-3 1h0m10 5h0m8-6h0m27 11h0m5 2h0m10-2h0m-19 5h0m-15 1h0m-6 3h0m-13-4h0m-6 1h0m1 2h0m-8 4h0m1 3h0m-20-2h0m-12-10h0m4 9h0m1 0h0m-14-9h0m1 2h0m-20 11h0m3 5h0m11-3h0m8 11h0m13-4h0m-8 2h0m9 1h0m10-7h0m15-4h0m-8 1h0m-1 2h0m5 7h0m0 1h0m12-4h0m0 6h0m21-6h0m-1 5h0m4-11h0m-8 15h0m-2 6h0m3 1h0m-8-7h0m-11 8h0m-6-9h0m-7 5h0m1 4h0m6 1h0m-20-7h0m1 1h0m0 2h0m8 2h0m-23-4h0m-10-4h0m1 2h0m3 0h0m-1 3h0m0 1h0m0 1h0m-12-7h0m13 17h0m-4 1h0m3 6h0m12-11h0m4 13h0m11-7h0m24-6h0m7 3h0m-26 15h0m-28-1h0"/>
<path id="k1_3" d="M105 -181h0m334 116h0m2 7h0m-10-2h0m-27 10h0m11-6h0m-4 4h0m-2 4h0m-3 2h0m29-2h0m25 2h0m2 14h0m3 0h0m-17-10h0m8 7h0m-15-5h0m-6 8h0m1 0h0m-4-10h0m-11 7h0m-3-4h0m-7 7h0m-6 11h0m-5 6h0m27-8h0m2 1h0m-2 5h0m12-9h0m4 6h0m16-2h0m0 4h0m-2 1h0m1 1h0m10-8h0m-5 9h0m20 10h0m-20-7h0m9 2h0m-1 1h0m3 0h0m1 4h0m-12 4h0m-5-13h0m-3 3h0m-16 1h0m2 4h0m-16-4h0m3 3h0m-13-7h0m4 4h0m-24-4h0m10 12h0m-17-10h0m-1 11h0m3 0h0m-2 5h0m12-1h0m-2 2h0m20 0h0m-12 6h0m21-7h0m-1 1h0m16 8h0m6-9h0m7 1h0m-1 1h0m11-4h0m-1 4h0m0 6h0m0 1h0m17-6h0m13-7h0m1 14h0m4 6h0m-7 1h0m7 0h0m-17-3h0m-13-3h0m-6 7h0m1 0h0m-15-4h0m0 4h0m-4-4h0m-4 1h0m-4 5h0m8 3h0m-21-13h0m5 5h0m-3 7h0m4 0h0m-23-10h0m7 10h0m-14-11h0m-6 6h0m-7 0h0m3 10h0m-1 2h0m4 4h0m13-8h0m3 1h0m6 0h0m11-1h0m7 0h0m-7 8h0m3 2h0m18-11h0m-2 2h0m-3 10h0m1 0h0m9-10h0m5 4h0m-1 3h0m8-1h0m15-4h0m-3 8h0m5 1h0m18-7h0m-8 4h0m15 4h0m-9 13h0m-27-5h0m-22-4h0m6 1h0m1 7h0m2 0h0m-3 1h0m-18-3h0m-10-4h0m5 4h0m-18-2h0m5 2h0m-8 1h0m5 1h0m-14-1h0m1 2h0m-14-9h0m-9 8h0m6 1h0m-16 4h0m-4 9h0m0 1h0m15-9h0m13-1h0m10 0h0m11 4h0m20-4h0m1 5h0m4 3h0m22 1h0m2-11h0m9 7h0m1 0h0m-5 3h0m7 1h0m13-10h0m9 3h0m-5 1h0m7 2h0m4 1h0m-5 2h0m1 1h0m11 8h0m-30 2h0m-17 1h0m-8-1h0m-10 1h0m-13-4h0m-21-1h0m8 4h0m-17-7h0m2 2h0m-2 5h0m-10 4h0m-10-6h0m8 5h0m-1 1h0m-18-8h0m-10 7h0m15 4h0m-8 4h0m0 6h0m13-11h0m5 4h0m33 0h0m-3 9h0m14-13h0m-8 1h0m20 5h0m-2 6h0m17-9h0m-8 7h0m18-8h0m-2 7h0m0 1h0m16-8h0m10 0h0m12 1h0m-1 2h0m-10 1h0m14-5h0m0 3h0m13-1h0m-6 24h0m-10-8h0m-13 4h0m-3-4h0m-23 4h0m-26-4h0m-7-5h0m-6 10h0m-5 1h0m-13-7h0m7 2h0m1 1h0m-23-7h0m6 6h0m-1 1h0m0 0h0m-5 4h0m-11-7h0m-2 4h0m2 3h0m-14-4h0m-3 6h0m1 0h0m-2 4h0m-4 9h0m2 1h0m13-12h0m-5 3h0m-3 5h0m12-7h0m9 1h0m4 5h0m8-1h0m8 4h0m7 2h0m8-6h0m0 4h0m8 0h0m5-1h0m26-3h0m10-2h0m3 1h0m-10 1h0m2 4h0m15-11h0m10 15h0m7 9h0m-20-8h0m9 5h0m1 1h0m-20-7h0m3 4h0m-12-5h0m-8 10h0m7 0h0m-13-6h0m-8 3h0m6 0h0m-8 2h0m-8-1h0m-10-8h0m1 3h0m-5 3h0m-19 5h0m3 0h0m-9-9h0m-10 2h0m-7 4h0m-5 5h0m-5-1h0m19 4h0m16-1h0m2 1h0m5 1h0m-1 9h0m11-12h0m11 1h0m8 0h0m-5 12h0m15-12h0m-2 2h0m3 1h0m3 5h0m12 2h0m15-9h0m-7 1h0m0 3h0m9 2h0m12-4h0m-8 1h0m7 7h0m5 9h0m-7-1h0m-8 2h0m5 3h0m-14-2h0m-11-7h0m-15 0h0m2 2h0m1 0h0m-6 7h0m7 0h0m-17-9h0m-19 5h0m3 0h0m-22-1h0m-3 5h0m-11-10h0m29 18h0m1-3h0m4 10h0m10-9h0m4 2h0m10-4h0m23 0h0m-7 11h0m19-9h0m-7 1h0m22 2h0m4 3h0m2-9h0m-17 24h0m-22-9h0m-10 1h0m4 0h0m0 11h0m-17-13h0m-2 3h0m-1 8h0m1 0h0m-11-11h0m-6 2h0m10 3h0m-26-5h0m8 2h0m3 3h0m-3 6h0m9 9h0m5 2h0m-7 2h0m13-6h0m22 8h0m-9 3h0m8 0h0m-27 0h0"/>
<path id="k1_4" d="M381 -307h0m33 249h0m20 6h0m0 7h0m6 1h0m17-8h0m9 8h0m-4 15h0m-5-9h0m-14-2h0m-7 3h0m8 1h0m2 3h0m-25-6h0m7 2h0m-14 1h0m-1 3h0m-14 0h0m-9 18h0m15-6h0m-9 3h0m17-3h0m7-6h0m23 6h0m16-4h0m0 0h0m-2 2h0m11-3h0m-3 8h0m5 12h0m-6 4h0m-6-12h0m-8 4h0m-11-3h0m-5 5h0m7 2h0m-1 1h0m-15-5h0m6 7h0m-24-10h0m1 4h0m1 1h0m-17-3h0m12 2h0m-9 1h0m-4-2h0m-1 9h0m14 1h0m-5 3h0m1 7h0m9-10h0m22 5h0m15-2h0m-3 7h0m1 3h0m15-3h0m7-7h0m2 1h0m-2 2h0m16-4h0m0 0h0m1 3h0m2 8h0m1 2h0m-21-1h0m4 1h0m-1 1h0m2 5h0m-10-5h0m-12 4h0m2 1h0m-1 4h0m-4-11h0m1 1h0m-9 8h0m-12-6h0m5 1h0m3 4h0m0 2h0m-8 3h0m-13-5h0m-14 3h0m4 1h0m-13 4h0m-1 4h0m0 3h0m-1 1h0m19-9h0m1 0h0m1 1h0m5 3h0m17-3h0m-2 7h0m-1 2h0m20-6h0m6-3h0m13 1h0m4 1h0m2 6h0m-1 2h0m36 13h0m-22-11h0m3 0h0m-19 5h0m-6 7h0m3 1h0m-18-7h0m12 0h0m-4 1h0m4 6h0m1 0h0m-18-6h0m-4 3h0m-8-8h0m-5 2h0m2 1h0m-20-2h0m4 2h0m-4 1h0m5 1h0m-6 1h0m6 5h0m-10-13h0m1 0h0m0 5h0m-11 1h0m5 2h0m5 5h0m-24-7h0m1 5h0m-13 2h0m-4 14h0m2-5h0m7 0h0m-7 5h0m38-13h0m0 0h0m-7 3h0m7 7h0m-5 1h0m13-8h0m2 10h0m7-10h0m2 0h0m22 7h0m12 1h0m22-10h0m11 3h0m12 3h0m-2 2h0m5-2h0m3 2h0m6 4h0m5 4h0m2 9h0m-4-10h0m-9 4h0m10 2h0m-12 1h0m-6-5h0m-4 2h0m-17 1h0m-2 1h0m3 0h0m-11-6h0m-14-2h0m1 6h0m2 3h0m0 1h0m-11-8h0m-15 0h0m-3 2h0m-1 1h0m0 8h0m-19-6h0m11 1h0m-14-2h0m-12 5h0m9 2h0m-22-7h0m6 0h0m-24-5h0m14 15h0m-7 4h0m7 0h0m8 1h0m5 2h0m-7 2h0m18-7h0m-4 5h0m-2 4h0m24-11h0m-7 4h0m12-3h0m-2 4h0m1 1h0m10 5h0m11-13h0m-1 11h0m-6 1h0m6 0h0m7-3h0m6 4h0m18-13h0m-10 12h0m40-9h0m4 4h0m-3 1h0m15-6h0m-7 16h0m-1 5h0m2 3h0m0 1h0m-16-5h0m-16-2h0m1 0h0m7 4h0m-27-1h0m1 2h0m-10-11h0m6 2h0m-19 5h0m-1 2h0m-13-6h0m-5 7h0m12 3h0m-24-8h0m9 1h0m-1 2h0m-1 2h0m-15-9h0m1 0h0m-10 10h0m-1-6h0m-13 2h0m-6 0h0m-9 2h0m7 9h0m-5 4h0m15-8h0m2 1h0m3 2h0m1 5h0m5 1h0m8 0h0m-6 2h0m26-10h0m13-1h0m18 6h0m22-6h0m0 0h0m-1 7h0m27 1h0m3 0h0m-2 2h0m18-10h0m-9 4h0m10-1h0m-25 12h0m0 0h0m0 6h0m2 1h0m3 2h0m-15-10h0m-3 4h0m2 8h0m-8-11h0m-4 1h0m0 3h0m-13-2h0m3 10h0m-19-1h0m-31-2h0m4 2h0m-22-10h0m0 4h0m13 0h0m-12 4h0m12 2h0m-18-12h0m0 9h0m-18-1h0m3 1h0m-8 3h0m2 1h0m-4-6h0m-4 1h0m4 0h0m-1 5h0m-3 5h0m6-4h0m5 4h0m3 6h0m8-3h0m25-7h0m-12 2h0m12 2h0m-11 2h0m0 1h0m20-7h0m-3 1h0m7 6h0m0 0h0m-6 3h0m17-5h0m5 0h0m24-2h0m-9 3h0m9 7h0m31-9h0m-5 2h0m-7 2h0m0 0h0m15-2h0m6 2h0m-8 12h0m0 5h0m-1 2h0m-23-11h0m-3 10h0m-12-8h0m8 5h0m-8 1h0m-11-8h0m7 0h0m-13 5h0m3 3h0m0 1h0m0 2h0m-16-7h0m1 0h0m10 0h0m-6 1h0m-16-3h0m8 6h0m-5 1h0m-12-9h0m-1 1h0m-6 1h0m4 7h0m-12-1h0m1 0h0m3 8h0m7 1h0m-4 3h0m0 5h0m19-2h0m21-10h0m0 2h0m-1 4h0m9 4h0m13-10h0m-2 3h0m1 0h0m0 9h0m29-8h0m-6 5h0m15 0h0m-24 13h0m-5 1h0m5 0h0m-7-5h0m1 2h0m-13 3h0m5 2h0m-12-9h0m-3 6h0m0 0h0m-2 3h0m-12-6h0m-4 4h0m3 1h0m-16-11h0m6 9h0m-13-6h0m1 7h0m-9 1h0m7 2h0m5 4h0m-1 7h0m1 0h0m-1 3h0m11-7h0m22 7h0m17-13h0m10 0h0m1 4h0m-26 11h0m-20-1h0m-10 4h0"/>
<path id="k1_5" d="M103 -180h0m340 114h0m2 6h0m-20-1h0m5 0h0m-15 17h0m18-4h0m11-7h0m-1 2h0m-8 2h0m13 11h0m0 7h0m-10-9h0m-2 6h0m-12 1h0m-9 2h0m-25 13h0m12-8h0m-4 3h0m3 0h0m-9 2h0m4 2h0m-3 2h0m0 0h0m4 2h0m22-11h0m-10 7h0m24-5h0m-7 5h0m2 1h0m3 3h0m-4 2h0m13-10h0m17 0h0m-2 2h0m10-4h0m3 9h0m-5 1h0m14-10h0m4 26h0m-13-10h0m7 0h0m-7 1h0m-4 3h0m2 1h0m-2 3h0m-9-6h0m-1 4h0m-15-9h0m8 5h0m-11 2h0m4 1h0m-27-3h0m-16-4h0m-2 6h0m0 4h0m-6 6h0m-1 4h0m3 3h0m11-10h0m-3 3h0m2 8h0m22-8h0m22-3h0m-10 9h0m5 2h0m4 0h0m0 2h0m21-8h0m3 0h0m-5 6h0m7 1h0m-4 1h0m18 11h0m-15-3h0m-15-5h0m-17 2h0m8 0h0m2 0h0m-3 1h0m-10 2h0m5 6h0m7 0h0m-19-8h0m1 3h0m-3 5h0m-16-8h0m-10 1h0m1 3h0m-2 1h0m2 0h0m-8 1h0m7 2h0m-19-1h0m3 0h0m24 3h0m3 4h0m-2 4h0m17 2h0m1 2h0m34-12h0m-12 1h0m8 3h0m-2 4h0m-4 4h0m25-12h0m-5 5h0m4 0h0m-1 7h0m3-9h0m3 1h0m-3 2h0m12 3h0m-3 2h0m6-12h0m3 4h0m9 2h0m-3 5h0m8 5h0m2 10h0m-9-10h0m-11 5h0m2 3h0m-4-6h0m-15-3h0m-8 3h0m2 1h0m0 2h0m-16-6h0m-3 3h0m6 2h0m5 6h0m0 0h0m-21-6h0m-4 1h0m10 5h0m-19-11h0m8 5h0m-6 2h0m2 1h0m-14-9h0m-3 2h0m-15 6h0m-5 2h0m-11-6h0m-6 0h0m2 6h0m5 8h0m-4 1h0m13 1h0m12-5h0m-7 1h0m-4 4h0m5 1h0m5 1h0m1 4h0m11-6h0m-4 1h0m12-5h0m1 0h0m16-2h0m35 5h0m-1 2h0m0 3h0m-11 2h0m6 0h0m17 0h0m6-11h0m2 1h0m2 1h0m-3 2h0m2 6h0m4 0h0m8-1h0m4 0h0m6 1h0m-4 4h0m-21 3h0m3 3h0m-6 0h0m-4 1h0m-25-6h0m0 0h0m-5 3h0m-24-4h0m-3 6h0m1 0h0m0 0h0m-19-6h0m3 4h0m-2 3h0m-9-8h0m-15 3h0m3 9h0m-19-8h0m-2 8h0m1 0h0m-6-8h0m9 14h0m-4 5h0m5 3h0m7-12h0m-1 3h0m6 4h0m16-7h0m1 10h0m8-7h0m-2 2h0m0 5h0m17-10h0m7 2h0m-3 4h0m-3 1h0m21-5h0m-1 1h0m0 6h0m-7 1h0m30-9h0m-3 5h0m26-3h0m0 2h0m0 1h0m17 3h0m6 2h0m-13 4h0m-3 1h0m0 0h0m-6 7h0m1 3h0m-12-1h0m-23-10h0m0 9h0m0 1h0m-23-10h0m6 7h0m-8 1h0m-9-8h0m2 0h0m-6 9h0m-4-9h0m-5 6h0m-3 1h0m10 4h0m-27-5h0m5 2h0m5 1h0m-11-8h0m-11 5h0m1 0h0m-10-5h0m4 1h0m0 10h0m-16 2h0m3 3h0m4-4h0m9 2h0m-2 1h0m3 0h0m0 4h0m8-1h0m-1 4h0m15-2h0m16-8h0m2 0h0m-3 1h0m-2 8h0m2 0h0m-6 4h0m15-12h0m8 4h0m9-1h0m4 6h0m41-4h0m18-2h0m-3 1h0m6 3h0m-13 11h0m5 2h0m-19-4h0m-1 9h0m-11-7h0m3 0h0m2 0h0m-14 6h0m-13-2h0m-17-1h0m-5 5h0m-6-7h0m2 0h0m-19-3h0m-5 5h0m9 3h0m-3 1h0m-22-3h0m-3-8h0m-22 0h0m6 1h0m-1 2h0m9 11h0m6 1h0m-2 1h0m11 1h0m17-2h0m1 1h0m4 4h0m-4 4h0m-5 2h0m17-11h0m3 1h0m-4 9h0m22-8h0m-13 4h0m9 5h0m11-11h0m1 1h0m1 0h0m0 8h0m18 1h0m17-3h0m14-6h0m9 1h0m-7 8h0m4 1h0m7-13h0m1 0h0m-9 14h0m0 2h0m-19 1h0m4 8h0m-15-10h0m-2 3h0m2 8h0m-17-4h0m-5-1h0m1 0h0m1 0h0m-6 1h0m-12-7h0m-5 5h0m10 3h0m0 0h0m-37-1h0m-17-3h0m2 1h0m-2 5h0m6 4h0m5 5h0m0 2h0m10 1h0m9 1h0m11-8h0m11 8h0m-7 1h0m-1 1h0m2 1h0m13-3h0m18-3h0m-8 3h0m1 2h0m23-9h0m-6 2h0m-1 1h0m-3 1h0m8 0h0m4 0h0m1 0h0m9-4h0m-8 7h0m3 6h0m-11 3h0m-20-4h0m11 0h0m-21 1h0m9 1h0m-1 7h0m-2 1h0m-20-8h0m3 0h0m-10-1h0m-17 3h0m0 5h0m-6 2h0m20 9h0m1 3h0m-5 1h0m5 2h0m6-4h0m29-8h0m11 1h0"/>
<path id="k1_6" d="M380 -302h0m69 245h0m-11-1h0m-8-4h0m-16 11h0m15 8h0m46 14h0m-26-3h0m-11-7h0m1 1h0m4 6h0m-17-8h0m4 9h0m-13-6h0m-2 4h0m-14 5h0m-2 2h0m-2 3h0m4 2h0m4 2h0m-9 1h0m27-1h0m-3 2h0m17-8h0m3 0h0m5 0h0m30 5h0m-9 4h0m10-10h0m0 5h0m7 20h0m-15-7h0m-7 6h0m-20 0h0m-12-8h0m-1 7h0m-2 1h0m-7-12h0m-27 3h0m-3 0h0m1 16h0m-3 2h0m13-6h0m26 2h0m0 5h0m-4 1h0m14 3h0m16-8h0m20 6h0m8-8h0m-3 1h0m5 2h0m4 8h0m9-13h0m-1 21h0m-10-7h0m-1 12h0m3 0h0m-11-12h0m-6 2h0m-4 2h0m-10-3h0m3 10h0m-11-8h0m-12 6h0m1 1h0m-5 2h0m-18-12h0m-1 10h0m-21 2h0m-1 2h0m-2 7h0m17-6h0m-10 11h0m12-11h0m25 0h0m-6 6h0m-5 4h0m5 1h0m14-12h0m3 1h0m1 2h0m8-1h0m13 1h0m7 4h0m9 5h0m2 0h0m12-8h0m3 6h0m11 6h0m-3 1h0m-7-2h0m-23 2h0m11 0h0m-18-1h0m-2 9h0m3 0h0m-10-11h0m-6 5h0m-15-3h0m-4 7h0m0 0h0m-8-5h0m-10-2h0m-14 3h0m-22-1h0m-10 13h0m4 10h0m5-11h0m4 1h0m1 2h0m6 4h0m4-6h0m3 0h0m-6 3h0m9 3h0m10-2h0m4 1h0m27-6h0m-6 5h0m9 1h0m8-3h0m16-5h0m-5 1h0m4 0h0m5 1h0m15 4h0m0 1h0m0 4h0m0 0h0m4-11h0m11 9h0m9-9h0m7 8h0m0 17h0m-8-11h0m-9 10h0m-26-5h0m0 4h0m-1-5h0m-6 8h0m-10-8h0m-1 6h0m2 2h0m-14-9h0m-5 1h0m-1 3h0m7 0h0m0 0h0m-6 5h0m-13-8h0m-2 3h0m3 0h0m-19 6h0m-28-9h0m-12-1h0m6 14h0m1 2h0m23-3h0m-2 2h0m-5 5h0m12 2h0m5-5h0m16-5h0m5 0h0m-9 1h0m2 8h0m-1 2h0m6 1h0m32-9h0m-11 6h0m22-3h0m-5 5h0m13-2h0m21-8h0m2 10h0m-13 1h0m20-10h0m8-1h0m3 0h0m-14 14h0m2 7h0m-12-2h0m-4 3h0m-10-9h0m0 7h0m-8 1h0m-14-2h0m-26 2h0m10 2h0m-13-11h0m-22 2h0m0 2h0m-1 5h0m10 0h0m-4 2h0m-8 1h0m-13-6h0m0 1h0m3 1h0m-6 4h0m-32 9h0m32-7h0m-4 6h0m42-6h0m5 1h0m5 1h0m3 6h0m29 0h0m12 3h0m19-8h0m-4 6h0m1 4h0m15-13h0m-9 9h0m7 3h0m1 1h0m-19 6h0m8 5h0m-8 1h0m-15 1h0m-4-11h0m-6 6h0m6 3h0m-16-9h0m1 0h0m-14-1h0m-23 7h0m3 0h0m-11-7h0m-8 8h0m0 3h0m11 1h0m-24-2h0m-3-3h0m-1 5h0m-2 1h0m-22-11h0m0 1h0m-1 1h0m10 0h0m-9 5h0m2 2h0m-7-4h0m8 8h0m7 3h0m14-2h0m-10 1h0m1 2h0m19 3h0m-1 5h0m8-13h0m-1 13h0m22-8h0m1 1h0m11-3h0m16-1h0m1 2h0m12-4h0m0 1h0m12 4h0m-4 1h0m5 21h0m-17-12h0m4 3h0m-3 7h0m-1 1h0m1 1h0m-23-10h0m-4 9h0m-21-2h0m-26-10h0m5 12h0m-19-8h0m6 1h0m-4 5h0m7 1h0m-10-9h0m21 13h0m-1 2h0m-3 9h0m14 1h0m8 0h0m15-4h0m-11 3h0m1 1h0m13-9h0m0 1h0m18-1h0m3 4h0m16-2h0m0 1h0m22-4h0m-25 14h0m7 1h0m-27-3h0m-9 4h0m0 3h0m8 3h0m-19-8h0m1 2h0m-2 5h0m-3 3h0m-5-12h0m-1 1h0m-5 1h0m3 8h0m-16-7h0m4 3h0m-4 1h0m-3 1h0m5 4h0m-2 1h0m0 6h0m3 2h0m-2 2h0m28-5h0m-9 2h0m0 6h0m28 1h0m-30 0h0m-10 2h0"/>
<path id="k1_7" d="M382 -292h0m60 227h0m-31 17h0m-1 2h0m23-10h0m0 2h0m1-2h0m9 2h0m0 8h0m5-2h0m2 1h0m0 2h0m8 8h0m-1 6h0m-2 2h0m-18 0h0m-4-11h0m-10 3h0m6 6h0m-17-8h0m0 0h0m1 0h0m3 6h0m-14-4h0m-4 13h0m1 3h0m21-2h0m5 2h0m1 3h0m14-5h0m-6 1h0m3 3h0m22-7h0m13 5h0m-3 1h0m12 0h0m-1 3h0m-4 7h0m-13 2h0m11 0h0m-9 2h0m7 0h0m-16-3h0m-6 2h0m1 0h0m-6-2h0m-7 5h0m6 3h0m-18-10h0m-5 1h0m-1 1h0m3 5h0m4 0h0m-12-10h0m-2 8h0m-23-5h0m-3 18h0m1 5h0m14-10h0m3 1h0m23-1h0m2 4h0m10 1h0m12-1h0m2 0h0m0 0h0m9-4h0m2 0h0m6 10h0m6-9h0m11 8h0m8-6h0m-2 18h0m0 1h0m4 1h0m-30-7h0m-5 2h0m3 1h0m5 0h0m3 2h0m-21-1h0m4 0h0m-1 2h0m0 1h0m-4 2h0m-10-12h0m3 3h0m0 3h0m-15 0h0m-14-5h0m-8 3h0m4 3h0m0 4h0m-5 1h0m-10-10h0m2 4h0m0 5h0m1 1h0m-12-7h0m-5 4h0m6 12h0m24-7h0m6 1h0m-12 9h0m23-8h0m-1 9h0m10-7h0m5 7h0m10-12h0m15 5h0m33-3h0m-4 1h0m-1 1h0m2 3h0m6 0h0m2 17h0m-13-6h0m0 7h0m-7-11h0m-1 3h0m3 0h0m-20-2h0m6 3h0m-18-4h0m4 5h0m-6 3h0m-19 0h0m-1 1h0m7 0h0m-5 4h0m-17-1h0m-6-12h0m-1 10h0m-12-7h0m-1 4h0m-18-7h0m-2 3h0m-2 3h0m-5-3h0m2 3h0m-6 6h0m3 5h0m-4 4h0m17-7h0m1 0h0m13 1h0m-1 1h0m0 6h0m-2 3h0m17-4h0m12 0h0m12 4h0m30 1h0m14-11h0m8 0h0m-13 1h0m13 1h0m-7 9h0m14-10h0m-5 2h0m2 9h0m17-10h0m-18 12h0m6 0h0m-7 1h0m8 5h0m-23-3h0m-19 2h0m3 7h0m-39-11h0m5 7h0m-20 1h0m5 3h0m-7-10h0m-11 7h0m8 3h0m-30-8h0m-6 3h0m2 0h0m0 5h0m2 0h0m-12 13h0m19-6h0m5-4h0m20 3h0m-6 4h0m17-3h0m0 1h0m-1 3h0m16 1h0m17-11h0m0 2h0m-10 6h0m9 0h0m1 0h0m6-5h0m14-3h0m5 0h0m4 0h0m-8 8h0m4 3h0m10-9h0m3 9h0m12-5h0m3 3h0m4 4h0m3-1h0m16-6h0m-26 20h0m-10-12h0m-4 3h0m0 1h0m6 0h0m0 1h0m-4 3h0m-5 5h0m-14-13h0m7 0h0m0 1h0m-3 11h0m-32-12h0m2 2h0m1 1h0m-3 7h0m-15-5h0m-12-1h0m7 0h0m-19 2h0m0 0h0m2 4h0m-14-10h0m7 0h0m-10 2h0m-2 7h0m3 2h0m-20 13h0m17-7h0m21 1h0m-4 9h0m10-9h0m4 5h0m20-6h0m5-3h0m0 0h0m0 12h0m26 0h0m3-8h0m8 4h0m-1 3h0m-8 2h0m14-11h0m8 0h0m7 0h0m10 3h0m-6 3h0m17-6h0m-7 7h0m2 6h0m-5 10h0m-19-1h0m-5 1h0m-24-3h0m-23-8h0m-12 2h0m2 1h0m8 7h0m-10 2h0m-6-12h0m1 4h0m2 2h0m-18-4h0m-7 2h0m1 3h0m9 0h0m-1 1h0m-11-5h0m-5 8h0m-14-9h0m3 1h0m-7 1h0m1 3h0m-4 3h0m-2-6h0m-6 2h0m21 9h0m-12 10h0m0 2h0m22-13h0m15 2h0m-8 9h0m13-7h0m25-4h0m-5 4h0m4 0h0m-9 1h0m6 2h0m9 0h0m-2 4h0m24-9h0m-8 5h0m-1 6h0m0 0h0m23-8h0m-11 3h0m12 4h0m4-12h0m5 6h0m-4 3h0m15-2h0m4 0h0m-6 14h0m-11 1h0m-15-6h0m0 8h0m-15-8h0m1 10h0m3 0h0m-14-10h0m5 5h0m1 4h0m-21-8h0m-4 1h0m-1 1h0m6 0h0m2 4h0m1 4h0m-23-8h0m11 7h0m-4 1h0m-30-7h0m1 1h0m-4 3h0m10 5h0m0 8h0m0 0h0m8-9h0m4 2h0m2 3h0m3 2h0m13-7h0m1 0h0m17 0h0m-5 2h0m19 0h0m22 4h0m-1 2h0m-6 1h0m12-9h0m0 1h0m-3 4h0m6 0h0m-7 2h0m0 0h0m9 5h0m0 1h0m-21 10h0m2 1h0m1 0h0m-15-8h0m-2 3h0m-5-1h0m2 1h0m-1 2h0m-6 2h0m-13-6h0m2 1h0m-17-2h0m7 2h0m-12 2h0m12 6h0m-4 1h0m-15-10h0m4 1h0m-1 4h0m-2 5h0m1 4h0m0 5h0m-1 3h0m2 1h0m11 0h0m5 1h0m14-7h0m-2 5h0m9-3h0m0 0h0m-3 1h0m27-4h0m-29 11h0m9 0h0m-9 1h0m4 1h0m2 1h0m-8-2h0"/>
<path id="k11_0" d="M391 186h0m0 2h0m-13 27h0m12 10h0m-10 19h0m-16-1h0m-4 6h0m-37-6h0m1 0h0m-1 4h0m7 5h0m19 0h0m5 3h0m14 5h0m3 2h0m9-1h0"/>
<path id="k11_1" d="M411 140h0m-28 60h0m2 9h0m-5 7h0m1 25h0m-11 4h0m-5 6h0m-5-8h0m-7 7h0m-11 2h0m-1 1h0m2 1h0m13 0h0m12-1h0m4 0h0m-7 3h0m5 1h0m6 4h0m-5 4h0m14-12h0"/>
<path id="k11_2" d="M392 189h0m-11 18h0m-3 8h0m6 29h0m-6 3h0m-12-3h0m3 2h0m1 4h0m-6 1h0m-32 1h0m14 5h0m14-3h0m1 6h0m-7 2h0m12-9h0m11 10h0m9-7h0"/>
<path id="k11_3" d="M386 199h0m-8 15h0m7 18h0m-2 12h0m2 6h0m-19-9h0m10 6h0m-15-4h0m-1 2h0m2 3h0m-11 3h0m-26-4h0m-1 1h0m30 11h0m2 0h0m16-5h0m0 8h0m4 0h0m-9 3h0"/>
<path id="k11_4" d="M376 212h0m1 1h0m13 12h0m-8 21h0m-10-6h0m-9 2h0m-6 9h0m-32-6h0m-1 2h0m11 2h0m-14-4h0m28 8h0m14 3h0m-9 4h0m0 1h0m6 3h0m10-8h0m16-3h0"/>
<path id="k11_5" d="M413 141h0m-34 103h0m7 5h0m-9 2h0m-47-1h0m26 7h0m-5 1h0m9 5h0m15-11h0m-10 2h0m11 2h0m2-3h0m5 3h0"/>
<path id="k11_6" d="M388 200h0m-4 4h0m-6 11h0m7 16h0m-4 14h0m1 2h0m-12-6h0m1 4h0m-12 2h0m-35-6h0m16 11h0m13 1h0m8 5h0m-4 3h0m9-3h0m6 4h0m4 2h0m5-4h0"/>
<path id="k11_7" d="M394 188h0m-6 12h0m-1 3h0m-4 2h0m-2 6h0m0 29h0m4 5h0m0 1h0m3 4h0m-18-3h0m3 4h0m-11-1h0m-38-3h0m-3-2h0m26 8h0m24 3h0"/>
<path id="k12_0" d="M-4 -551h0m12-8h0m-5 3h0m0 1h0m0 6h0m7 0h0m17-11h0m15 3h0m13 2h0m3 6h0m10 0h0m-51 12h0m-6-5h0m-5 1h0m15 9h0m19 5h0m1 0h0m44-1h0m4 6h0m-23 4h0m-6 1h0m9 0h0m42 17h0m-6 5h0m9 8h0m3 7h0m-4 4h0m9 4h0"/>
<path id="k12_1" d="M-7 -560h0m0 3h0m1 8h0m11-7h0m-1 5h0m1 2h0m18-10h0m17-1h0m-2 3h0m2 1h0m-12 2h0m12 0h0m12-1h0m-1 2h0m5 2h0m18 7h0m-10-2h0m-31 9h0m-4 1h0m-13-7h0m-4-1h0m5 13h0m17-1h0m-1 4h0m9 4h0m3 3h0m25-6h0m11 1h0m6-5h0m3 5h0m8 18h0m-29-5h0m45 13h0m-1 1h0m-1 4h0m1 0h0m0 3h0m7 4h0m-9-2h0m12 17h0"/>
<path id="k12_2" d="M48 -561h0m-37 1h0m-10 2h0m2 3h0m0 7h0m0 1h0m37-13h0m-3 3h0m-1 1h0m6-3h0m5 4h0m22 7h0m-1 5h0m-37 10h0m-9-6h0m-2 2h0m-6 4h0m-5-10h0m4 2h0m-14 0h0m33 11h0m4 4h0m9 3h0m20 2h0m7-4h0m23 7h0m-30 2h0m42 12h0m-1 4h0m10 1h0m-8 10h0m8 15h0m3 2h0m0 5h0m4 1h0"/>
<path id="k12_3" d="M42 -563h0m-32 3h0m2 1h0m1 0h0m-4 9h0m8-10h0m31 1h0m-4 3h0m11 3h0m19 7h0m-49 4h0m-8 4h0m-2 1h0m6 1h0m-15-10h0m-5 1h0m80 17h0m7 8h0m5 0h0m6 7h0m7 6h0m-15-11h0m-21 4h0m41 12h0m0 4h0m3-4h0m3 20h0m-4 1h0m3 2h0m9 1h0m-3 7h0"/>
<path id="k12_4" d="M-3 -557h0m2 0h0m-5 2h0m14 0h0m-7 3h0m18 1h0m0 3h0m4 1h0m11-10h0m19-2h0m-8 3h0m19 7h0m2 0h0m0 2h0m3 4h0m-14-1h0m-22 11h0m-19-13h0m11 7h0m-3 1h0m-19-4h0m32 12h0m4 7h0m3 0h0m45-3h0m0 1h0m9 6h0m3-3h0m2 4h0m-3 4h0m5 4h0m-4 1h0m5 0h0m-3 4h0m-6-12h0m14 14h0m9 27h0m-4 3h0m2 1h0m3 2h0m7-1h0"/>
<path id="k12_5" d="M28 -562h0m-25 6h0m19 7h0m1 2h0m9-11h0m21 2h0m-8 3h0m3 1h0m20 6h0m-13 2h0m-3 1h0m-35-1h0m1 1h0m7 7h0m-14 0h0m22 9h0m7 7h0m3-7h0m1 6h0m38-7h0m9 3h0m12 16h0m-37-5h0m42 10h0m-1 2h0m-5 2h0m5 5h0m8 6h0m4 1h0m5 11h0m-6 8h0m3 2h0"/>
<path id="k12_6" d="M40 -561h0m-39-1h0m-1 12h0m4 3h0m18-12h0m22-1h0m9 2h0m3 6h0m10 2h0m-47 6h0m4 2h0m3 5h0m-10 2h0m2 1h0m6 0h0m-21-9h0m6 0h0m4 4h0m4 7h0m17 2h0m-3 5h0m6 4h0m64 3h0m5 13h0m-10-13h0m0 2h0m-1 4h0m-7 5h0m15 5h0m1 4h0m4 7h0m5-2h0m7 3h0m2 7h0m-1 4h0m-8 2h0m6 9h0m5 1h0"/>
<path id="k12_7" d="M44 -561h0m-28-2h0m-9 2h0m-15 3h0m6 5h0m24-5h0m19-1h0m-9 1h0m-1 2h0m12-1h0m12 4h0m7 0h0m-3 6h0m7 7h0m-36 7h0m-16-13h0m8 1h0m4 8h0m-7 2h0m-8-9h0m27 14h0m-2 1h0m4 9h0m27 0h0m17-7h0m4 0h0m12 10h0m0 0h0m-1 6h0m10 6h0m-36-10h0m-4 0h0"/>
<path id="k3x_0" d="M113 -412h0"/>
<path id="k3x_1" d="M111 -419h0m0 2h0"/>
<path id="k3x_2" d="M108 -422h0m4 2h0m1 7h0"/>
<path id="k3x_4" d="M110 -427h0m-1 1h0m4 15h0"/>
<path id="k3x_5" d="M108 -424h0m2 2h0m6 2h0m0 1h0"/>
<path id="k3x_6" d="M111 -426h0m0 1h0m0 0h0m1 11h0m11 21h0"/>
<path id="k3x_7" d="M110 -426h0"/>
<path id="k3_0" d="M-180 -31h0m-5-1h0m-165 4h0m45 33h0m152 36h0m19 5h0m-13-3h0m5 4h0m-26-4h0m6 1h0m1 2h0m-10 6h0m14 8h0m-9 6h0m24-7h0m0 2h0m-12 8h0m17 0h0m14 1h0m-1 13h0m-4-6h0m-4 1h0m1 1h0m-15-5h0m4 9h0m-24-11h0m9 2h0m-9 1h0m8 0h0m1 1h0m1 2h0m-1 4h0m-17 0h0m5 8h0m10-4h0m-1 5h0m7-4h0m5 0h0m-3 4h0m8 5h0m3-10h0m2 1h0m5 2h0m19-3h0m-8 2h0m49 18h0m-62-3h0m-12 8h0m-13-11h0m4 0h0m-4 6h0m0 2h0m-2 2h0m-16-3h0m9 2h0m-8 2h0m7 0h0m-3 1h0m-4 4h0m5 0h0m2 1h0m-6 1h0m-2 1h0m0 4h0m5 0h0m17 9h0m-26-5h0m-3 7h0m0 11h0m1 0h0m9-2h0m2 0h0m-9 9h0m-14 6h0m2 7h0m2 1h0m-2 4h0m22 9h0"/>
<path id="k3_1" d="M-277 -74h0m467 31h0m-541 14h0m183 67h0m10 0h0m-2 2h0m27 5h0m-25 11h0m3 2h0m-7 1h0m20-1h0m-2 9h0m6-9h0m6 11h0m7 13h0m-5-9h0m-5 3h0m-19-4h0m1 5h0m2 4h0m-19 15h0m2-8h0m1 0h0m21 1h0m5 1h0m-4 4h0m-2 1h0m9-9h0m5 0h0m13 4h0m-1 3h0m47 14h0m-64-2h0m-11-1h0m-16-4h0m3 5h0m3 1h0m-5 3h0m-9-7h0m2 5h0m-3 2h0m2 2h0m-5 12h0m5 0h0m5-11h0m4 0h0m-12 16h0m-4 5h0m-6 9h0m-8 1h0m10 5h0m4-8h0m0 1h0m2 0h0m6 5h0m-17 11h0m0 1h0m-4 2h0m5 1h0m0 3h0m-15-4h0m1 4h0m30 10h0"/>
<path id="k3_2" d="M277 -95h0m-55 6h0m-32 81h0m-340 40h0m-4 6h0m1 10h0m10 3h0m-20 12h0m-5 4h0m24 1h0m15-2h0m8 15h0m-11 1h0m-12-8h0m-13-2h0m-2 1h0m0 3h0m-19 9h0m8 9h0m-2 3h0m10-7h0m5 1h0m8-1h0m-3 3h0m7 1h0m14-8h0m1 0h0m-9 3h0m26-3h0m-11 4h0m74-2h0m-96 11h0m-3 1h0m3 2h0m-8 1h0m-2-5h0m-9 11h0m-7-10h0m0 4h0m1 6h0m0 3h0m1 4h0m-9 3h0m5 1h0m5 3h0m6-10h0m1 0h0m-2 1h0m-3 2h0m4 23h0m-8-10h0m-12 18h0m10-7h0m2 9h0m-10 11h0m-6-6h0m2 0h0m1 6h0m-10 5h0m-3-7h0m4 13h0m3 12h0"/>
<path id="k3_3" d="M186 -71h0m-583 22h0m54 4h0m186 81h0m-4 4h0m15 4h0m-6 6h0m-10-6h0m-4 5h0m-3 18h0m21-9h0m3 6h0m0 1h0m3 3h0m15 13h0m0 2h0m-16-6h0m-11 4h0m-12-6h0m9 6h0m-20-11h0m7 25h0m14-10h0m-12 4h0m11 5h0m6-8h0m9 3h0m-6 1h0m-2 1h0m-2 1h0m-1 2h0m5 3h0m10-13h0m7 2h0m1 1h0m-6 12h0m-17 1h0m-7-2h0m-3 3h0m-9 10h0m-10 7h0m22-6h0m-2 2h0m2 7h0m-5 7h0m-2 3h0m-6-4h0m0 5h0m4 6h0m-16 6h0m-7 4h0m8 0h0m-7 3h0m16-7h0m-5 5h0m15-5h0m-26 10h0m-4 1h0m8 5h0m4 2h0m-9 5h0m8 3h0m-3 16h0m0 23h0"/>
<path id="k3_4" d="M211 -199h0m-7-2h0m-508 208h0m144 33h0m23 3h0m0 2h0m3 0h0m-19 10h0m-19 8h0m43 9h0m-1 2h0m1 0h0m-2 8h0m-25-12h0m-2 2h0m0 2h0m-3 4h0m-2 2h0m5 3h0m-21-13h0m-1 13h0m2 2h0m28 8h0m5 1h0m29-9h0m73 14h0m-102 6h0m-5 4h0m-12-10h0m-3 4h0m9 2h0m-8 1h0m4 0h0m1 2h0m-9 1h0m-5-9h0m4 0h0m0 2h0m-6 1h0m6 2h0m-15 19h0m6-7h0m-4 1h0m2 0h0m2 4h0m7 3h0m10-5h0m23 14h0m-20-7h0m-20-1h0m0 4h0m-7-4h0m-4 8h0m4 6h0m1 6h0m-10 6h0m2 1h0m12-9h0m3 1h0m-2 14h0m-10 6h0m-3 2h0"/>
<path id="k3_5" d="M-260 -106h0m483 16h0m-39 18h0m-528 26h0m196 86h0m-6 13h0m-13-5h0m0 5h0m-4 0h0m-11 16h0m22-13h0m23 4h0m0 2h0m12-3h0m4 2h0m-4 9h0m1 4h0m6 9h0m-20-13h0m2 7h0m3 0h0m-21 3h0m1 1h0m-6-11h0m-7 12h0m-3 14h0m9-2h0m4 0h0m-2 2h0m0 0h0m-1 1h0m8-13h0m-3 4h0m4 4h0m7 1h0m-1 2h0m4-7h0m6 2h0m61 17h0m-62 0h0m-8-5h0m-6 3h0m-17-3h0m1 3h0m1 0h0m4 1h0m-6 2h0m8 0h0m-23-5h0m11 4h0m1 0h0m-9 4h0m-5 13h0m12-10h0m-2 1h0m-7 5h0m-2 2h0m6 3h0m19-13h0m-11 4h0m1 0h0m1 1h0m148 5h0m2 0h0m-155 6h0m-10 3h0m10 0h0m-9 7h0m2 1h0m-10-1h0m0 2h0m1 4h0m5 8h0m-10 3h0m-3 3h0m5 1h0m3 0h0m-8 7h0m3 1h0m-6-2h0m6 8h0m22-2h0"/>
<path id="k3_6" d="M202 -209h0m77 114h0m-33-1h0m-516 20h0m-127 28h0m48 18h0m179 29h0m1 1h0m1 37h0m9 0h0m-8 2h0m14-1h0m-1 3h0m-14 6h0m5 5h0m6 2h0m-14-2h0m10 7h0m-1 2h0m8 6h0m33 2h0m-22 6h0m-11 4h0m-5 0h0m4 10h0m-6 3h0m-4 1h0m2 2h0m19-6h0m-6 4h0m3 1h0m9 2h0m20-12h0m0 1h0m69 4h0m-89 12h0m-8 0h0m-16-1h0m2 4h0m3 2h0m-4 1h0m4 2h0m-5 2h0m-9-13h0m1 4h0m-8 1h0m6 1h0m0 2h0m3 5h0m0 0h0m-4 9h0m2 1h0m-7 3h0m12-8h0m-2 1h0m151 3h0m-116 14h0m-44-7h0m1 1h0m5 10h0m-6 1h0m-8 4h0m-4 10h0m15-5h0m-20 7h0m6 2h0m-9 6h0m13 10h0m44 56h0"/>
<path id="k3_7" d="M-165 40h0m-2 29h0m8 0h0m12-4h0m25 15h0m-7-8h0m-25 10h0m3 1h0m0 0h0m-6-12h0m-11 17h0m7 8h0m3 1h0m3 0h0m4-10h0m7 1h0m-3 4h0m3 4h0m14-10h0m15-2h0m-38 16h0m0 10h0m-5-12h0m-6 3h0m9 3h0m0 1h0m-4 3h0m4 0h0m-10 3h0m-4-13h0m-8 4h0m3 0h0m5 1h0m-6 3h0m6 7h0m-1 2h0m-3 6h0m-8 1h0m10 0h0m13-9h0m0 1h0m-9 2h0m35 18h0m-32-6h0m-17 0h0m8 0h0m-6 1h0m-1 1h0m8 5h0m0 1h0m-8 1h0m-11 0h0m-7 4h0m14 4h0m-5 8h0m15-9h0m-83 15h0m56 32h0"/>
<path id="k15_0" d="M17 82h0m10 1h0m-16-3h0m1 1h0m-28 2h0m-13-1h0m-14 15h0m7-9h0m19-4h0m-11 13h0m27-12h0m-7 4h0m2 5h0m0 3h0m11-1h0m20-11h0m-2 1h0m1 0h0m3 2h0m-13 1h0m3 7h0m6 0h0m1 0h0m9-12h0m-3 6h0m8 6h0m-6 1h0m-4 1h0m-12 0h0m5 2h0m0 0h0m1 4h0m-1 1h0m-21-2h0m-11-4h0m1 5h0m5 1h0m3 4h0m-25-10h0m0 5h0m6 0h0m5 4h0m-7 3h0m-17-8h0m-5 1h0m30 10h0m9-1h0m-8 2h0m16 6h0m10 2h0m-10 2h0m10 0h0m33-13h0"/>
<path id="k15_1" d="M33 80h0m-13-7h0m-1 4h0m-8-2h0m-38 11h0m1 1h0m1 3h0m-2 1h0m1 0h0m5 1h0m23-4h0m1 4h0m19-7h0m-6 2h0m12 13h0m13 3h0m-1 4h0m-10 4h0m-15-9h0m6 7h0m-10-10h0m0 1h0m-9 6h0m-26-6h0m4 2h0m-7 6h0m-15-6h0m8 0h0m11 10h0m7 1h0m-3 4h0m-3 1h0m6 1h0m1 3h0m9-2h0m-5 5h0m18-12h0m-6 12h0m1 0h0m15-8h0m-2 2h0m19-6h0m6 3h0m1 2h0"/>
<path id="k15_2" d="M32 82h0m4 0h0m-5 1h0m-11-6h0m7 1h0m-2 1h0m0 2h0m-12-3h0m-10 2h0m-28-1h0m-6 10h0m-6 8h0m21-11h0m-7 4h0m-1 3h0m6 2h0m10-6h0m13 0h0m1 1h0m-1 2h0m8 1h0m9-7h0m4 0h0m1 0h0m-6 3h0m8-1h0m-1 1h0m14 15h0m-7 6h0m-21-6h0m7 5h0m-32-11h0m6 7h0m-9 5h0m-2-12h0m1 13h0m-31-13h0m24 21h0m5 2h0m16 3h0m7-11h0m4 1h0m-9 3h0m5 1h0m7 1h0m27-7h0m0 4h0m-5 3h0m-25 7h0"/>
<path id="k15_3" d="M17 81h0m0 1h0m-28 0h0m-10-2h0m-5 2h0m11 1h0m-16 0h0m-8 4h0m8 6h0m-3 1h0m6-8h0m3 0h0m-2 9h0m34-9h0m-3 5h0m-1 1h0m18-6h0m2 2h0m-2 7h0m-7 1h0m15 0h0m0 2h0m-8 3h0m-1 5h0m-7-7h0m-3 1h0m-10 9h0m-25-8h0m6 9h0m-20-9h0m0 1h0m7 0h0m-15-3h0m29 19h0m17 0h0m-12 2h0m0 0h0m3 4h0m3 0h0m20-11h0m0 4h0m-6 1h0m1 1h0m-5 5h0m21-6h0m2 0h0m-8 7h0m16-11h0m-5 3h0m7 1h0m-19 9h0"/>
<path id="k15_4" d="M27 76h0m-16-1h0m-47 15h0m9 3h0m15 3h0m20-9h0m5 3h0m-8 6h0m0 0h0m4 1h0m14-6h0m-6 2h0m9 0h0m1 1h0m3-5h0m10 5h0m-3 1h0m-3 2h0m-4 2h0m10 7h0m-9 4h0m-15 1h0m11 0h0m-28-9h0m-5 1h0m-4 3h0m-11-6h0m-7 1h0m2 3h0m1 0h0m3 2h0m-12-4h0m5 4h0m0 1h0m-15-8h0m21 14h0m2 2h0m29 5h0m2 3h0m1 0h0m10-10h0m12 2h0m-14 11h0"/>
<path id="k15_5" d="M33 75h0m-1 7h0m4 1h0m-16-8h0m3 8h0m-46-1h0m-9 7h0m-3 2h0m1 3h0m0 0h0m12-10h0m1 2h0m0 0h0m-5 6h0m9 3h0m-10 1h0m14-7h0m39-3h0m-9 1h0m-2 3h0m4 5h0m10-10h0m10 8h0m-4 3h0m4 1h0m2 10h0m-1 1h0m-20-3h0m5 1h0m-34-6h0m-12-1h0m2 10h0m-14-6h0m-2 9h0m5 1h0m7 1h0m-1 3h0m4 2h0m-6 4h0m0 1h0m17-4h0m3 0h0m14-8h0m2 4h0m1 8h0m3-11h0m2 5h0"/>
<path id="k15_6" d="M33 82h0m-13-8h0m-2 4h0m5 3h0m4 1h0m-14-3h0m-7 3h0m5 0h0m-42-1h0m-13 16h0m14 0h0m12-6h0m-10 1h0m0 4h0m30-7h0m7 7h0m-6 1h0m23-13h0m-5 2h0m0 2h0m10 3h0m-2 3h0m14 10h0m-14 3h0m0 2h0m-15-8h0m5 4h0m-2 6h0m-12-10h0m8 0h0m-27-1h0m-14 6h0m11 0h0m-20-1h0m3 4h0m-12-10h0m2 5h0m36 10h0m-1 4h0m-2 2h0m3 2h0m2 2h0m6-7h0m0 0h0m10 4h0m28-9h0m-5 2h0m3 1h0m0 2h0m0 5h0"/>
<path id="k15_7" d="M29 83h0m-10-4h0m-15 4h0m-26-3h0m1 3h0m-10 7h0m1 0h0m-5 2h0m0 3h0m-3 1h0m0 1h0m12-12h0m5 4h0m4 6h0m17-11h0m0 0h0m17 3h0m5 2h0m-3 8h0m12 6h0m4 3h0m-18-7h0m0 1h0m3 6h0m7 1h0m-11 3h0m5 1h0m-12-4h0m-20-9h0m9 1h0m-1 11h0m-22-3h0m-9-7h0m-4 1h0m9 4h0m0 0h0m-4 8h0m17 7h0m-7 2h0m14-4h0m-4 1h0m2 2h0m7 3h0m9-8h0m-3 1h0m-1 7h0m21-12h0m11 0h0m5 7h0m4-4h0m-50 11h0"/>
</defs>
<rect width="2011" height="2306" fill="#fff"/>
<rect x="101.8" y="17.3" width="607.2" height="568" fill="#EBEBEB"/>
<path d="M115.35 17.3V585.3M227.35 17.3V585.3M339.35 17.3V585.3M451.35 17.3V585.3M563.35 17.3V585.3M675.35 17.3V585.3M101.8 519.2H709M101.8 407.2H709M101.8 295.2H709M101.8 183.2H709M101.8 71.2H709" stroke="#F9F9F9" stroke-width="1.7" fill="none"/>
<path d="M171.35 17.3V585.3M283.35 17.3V585.3M395.35 17.3V585.3M507.35 17.3V585.3M619.35 17.3V585.3M101.8 575.2H709M101.8 463.2H709M101.8 351.2H709M101.8 239.2H709M101.8 127.2H709" stroke="#fff" stroke-width="2.2" fill="none"/>
<g transform="translate(395.35 351.2) scale(0.50000 0.50000)" fill="none" stroke-linecap="round" stroke-width="6.4">
<g stroke="#9C9292"><use href="#k5a_0"/><use href="#k5a_1"/><use href="#k5a_2"/><use href="#k5a_3"/><use href="#k5a_4"/><use href="#k5a_5"/><use href="#k5a_6"/><use href="#k5a_7"/></g>
<g stroke="#9C9292"><use href="#k5b_0"/><use href="#k5b_1"/><use href="#k5b_2"/><use href="#k5b_3"/><use href="#k5b_4"/><use href="#k5b_5"/><use href="#k5b_6"/><use href="#k5b_7"/></g>
<g stroke="#9C9292"><use href="#k6a_0"/><use href="#k6a_1"/><use href="#k6a_2"/><use href="#k6a_3"/><use href="#k6a_4"/><use href="#k6a_5"/><use href="#k6a_6"/><use href="#k6a_7"/></g>
<g stroke="#9C9292"><use href="#k6b_0"/><use href="#k6b_1"/><use href="#k6b_2"/><use href="#k6b_3"/><use href="#k6b_4"/><use href="#k6b_5"/><use href="#k6b_6"/><use href="#k6b_7"/></g>
<g stroke="#9C9292"><use href="#k4_0"/><use href="#k4_1"/><use href="#k4_2"/><use href="#k4_3"/><use href="#k4_4"/><use href="#k4_5"/><use href="#k4_6"/><use href="#k4_7"/></g>
<g stroke="#C9183C"><use href="#k9a_0"/><use href="#k9a_1"/><use href="#k9a_2"/><use href="#k9a_3"/><use href="#k9a_4"/><use href="#k9a_5"/><use href="#k9a_6"/><use href="#k9a_7"/></g>
<g stroke="#C9183C"><use href="#k9b_0"/><use href="#k9b_1"/><use href="#k9b_2"/><use href="#k9b_3"/><use href="#k9b_4"/><use href="#k9b_5"/><use href="#k9b_6"/><use href="#k9b_7"/></g>
<g stroke="#C9183C"><use href="#k9x_0"/><use href="#k9x_1"/><use href="#k9x_2"/><use href="#k9x_3"/><use href="#k9x_4"/><use href="#k9x_5"/><use href="#k9x_6"/><use href="#k9x_7"/></g>
<g stroke="#E07C90"><use href="#k10_0"/><use href="#k10_1"/><use href="#k10_2"/><use href="#k10_3"/><use href="#k10_4"/><use href="#k10_5"/><use href="#k10_6"/><use href="#k10_7"/></g>
<g stroke="#9E1A1A"><use href="#k7c_0"/><use href="#k7c_1"/><use href="#k7c_2"/><use href="#k7c_3"/><use href="#k7c_4"/><use href="#k7c_5"/><use href="#k7c_6"/><use href="#k7c_7"/></g>
<g stroke="#9E1A1A"><use href="#k7a_0"/><use href="#k7a_1"/><use href="#k7a_2"/><use href="#k7a_3"/><use href="#k7a_4"/><use href="#k7a_5"/><use href="#k7a_6"/><use href="#k7a_7"/></g>
<g stroke="#9E1A1A"><use href="#k7b_0"/><use href="#k7b_1"/><use href="#k7b_2"/><use href="#k7b_3"/><use href="#k7b_4"/><use href="#k7b_5"/><use href="#k7b_6"/><use href="#k7b_7"/></g>
<g stroke="#A04A4A"><use href="#k8_0"/><use href="#k8_1"/><use href="#k8_2"/><use href="#k8_3"/><use href="#k8_4"/><use href="#k8_5"/><use href="#k8_6"/><use href="#k8_7"/></g>
<g stroke="#8756A8"><use href="#k14a_0"/><use href="#k14a_1"/><use href="#k14a_2"/><use href="#k14a_3"/><use href="#k14a_4"/><use href="#k14a_5"/><use href="#k14a_6"/><use href="#k14a_7"/></g>
<g stroke="#8756A8"><use href="#k14b_0"/><use href="#k14b_1"/><use href="#k14b_2"/><use href="#k14b_3"/><use href="#k14b_4"/><use href="#k14b_5"/><use href="#k14b_6"/><use href="#k14b_7"/></g>
<g stroke="#8756A8"><use href="#k14n_0"/><use href="#k14n_1"/><use href="#k14n_2"/><use href="#k14n_3"/><use href="#k14n_4"/><use href="#k14n_5"/><use href="#k14n_6"/><use href="#k14n_7"/></g>
<g stroke="#8756A8"><use href="#k14c_0"/><use href="#k14c_1"/><use href="#k14c_2"/><use href="#k14c_3"/><use href="#k14c_4"/><use href="#k14c_5"/><use href="#k14c_6"/><use href="#k14c_7"/></g>
<g stroke="#BC7A9C"><use href="#k13_0"/><use href="#k13_1"/><use href="#k13_2"/><use href="#k13_3"/><use href="#k13_4"/><use href="#k13_5"/><use href="#k13_6"/><use href="#k13_7"/></g>
<g stroke="#B052A8"><use href="#k12_0"/><use href="#k12_1"/><use href="#k12_2"/><use href="#k12_3"/><use href="#k12_4"/><use href="#k12_5"/><use href="#k12_6"/><use href="#k12_7"/></g>
<g stroke="#A2B6E2"><use href="#k15_0"/><use href="#k15_1"/><use href="#k15_2"/><use href="#k15_3"/><use href="#k15_4"/><use href="#k15_5"/><use href="#k15_6"/><use href="#k15_7"/></g>
<g stroke="#4A9142"><use href="#k2_0"/><use href="#k2_1"/><use href="#k2_2"/><use href="#k2_3"/><use href="#k2_4"/><use href="#k2_5"/><use href="#k2_6"/><use href="#k2_7"/></g>
<g stroke="#14502A"><use href="#k1_0"/><use href="#k1_1"/><use href="#k1_2"/><use href="#k1_3"/><use href="#k1_4"/><use href="#k1_5"/><use href="#k1_6"/><use href="#k1_7"/></g>
<g stroke="#4E0F0F"><use href="#k11_0"/><use href="#k11_1"/><use href="#k11_2"/><use href="#k11_3"/><use href="#k11_4"/><use href="#k11_5"/><use href="#k11_6"/><use href="#k11_7"/></g>
<g stroke="#4AA641"><use href="#k3_0"/><use href="#k3_1"/><use href="#k3_2"/><use href="#k3_3"/><use href="#k3_4"/><use href="#k3_5"/><use href="#k3_6"/><use href="#k3_7"/></g>
<g stroke="#4AA641"><use href="#k3x_0"/><use href="#k3x_1"/><use href="#k3x_2"/><use href="#k3x_4"/><use href="#k3x_5"/><use href="#k3x_6"/><use href="#k3x_7"/></g>
</g>
<rect x="101.8" y="17.3" width="607.2" height="568" fill="none" stroke="#000" stroke-width="2.5"/>
<path d="M171.35 586.55v5M283.35 586.55v5M395.35 586.55v5M507.35 586.55v5M619.35 586.55v5M100.55 575.2h-5M100.55 463.2h-5M100.55 351.2h-5M100.55 239.2h-5M100.55 127.2h-5" stroke="#1a1a1a" stroke-width="1.6" fill="none"/>
<text x="171.75" y="624.2" font-size="25" text-anchor="middle">–10</text>
<text x="283.75" y="624.2" font-size="25" text-anchor="middle">–5</text>
<text x="395.95" y="621.8" font-size="25" text-anchor="middle">0</text>
<text x="507.95" y="621.8" font-size="25" text-anchor="middle">5</text>
<text x="619.95" y="621.8" font-size="25" text-anchor="middle">10</text>
<text x="85" y="584.08" font-size="25" text-anchor="end">–10</text>
<text x="85" y="472.07" font-size="25" text-anchor="end">–5</text>
<text x="85" y="360.07" font-size="25" text-anchor="end">0</text>
<text x="85" y="248.07" font-size="25" text-anchor="end">5</text>
<text x="85" y="136.07" font-size="25" text-anchor="end">10</text>
<text x="395.35" y="659.3" font-size="25" text-anchor="middle">UMAP_1</text>
<text x="20.6" y="334" font-size="25" text-anchor="middle" transform="rotate(-90 20.6 334)">UMAP_2</text>
<text x="-1.3" y="32.3" font-size="41.3" font-weight="bold">a</text>
<text x="410" y="67.5" font-size="36">12</text>
<text x="600" y="199" font-size="36">4</text>
<text x="333.3" y="223.4" font-size="36">7</text>
<text x="404.2" y="224" font-size="36">13</text>
<text x="287" y="272" font-size="36">8</text>
<text x="332" y="330.5" font-size="36">5</text>
<text x="143" y="331" font-size="36">9</text>
<text x="248" y="356" font-size="36">6</text>
<text x="573.5" y="319" font-size="36">2</text>
<text x="647" y="366" font-size="36">1</text>
<text x="430" y="347.6" font-size="36">14</text>
<text x="320.5" y="438.5" font-size="36">3</text>
<text x="397" y="453" font-size="36">15</text>
<text x="238" y="512" font-size="36">10</text>
<text x="536.8" y="514" font-size="36">11</text>
<text x="744.5" y="76.6" font-size="28">1</text>
<text x="791.5" y="76.6" font-size="28" fill="#0B6B38">cTEC I</text>
<text x="744.5" y="112.85" font-size="28">2</text>
<text x="791.5" y="112.85" font-size="28" fill="#0B9247">cTEC II</text>
<text x="744.5" y="149.1" font-size="28">3</text>
<text x="791.5" y="149.1" font-size="28" fill="#7DBB2F">cTEC III</text>
<text x="744.5" y="185.35" font-size="28">4</text>
<text x="791.5" y="185.35" font-size="28" fill="#9A9A9A">PMNs</text>
<text x="744.5" y="221.6" font-size="28">5</text>
<text x="791.5" y="221.6" font-size="28" fill="#9A9A9A">DCs</text>
<text x="744.5" y="259.35" font-size="28">6</text>
<text x="791.5" y="259.35" font-size="28" fill="#9A9A9A">Thymocytes</text>
<text x="744.5" y="294.1" font-size="28">7</text>
<text x="791.5" y="294.1" font-size="28" fill="#8C1515">mTEC-Myo I</text>
<text x="744.5" y="330.35" font-size="28">8</text>
<text x="791.5" y="330.35" font-size="28" fill="#7A4E28">mTEC-Myo II</text>
<text x="744.5" y="366.6" font-size="28">9</text>
<text x="791.5" y="366.6" font-size="28" fill="#A6192E">mTEC-Neuro I</text>
<text x="744.5" y="402.85" font-size="28">10</text>
<text x="791.5" y="402.85" font-size="28" fill="#F48A96">mTEC-Neuro II</text>
<text x="744.5" y="440.6" font-size="28">11</text>
<text x="791.5" y="440.6" font-size="28" fill="#5C3310">mTEC-Diff</text>
<text x="744.5" y="475.35" font-size="28">12</text>
<text x="791.5" y="475.35" font-size="28" fill="#C657A0">comTEC-EMT</text>
<text x="744.5" y="511.6" font-size="28">13</text>
<text x="791.5" y="511.6" font-size="28" fill="#B5739D">comTEC-Proliferating</text>
<text x="744.5" y="547.85" font-size="28">14</text>
<text x="791.5" y="547.85" font-size="28" fill="#5E2C91">comTEC-Polykeratins</text>
<text x="744.5" y="584.1" font-size="28">15</text>
<text x="791.5" y="584.1" font-size="28" fill="#6CA9DC">comTEC-Ionocytes</text>
<rect x="1293.8" y="10" width="601.4" height="563.1" fill="#EBEBEB"/>
<path d="M1308.08 10V573.1M1418.73 10V573.1M1529.38 10V573.1M1640.03 10V573.1M1750.67 10V573.1M1861.33 10V573.1M1293.8 506.88H1895.2M1293.8 396.03H1895.2M1293.8 285.18H1895.2M1293.8 174.33H1895.2M1293.8 63.48H1895.2" stroke="#FDFDFD" stroke-width="1.3" fill="none"/>
<path d="M1363.4 10V573.1M1474.05 10V573.1M1584.7 10V573.1M1695.35 10V573.1M1806 10V573.1M1293.8 562.3H1895.2M1293.8 451.45H1895.2M1293.8 340.6H1895.2M1293.8 229.75H1895.2M1293.8 118.9H1895.2" stroke="#fff" stroke-width="1.6" fill="none"/>
<g transform="translate(1584.7 340.6) scale(0.49397 0.49487)" fill="none" stroke-linecap="round" stroke-width="4.85">
<g stroke="#9C9292"><use href="#k5a_0"/><use href="#k5a_1"/><use href="#k5a_2"/><use href="#k5a_3"/><use href="#k5a_4"/><use href="#k5a_5"/><use href="#k5a_6"/><use href="#k5a_7"/></g>
<g stroke="#9C9292"><use href="#k5b_0"/><use href="#k5b_1"/><use href="#k5b_2"/><use href="#k5b_3"/><use href="#k5b_4"/><use href="#k5b_5"/><use href="#k5b_6"/><use href="#k5b_7"/></g>
<g stroke="#9C9292"><use href="#k6a_0"/><use href="#k6a_1"/><use href="#k6a_2"/><use href="#k6a_3"/><use href="#k6a_4"/><use href="#k6a_5"/><use href="#k6a_6"/><use href="#k6a_7"/></g>
<g stroke="#9C9292"><use href="#k6b_0"/><use href="#k6b_1"/><use href="#k6b_2"/><use href="#k6b_3"/><use href="#k6b_4"/><use href="#k6b_5"/><use href="#k6b_6"/><use href="#k6b_7"/></g>
<g stroke="#9C9292"><use href="#k4_0"/><use href="#k4_1"/><use href="#k4_2"/><use href="#k4_3"/><use href="#k4_4"/><use href="#k4_5"/><use href="#k4_6"/><use href="#k4_7"/></g>
<g stroke="#E0262C"><use href="#k9a_0"/><use href="#k9a_1"/><use href="#k9a_2"/><use href="#k9a_3"/><use href="#k9a_4"/><use href="#k9a_5"/><use href="#k9a_6"/><use href="#k9a_7"/></g>
<g stroke="#E0262C"><use href="#k9b_0"/><use href="#k9b_1"/><use href="#k9b_2"/><use href="#k9b_3"/><use href="#k9b_4"/><use href="#k9b_5"/><use href="#k9b_6"/><use href="#k9b_7"/></g>
<g stroke="#E0262C"><use href="#k9x_0"/><use href="#k9x_1"/><use href="#k9x_2"/><use href="#k9x_3"/><use href="#k9x_4"/><use href="#k9x_5"/><use href="#k9x_6"/><use href="#k9x_7"/></g>
<g stroke="#E0262C"><use href="#k10_0"/><use href="#k10_1"/><use href="#k10_2"/><use href="#k10_3"/><use href="#k10_4"/><use href="#k10_5"/><use href="#k10_6"/><use href="#k10_7"/></g>
<g stroke="#E0262C"><use href="#k7c_0"/><use href="#k7c_1"/><use href="#k7c_2"/><use href="#k7c_3"/><use href="#k7c_4"/><use href="#k7c_5"/><use href="#k7c_6"/><use href="#k7c_7"/></g>
<g stroke="#E0262C"><use href="#k7a_0"/><use href="#k7a_1"/><use href="#k7a_2"/><use href="#k7a_3"/><use href="#k7a_4"/><use href="#k7a_5"/><use href="#k7a_6"/><use href="#k7a_7"/></g>
<g stroke="#E0262C"><use href="#k7b_0"/><use href="#k7b_1"/><use href="#k7b_2"/><use href="#k7b_3"/><use href="#k7b_4"/><use href="#k7b_5"/><use href="#k7b_6"/><use href="#k7b_7"/></g>
<g stroke="#E0262C"><use href="#k8_0"/><use href="#k8_1"/><use href="#k8_2"/><use href="#k8_3"/><use href="#k8_4"/><use href="#k8_5"/><use href="#k8_6"/><use href="#k8_7"/></g>
<g stroke="#C9723A"><use href="#k14a_0"/><use href="#k14a_1"/><use href="#k14a_2"/><use href="#k14a_3"/><use href="#k14a_4"/><use href="#k14a_5"/><use href="#k14a_6"/><use href="#k14a_7"/></g>
<g stroke="#C9723A"><use href="#k14b_0"/><use href="#k14b_1"/><use href="#k14b_2"/><use href="#k14b_3"/><use href="#k14b_4"/><use href="#k14b_5"/><use href="#k14b_6"/><use href="#k14b_7"/></g>
<g stroke="#C9723A"><use href="#k14n_0"/><use href="#k14n_1"/><use href="#k14n_2"/><use href="#k14n_3"/><use href="#k14n_4"/><use href="#k14n_5"/><use href="#k14n_6"/><use href="#k14n_7"/></g>
<g stroke="#C9723A"><use href="#k14c_0"/><use href="#k14c_1"/><use href="#k14c_2"/><use href="#k14c_3"/><use href="#k14c_4"/><use href="#k14c_5"/><use href="#k14c_6"/><use href="#k14c_7"/></g>
<g stroke="#C9723A"><use href="#k13_0"/><use href="#k13_1"/><use href="#k13_2"/><use href="#k13_3"/><use href="#k13_4"/><use href="#k13_5"/><use href="#k13_6"/><use href="#k13_7"/></g>
<g stroke="#C9723A"><use href="#k12_0"/><use href="#k12_1"/><use href="#k12_2"/><use href="#k12_3"/><use href="#k12_4"/><use href="#k12_5"/><use href="#k12_6"/><use href="#k12_7"/></g>
<g stroke="#C9723A"><use href="#k15_0"/><use href="#k15_1"/><use href="#k15_2"/><use href="#k15_3"/><use href="#k15_4"/><use href="#k15_5"/><use href="#k15_6"/><use href="#k15_7"/></g>
<g stroke="#0B8043"><use href="#k2_0"/><use href="#k2_1"/><use href="#k2_2"/><use href="#k2_3"/><use href="#k2_4"/><use href="#k2_5"/><use href="#k2_6"/><use href="#k2_7"/></g>
<g stroke="#0B8043"><use href="#k1_0"/><use href="#k1_1"/><use href="#k1_2"/><use href="#k1_3"/><use href="#k1_4"/><use href="#k1_5"/><use href="#k1_6"/><use href="#k1_7"/></g>
<g stroke="#E0262C"><use href="#k11_0"/><use href="#k11_1"/><use href="#k11_2"/><use href="#k11_3"/><use href="#k11_4"/><use href="#k11_5"/><use href="#k11_6"/><use href="#k11_7"/></g>
<g stroke="#0B8043"><use href="#k3_0"/><use href="#k3_1"/><use href="#k3_2"/><use href="#k3_3"/><use href="#k3_4"/><use href="#k3_5"/><use href="#k3_6"/><use href="#k3_7"/></g>
<g stroke="#0B8043"><use href="#k3x_0"/><use href="#k3x_1"/><use href="#k3x_2"/><use href="#k3x_4"/><use href="#k3x_5"/><use href="#k3x_6"/><use href="#k3x_7"/></g>
</g>
<rect x="1293.8" y="10" width="601.4" height="563.1" fill="none" stroke="#000" stroke-width="2.2"/>
<path d="M1363.4 574.2v5M1474.05 574.2v5M1584.7 574.2v5M1695.35 574.2v5M1806 574.2v5M1292.7 562.3h-5M1292.7 451.45h-5M1292.7 340.6h-5M1292.7 229.75h-5M1292.7 118.9h-5" stroke="#1a1a1a" stroke-width="1.6" fill="none"/>
<text x="1361.1" y="610.2" font-size="25" text-anchor="middle">–10</text>
<text x="1471.75" y="610.2" font-size="25" text-anchor="middle">–5</text>
<text x="1584.7" y="607.2" font-size="25" text-anchor="middle">0</text>
<text x="1695.35" y="607.2" font-size="25" text-anchor="middle">5</text>
<text x="1806" y="607.2" font-size="25" text-anchor="middle">10</text>
<text x="1277" y="571.18" font-size="25" text-anchor="end">–10</text>
<text x="1277" y="460.33" font-size="25" text-anchor="end">–5</text>
<text x="1277" y="349.48" font-size="25" text-anchor="end">0</text>
<text x="1277" y="238.62" font-size="25" text-anchor="end">5</text>
<text x="1277" y="127.78" font-size="25" text-anchor="end">10</text>
<text x="1583.8" y="645.3" font-size="25" text-anchor="middle">UMAP_1</text>
<text x="1212" y="325.8" font-size="25" text-anchor="middle" transform="rotate(-90 1212 325.8)">UMAP_2</text>
<text x="1191" y="42.7" font-size="41.3" font-weight="bold">b</text>
<rect x="1611" y="0" width="2.2" height="1.1" fill="#777"/>
<text x="1334.6" y="72.8" font-size="36" fill="#2DB34A" font-weight="bold">cTEC</text>
<text x="1334.6" y="108.9" font-size="36" fill="#E8403A" font-weight="bold">mTEC</text>
<text x="1334.6" y="145" font-size="36" fill="#8B5A35" font-weight="bold">comTEC</text>
<text x="1334.6" y="181.1" font-size="36" fill="#939598" font-weight="bold">Residuals</text>
<defs><linearGradient id="pg" x1="0" y1="0" x2="0" y2="1"><stop offset="0" stop-color="#3A3590"/><stop offset="0.08" stop-color="#3D348F"/><stop offset="0.17" stop-color="#4A3598"/><stop offset="0.3" stop-color="#6A4AA0"/><stop offset="0.5" stop-color="#9676B4"/><stop offset="0.65" stop-color="#B49CCC"/><stop offset="0.8" stop-color="#D4C6E2"/><stop offset="0.92" stop-color="#F0EAF5"/><stop offset="1" stop-color="#FFFFFF"/></linearGradient></defs>
<rect x="114.85" y="773.8" width="521.55" height="488.6" fill="#EBEBEB"/>
<path d="M208.55 773.8V1262.4M314.45 773.8V1262.4M420.35 773.8V1262.4M526.25 773.8V1262.4M632.15 773.8V1262.4M114.85 1219.07H636.4M114.85 1113.42H636.4M114.85 1007.77H636.4M114.85 902.12H636.4M114.85 796.47H636.4" stroke="#F7F7F7" stroke-width="1.0" fill="none"/>
<path d="M155.6 773.8V1262.4M261.5 773.8V1262.4M367.4 773.8V1262.4M473.3 773.8V1262.4M579.2 773.8V1262.4M114.85 1166.25H636.4M114.85 1060.6H636.4M114.85 954.95H636.4M114.85 849.3H636.4" stroke="#fff" stroke-width="1.6" fill="none"/>
<g transform="translate(367.4 1060.6) scale(0.47277 0.47165)" fill="none" stroke-linecap="round" stroke-width="5.5">
<use href="#k5a_0" stroke="#FFFFFF" stroke-width="5.5"/>
<use href="#k5a_1" stroke="#EDE6F4" stroke-width="5.5"/>
<use href="#k5a_2" stroke="#E3DAEE" stroke-width="5.5"/>
<use href="#k5a_3" stroke="#FFFFFF" stroke-width="5.5"/>
<use href="#k5a_4" stroke="#DACDE7" stroke-width="5.5"/>
<use href="#k5a_5" stroke="#EDE6F4" stroke-width="5.5"/>
<use href="#k5a_6" stroke="#C6B4DA" stroke-width="4.71"/>
<use href="#k5a_7" stroke="#F6F3F9" stroke-width="5.5"/>
<use href="#k5b_0" stroke="#EDE6F4" stroke-width="5.5"/>
<use href="#k5b_1" stroke="#8B6CB1" stroke-width="3.91"/>
<use href="#k5b_2" stroke="#6045A0" stroke-width="3.91"/>
<use href="#k5b_3" stroke="#FFFFFF" stroke-width="5.5"/>
<use href="#k5b_4" stroke="#4A3797" stroke-width="3.91"/>
<use href="#k5b_5" stroke="#C6B4DA" stroke-width="4.71"/>
<use href="#k5b_6" stroke="#7658A8" stroke-width="3.91"/>
<use href="#k5b_7" stroke="#9E82BE" stroke-width="3.91"/>
<use href="#k6a_0" stroke="#FFFFFF" stroke-width="5.5"/>
<use href="#k6a_1" stroke="#C6B4DA" stroke-width="4.71"/>
<use href="#k6a_2" stroke="#6045A0" stroke-width="3.91"/>
<use href="#k6a_3" stroke="#FFFFFF" stroke-width="5.5"/>
<use href="#k6a_4" stroke="#4A3797" stroke-width="3.91"/>
<use href="#k6a_5" stroke="#DACDE7" stroke-width="5.5"/>
<use href="#k6a_6" stroke="#7658A8" stroke-width="3.91"/>
<use href="#k6a_7" stroke="#FFFFFF" stroke-width="5.5"/>
<use href="#k6b_0" stroke="#FFFFFF" stroke-width="5.5"/>
<use href="#k6b_1" stroke="#FFFFFF" stroke-width="5.5"/>
<use href="#k6b_2" stroke="#FFFFFF" stroke-width="5.5"/>
<use href="#k6b_3" stroke="#EDE6F4" stroke-width="5.5"/>
<use href="#k6b_4" stroke="#FFFFFF" stroke-width="5.5"/>
<use href="#k6b_5" stroke="#E3DAEE" stroke-width="5.5"/>
<use href="#k6b_6" stroke="#FFFFFF" stroke-width="5.5"/>
<use href="#k6b_7" stroke="#F6F3F9" stroke-width="5.5"/>
<use href="#k4_0" stroke="#E3DAEE" stroke-width="5.5"/>
<use href="#k4_1" stroke="#E3DAEE" stroke-width="5.5"/>
<use href="#k4_2" stroke="#E3DAEE" stroke-width="5.5"/>
<use href="#k4_3" stroke="#E3DAEE" stroke-width="5.5"/>
<use href="#k4_4" stroke="#E3DAEE" stroke-width="5.5"/>
<use href="#k4_5" stroke="#E3DAEE" stroke-width="5.5"/>
<use href="#k4_6" stroke="#E3DAEE" stroke-width="5.5"/>
<use href="#k4_7" stroke="#E3DAEE" stroke-width="5.5"/>
<use href="#k9a_0" stroke="#FFFFFF" stroke-width="5.5"/>
<use href="#k9a_1" stroke="#FFFFFF" stroke-width="5.5"/>
<use href="#k9a_2" stroke="#FFFFFF" stroke-width="5.5"/>
<use href="#k9a_3" stroke="#FFFFFF" stroke-width="5.5"/>
<use href="#k9a_4" stroke="#FFFFFF" stroke-width="5.5"/>
<use href="#k9a_5" stroke="#FFFFFF" stroke-width="5.5"/>
<use href="#k9a_6" stroke="#FFFFFF" stroke-width="5.5"/>
<use href="#k9a_7" stroke="#E9E1F2" stroke-width="5.5"/>
<use href="#k9b_0" stroke="#FFFFFF" stroke-width="5.5"/>
<use href="#k9b_1" stroke="#FFFFFF" stroke-width="5.5"/>
<use href="#k9b_2" stroke="#FFFFFF" stroke-width="5.5"/>
<use href="#k9b_3" stroke="#FFFFFF" stroke-width="5.5"/>
<use href="#k9b_4" stroke="#FFFFFF" stroke-width="5.5"/>
<use href="#k9b_5" stroke="#FFFFFF" stroke-width="5.5"/>
<use href="#k9b_6" stroke="#FFFFFF" stroke-width="5.5"/>
<use href="#k9b_7" stroke="#F0EBF6" stroke-width="5.5"/>
<use href="#k9x_0" stroke="#6045A0" stroke-width="3.91"/>
<use href="#k9x_1" stroke="#C6B4DA" stroke-width="4.71"/>
<use href="#k9x_2" stroke="#4A3797" stroke-width="3.91"/>
<use href="#k9x_3" stroke="#8B6CB1" stroke-width="3.91"/>
<use href="#k9x_4" stroke="#DACDE7" stroke-width="5.5"/>
<use href="#k9x_5" stroke="#543C9B" stroke-width="3.91"/>
<use href="#k9x_6" stroke="#9E82BE" stroke-width="3.91"/>
<use href="#k9x_7" stroke="#7658A8" stroke-width="3.91"/>
<use href="#k10_0" stroke="#FFFFFF" stroke-width="5.5"/>
<use href="#k10_1" stroke="#FFFFFF" stroke-width="5.5"/>
<use href="#k10_2" stroke="#FFFFFF" stroke-width="5.5"/>
<use href="#k10_3" stroke="#FFFFFF" stroke-width="5.5"/>
<use href="#k10_4" stroke="#FFFFFF" stroke-width="5.5"/>
<use href="#k10_5" stroke="#FFFFFF" stroke-width="5.5"/>
<use href="#k10_6" stroke="#FFFFFF" stroke-width="5.5"/>
<use href="#k10_7" stroke="#F6F3F9" stroke-width="5.5"/>
<use href="#k7c_0" stroke="#FFFFFF" stroke-width="5.5"/>
<use href="#k7c_1" stroke="#FFFFFF" stroke-width="5.5"/>
<use href="#k7c_2" stroke="#FFFFFF" stroke-width="5.5"/>
<use href="#k7c_3" stroke="#FFFFFF" stroke-width="5.5"/>
<use href="#k7c_4" stroke="#FFFFFF" stroke-width="5.5"/>
<use href="#k7c_5" stroke="#FFFFFF" stroke-width="5.5"/>
<use href="#k7c_6" stroke="#FFFFFF" stroke-width="5.5"/>
<use href="#k7c_7" stroke="#F6F3F9" stroke-width="5.5"/>
<use href="#k7a_0" stroke="#FFFFFF" stroke-width="5.5"/>
<use href="#k7a_1" stroke="#FFFFFF" stroke-width="5.5"/>
<use href="#k7a_2" stroke="#FFFFFF" stroke-width="5.5"/>
<use href="#k7a_3" stroke="#FFFFFF" stroke-width="5.5"/>
<use href="#k7a_4" stroke="#FFFFFF" stroke-width="5.5"/>
<use href="#k7a_5" stroke="#FFFFFF" stroke-width="5.5"/>
<use href="#k7a_6" stroke="#FFFFFF" stroke-width="5.5"/>
<use href="#k7a_7" stroke="#F6F3F9" stroke-width="5.5"/>
<use href="#k7b_0" stroke="#FFFFFF" stroke-width="5.5"/>
<use href="#k7b_1" stroke="#FFFFFF" stroke-width="5.5"/>
<use href="#k7b_2" stroke="#FFFFFF" stroke-width="5.5"/>
<use href="#k7b_3" stroke="#FFFFFF" stroke-width="5.5"/>
<use href="#k7b_4" stroke="#FFFFFF" stroke-width="5.5"/>
<use href="#k7b_5" stroke="#FFFFFF" stroke-width="5.5"/>
<use href="#k7b_6" stroke="#FFFFFF" stroke-width="5.5"/>
<use href="#k7b_7" stroke="#F6F3F9" stroke-width="5.5"/>
<use href="#k8_0" stroke="#FFFFFF" stroke-width="5.5"/>
<use href="#k8_1" stroke="#FFFFFF" stroke-width="5.5"/>
<use href="#k8_2" stroke="#FFFFFF" stroke-width="5.5"/>
<use href="#k8_3" stroke="#FFFFFF" stroke-width="5.5"/>
<use href="#k8_4" stroke="#FFFFFF" stroke-width="5.5"/>
<use href="#k8_5" stroke="#FFFFFF" stroke-width="5.5"/>
<use href="#k8_6" stroke="#FFFFFF" stroke-width="5.5"/>
<use href="#k8_7" stroke="#F6F3F9" stroke-width="5.5"/>
<use href="#k14a_0" stroke="#FFFFFF" stroke-width="5.5"/>
<use href="#k14a_1" stroke="#FFFFFF" stroke-width="5.5"/>
<use href="#k14a_2" stroke="#FFFFFF" stroke-width="5.5"/>
<use href="#k14a_3" stroke="#EDE6F4" stroke-width="5.5"/>
<use href="#k14a_4" stroke="#FFFFFF" stroke-width="5.5"/>
<use href="#k14a_5" stroke="#C6B4DA" stroke-width="4.71"/>
<use href="#k14a_6" stroke="#FFFFFF" stroke-width="5.5"/>
<use href="#k14a_7" stroke="#9E82BE" stroke-width="3.91"/>
<use href="#k14b_0" stroke="#FFFFFF" stroke-width="5.5"/>
<use href="#k14b_1" stroke="#FFFFFF" stroke-width="5.5"/>
<use href="#k14b_2" stroke="#EDE6F4" stroke-width="5.5"/>
<use href="#k14b_3" stroke="#8B6CB1" stroke-width="3.91"/>
<use href="#k14b_4" stroke="#FFFFFF" stroke-width="5.5"/>
<use href="#k14b_5" stroke="#7658A8" stroke-width="3.91"/>
<use href="#k14b_6" stroke="#FFFFFF" stroke-width="5.5"/>
<use href="#k14b_7" stroke="#6045A0" stroke-width="3.91"/>
<use href="#k14n_0" stroke="#FFFFFF" stroke-width="5.5"/>
<use href="#k14n_1" stroke="#FFFFFF" stroke-width="5.5"/>
<use href="#k14n_2" stroke="#9E82BE" stroke-width="3.91"/>
<use href="#k14n_3" stroke="#FFFFFF" stroke-width="5.5"/>
<use href="#k14n_4" stroke="#FFFFFF" stroke-width="5.5"/>
<use href="#k14n_5" stroke="#7658A8" stroke-width="3.91"/>
<use href="#k14n_6" stroke="#FFFFFF" stroke-width="5.5"/>
<use href="#k14n_7" stroke="#EDE6F4" stroke-width="5.5"/>
<use href="#k14c_0" stroke="#7658A8" stroke-width="3.91"/>
<use href="#k14c_1" stroke="#6045A0" stroke-width="3.91"/>
<use href="#k14c_2" stroke="#6C4EA4" stroke-width="3.91"/>
<use href="#k14c_3" stroke="#7658A8" stroke-width="3.91"/>
<use href="#k14c_4" stroke="#6045A0" stroke-width="3.91"/>
<use href="#k14c_5" stroke="#8B6CB1" stroke-width="3.91"/>
<use href="#k14c_6" stroke="#6C4EA4" stroke-width="3.91"/>
<use href="#k14c_7" stroke="#6045A0" stroke-width="3.91"/>
<use href="#k13_0" stroke="#FFFFFF" stroke-width="5.5"/>
<use href="#k13_1" stroke="#FFFFFF" stroke-width="5.5"/>
<use href="#k13_2" stroke="#9E82BE" stroke-width="3.91"/>
<use href="#k13_3" stroke="#FFFFFF" stroke-width="5.5"/>
<use href="#k13_4" stroke="#EDE6F4" stroke-width="5.5"/>
<use href="#k13_5" stroke="#FFFFFF" stroke-width="5.5"/>
<use href="#k13_6" stroke="#FFFFFF" stroke-width="5.5"/>
<use href="#k13_7" stroke="#8B6CB1" stroke-width="3.91"/>
<use href="#k12_0" stroke="#FFFFFF" stroke-width="5.5"/>
<use href="#k12_1" stroke="#FFFFFF" stroke-width="5.5"/>
<use href="#k12_2" stroke="#FFFFFF" stroke-width="5.5"/>
<use href="#k12_3" stroke="#FFFFFF" stroke-width="5.5"/>
<use href="#k12_4" stroke="#FFFFFF" stroke-width="5.5"/>
<use href="#k12_5" stroke="#FFFFFF" stroke-width="5.5"/>
<use href="#k12_6" stroke="#EDE6F4" stroke-width="5.5"/>
<use href="#k12_7" stroke="#9E82BE" stroke-width="3.91"/>
<use href="#k15_0" stroke="#FFFFFF" stroke-width="5.5"/>
<use href="#k15_1" stroke="#FFFFFF" stroke-width="5.5"/>
<use href="#k15_2" stroke="#FFFFFF" stroke-width="5.5"/>
<use href="#k15_3" stroke="#FFFFFF" stroke-width="5.5"/>
<use href="#k15_4" stroke="#FFFFFF" stroke-width="5.5"/>
<use href="#k15_5" stroke="#FFFFFF" stroke-width="5.5"/>
<use href="#k15_6" stroke="#EDE6F4" stroke-width="5.5"/>
<use href="#k15_7" stroke="#8B6CB1" stroke-width="3.91"/>
<use href="#k2_0" stroke="#6045A0" stroke-width="3.91"/>
<use href="#k2_1" stroke="#4A3797" stroke-width="3.91"/>
<use href="#k2_2" stroke="#6C4EA4" stroke-width="3.91"/>
<use href="#k2_3" stroke="#4A3797" stroke-width="3.91"/>
<use href="#k2_4" stroke="#6045A0" stroke-width="3.91"/>
<use href="#k2_5" stroke="#543C9B" stroke-width="3.91"/>
<use href="#k2_6" stroke="#7658A8" stroke-width="3.91"/>
<use href="#k2_7" stroke="#543C9B" stroke-width="3.91"/>
<use href="#k1_0" stroke="#8B6CB1" stroke-width="3.91"/>
<use href="#k1_1" stroke="#6045A0" stroke-width="3.91"/>
<use href="#k1_2" stroke="#9477B8" stroke-width="3.91"/>
<use href="#k1_3" stroke="#543C9B" stroke-width="3.91"/>
<use href="#k1_4" stroke="#7658A8" stroke-width="3.91"/>
<use href="#k1_5" stroke="#6045A0" stroke-width="3.91"/>
<use href="#k1_6" stroke="#9E82BE" stroke-width="3.91"/>
<use href="#k1_7" stroke="#6C4EA4" stroke-width="3.91"/>
<use href="#k11_0" stroke="#FFFFFF" stroke-width="5.5"/>
<use href="#k11_1" stroke="#FFFFFF" stroke-width="5.5"/>
<use href="#k11_2" stroke="#FFFFFF" stroke-width="5.5"/>
<use href="#k11_3" stroke="#8B6CB1" stroke-width="3.91"/>
<use href="#k11_4" stroke="#FFFFFF" stroke-width="5.5"/>
<use href="#k11_5" stroke="#FFFFFF" stroke-width="5.5"/>
<use href="#k11_6" stroke="#7658A8" stroke-width="3.91"/>
<use href="#k11_7" stroke="#FFFFFF" stroke-width="5.5"/>
<use href="#k3_0" stroke="#4A3797" stroke-width="3.91"/>
<use href="#k3_1" stroke="#543C9B" stroke-width="3.91"/>
<use href="#k3_2" stroke="#4A3797" stroke-width="3.91"/>
<use href="#k3_3" stroke="#6045A0" stroke-width="3.91"/>
<use href="#k3_4" stroke="#543C9B" stroke-width="3.91"/>
<use href="#k3_5" stroke="#4A3797" stroke-width="3.91"/>
<use href="#k3_6" stroke="#6045A0" stroke-width="3.91"/>
<use href="#k3_7" stroke="#7658A8" stroke-width="3.91"/>
<use href="#k3x_0" stroke="#FFFFFF" stroke-width="5.5"/>
<use href="#k3x_1" stroke="#FFFFFF" stroke-width="5.5"/>
<use href="#k3x_2" stroke="#FFFFFF" stroke-width="5.5"/>
<use href="#k3x_4" stroke="#FFFFFF" stroke-width="5.5"/>
<use href="#k3x_5" stroke="#FFFFFF" stroke-width="5.5"/>
<use href="#k3x_6" stroke="#FFFFFF" stroke-width="5.5"/>
<use href="#k3x_7" stroke="#FFFFFF" stroke-width="5.5"/>
</g>
<rect x="114.85" y="773.8" width="521.55" height="488.6" fill="none" stroke="#000" stroke-width="1.8"/>
<path d="M155.6 1263.3v4M261.5 1263.3v4M367.4 1263.3v4M473.3 1263.3v4M579.2 1263.3v4M113.95 1166.25h-4M113.95 1060.6h-4M113.95 954.95h-4M113.95 849.3h-4" stroke="#1a1a1a" stroke-width="1.3" fill="none"/>
<text x="156.8" y="1289.5" font-size="20.3" text-anchor="middle">–10</text>
<text x="262.7" y="1289.5" font-size="20.3" text-anchor="middle">–5</text>
<text x="369.4" y="1289.5" font-size="20.3" text-anchor="middle">0</text>
<text x="475.3" y="1289.5" font-size="20.3" text-anchor="middle">5</text>
<text x="581.2" y="1289.5" font-size="20.3" text-anchor="middle">10</text>
<text x="103" y="1173.46" font-size="20.3" text-anchor="end">–5</text>
<text x="103" y="1067.81" font-size="20.3" text-anchor="end">0</text>
<text x="103" y="962.16" font-size="20.3" text-anchor="end">5</text>
<text x="103" y="856.51" font-size="20.3" text-anchor="end">10</text>
<rect x="763" y="776.4" width="519.2" height="486.6" fill="#EBEBEB"/>
<path d="M856.42 776.4V1263M962.07 776.4V1263M1067.72 776.4V1263M1173.38 776.4V1263M1279.03 776.4V1263M763 1219.88H1282.2M763 1114.62H1282.2M763 1009.38H1282.2M763 904.12H1282.2M763 798.88H1282.2" stroke="#F7F7F7" stroke-width="1.0" fill="none"/>
<path d="M803.6 776.4V1263M909.25 776.4V1263M1014.9 776.4V1263M1120.55 776.4V1263M1226.2 776.4V1263M763 1167.25H1282.2M763 1062H1282.2M763 956.75H1282.2M763 851.5H1282.2" stroke="#fff" stroke-width="1.6" fill="none"/>
<g transform="translate(1014.9 1062) scale(0.47165 0.46987)" fill="none" stroke-linecap="round" stroke-width="5.51">
<use href="#k5a_0" stroke="#FFFFFF" stroke-width="5.51"/>
<use href="#k5a_1" stroke="#FFFFFF" stroke-width="5.51"/>
<use href="#k5a_2" stroke="#FFFFFF" stroke-width="5.51"/>
<use href="#k5a_3" stroke="#FFFFFF" stroke-width="5.51"/>
<use href="#k5a_4" stroke="#FFFFFF" stroke-width="5.51"/>
<use href="#k5a_5" stroke="#F6F3F9" stroke-width="5.51"/>
<use href="#k5a_6" stroke="#FFFFFF" stroke-width="5.51"/>
<use href="#k5a_7" stroke="#C6B4DA" stroke-width="4.72"/>
<use href="#k5b_0" stroke="#FFFFFF" stroke-width="5.51"/>
<use href="#k5b_1" stroke="#FFFFFF" stroke-width="5.51"/>
<use href="#k5b_2" stroke="#FFFFFF" stroke-width="5.51"/>
<use href="#k5b_3" stroke="#FFFFFF" stroke-width="5.51"/>
<use href="#k5b_4" stroke="#FFFFFF" stroke-width="5.51"/>
<use href="#k5b_5" stroke="#F6F3F9" stroke-width="5.51"/>
<use href="#k5b_6" stroke="#FFFFFF" stroke-width="5.51"/>
<use href="#k5b_7" stroke="#B39CCC" stroke-width="4.72"/>
<use href="#k6a_0" stroke="#FFFFFF" stroke-width="5.51"/>
<use href="#k6a_1" stroke="#FFFFFF" stroke-width="5.51"/>
<use href="#k6a_2" stroke="#FFFFFF" stroke-width="5.51"/>
<use href="#k6a_3" stroke="#FFFFFF" stroke-width="5.51"/>
<use href="#k6a_4" stroke="#FFFFFF" stroke-width="5.51"/>
<use href="#k6a_5" stroke="#FFFFFF" stroke-width="5.51"/>
<use href="#k6a_6" stroke="#FFFFFF" stroke-width="5.51"/>
<use href="#k6a_7" stroke="#F6F3F9" stroke-width="5.51"/>
<use href="#k6b_0" stroke="#FFFFFF" stroke-width="5.51"/>
<use href="#k6b_1" stroke="#FFFFFF" stroke-width="5.51"/>
<use href="#k6b_2" stroke="#FFFFFF" stroke-width="5.51"/>
<use href="#k6b_3" stroke="#FFFFFF" stroke-width="5.51"/>
<use href="#k6b_4" stroke="#FFFFFF" stroke-width="5.51"/>
<use href="#k6b_5" stroke="#FFFFFF" stroke-width="5.51"/>
<use href="#k6b_6" stroke="#FFFFFF" stroke-width="5.51"/>
<use href="#k6b_7" stroke="#F6F3F9" stroke-width="5.51"/>
<use href="#k4_0" stroke="#C6B4DA" stroke-width="4.72"/>
<use href="#k4_1" stroke="#DACDE7" stroke-width="5.51"/>
<use href="#k4_2" stroke="#C6B4DA" stroke-width="4.72"/>
<use href="#k4_3" stroke="#DACDE7" stroke-width="5.51"/>
<use href="#k4_4" stroke="#C6B4DA" stroke-width="4.72"/>
<use href="#k4_5" stroke="#DACDE7" stroke-width="5.51"/>
<use href="#k4_6" stroke="#C6B4DA" stroke-width="4.72"/>
<use href="#k4_7" stroke="#DACDE7" stroke-width="5.51"/>
<use href="#k9a_0" stroke="#7658A8" stroke-width="3.92"/>
<use href="#k9a_1" stroke="#8161AC" stroke-width="3.92"/>
<use href="#k9a_2" stroke="#6045A0" stroke-width="3.92"/>
<use href="#k9a_3" stroke="#9E82BE" stroke-width="3.92"/>
<use href="#k9a_4" stroke="#6C4EA4" stroke-width="3.92"/>
<use href="#k9a_5" stroke="#543C9B" stroke-width="3.92"/>
<use href="#k9a_6" stroke="#A88FC5" stroke-width="3.92"/>
<use href="#k9a_7" stroke="#8B6CB1" stroke-width="3.92"/>
<use href="#k9b_0" stroke="#9E82BE" stroke-width="3.92"/>
<use href="#k9b_1" stroke="#8161AC" stroke-width="3.92"/>
<use href="#k9b_2" stroke="#B39CCC" stroke-width="4.72"/>
<use href="#k9b_3" stroke="#9477B8" stroke-width="3.92"/>
<use href="#k9b_4" stroke="#7658A8" stroke-width="3.92"/>
<use href="#k9b_5" stroke="#A88FC5" stroke-width="3.92"/>
<use href="#k9b_6" stroke="#9477B8" stroke-width="3.92"/>
<use href="#k9b_7" stroke="#BDA8D3" stroke-width="4.72"/>
<use href="#k9x_0" stroke="#4A3797" stroke-width="3.92"/>
<use href="#k9x_1" stroke="#6045A0" stroke-width="3.92"/>
<use href="#k9x_2" stroke="#423494" stroke-width="3.92"/>
<use href="#k9x_3" stroke="#7658A8" stroke-width="3.92"/>
<use href="#k9x_4" stroke="#543C9B" stroke-width="3.92"/>
<use href="#k9x_5" stroke="#4A3797" stroke-width="3.92"/>
<use href="#k9x_6" stroke="#6045A0" stroke-width="3.92"/>
<use href="#k9x_7" stroke="#6C4EA4" stroke-width="3.92"/>
<use href="#k10_0" stroke="#B39CCC" stroke-width="4.72"/>
<use href="#k10_1" stroke="#9477B8" stroke-width="3.92"/>
<use href="#k10_2" stroke="#BDA8D3" stroke-width="4.72"/>
<use href="#k10_3" stroke="#A88FC5" stroke-width="3.92"/>
<use href="#k10_4" stroke="#C6B4DA" stroke-width="4.72"/>
<use href="#k10_5" stroke="#9477B8" stroke-width="3.92"/>
<use href="#k10_6" stroke="#A88FC5" stroke-width="3.92"/>
<use href="#k10_7" stroke="#8B6CB1" stroke-width="3.92"/>
<use href="#k7c_0" stroke="#C6B4DA" stroke-width="4.72"/>
<use href="#k7c_1" stroke="#9E82BE" stroke-width="3.92"/>
<use href="#k7c_2" stroke="#B39CCC" stroke-width="4.72"/>
<use href="#k7c_3" stroke="#8B6CB1" stroke-width="3.92"/>
<use href="#k7c_4" stroke="#DACDE7" stroke-width="5.51"/>
<use href="#k7c_5" stroke="#9E82BE" stroke-width="3.92"/>
<use href="#k7c_6" stroke="#7658A8" stroke-width="3.92"/>
<use href="#k7c_7" stroke="#BDA8D3" stroke-width="4.72"/>
<use href="#k7a_0" stroke="#6045A0" stroke-width="3.92"/>
<use href="#k7a_1" stroke="#7658A8" stroke-width="3.92"/>
<use href="#k7a_2" stroke="#4A3797" stroke-width="3.92"/>
<use href="#k7a_3" stroke="#9477B8" stroke-width="3.92"/>
<use href="#k7a_4" stroke="#4A3797" stroke-width="3.92"/>
<use href="#k7a_5" stroke="#6C4EA4" stroke-width="3.92"/>
<use href="#k7a_6" stroke="#9E82BE" stroke-width="3.92"/>
<use href="#k7a_7" stroke="#543C9B" stroke-width="3.92"/>
<use href="#k7b_0" stroke="#8B6CB1" stroke-width="3.92"/>
<use href="#k7b_1" stroke="#7658A8" stroke-width="3.92"/>
<use href="#k7b_2" stroke="#9E82BE" stroke-width="3.92"/>
<use href="#k7b_3" stroke="#C6B4DA" stroke-width="4.72"/>
<use href="#k7b_4" stroke="#7658A8" stroke-width="3.92"/>
<use href="#k7b_5" stroke="#8B6CB1" stroke-width="3.92"/>
<use href="#k7b_6" stroke="#B39CCC" stroke-width="4.72"/>
<use href="#k7b_7" stroke="#8B6CB1" stroke-width="3.92"/>
<use href="#k8_0" stroke="#9E82BE" stroke-width="3.92"/>
<use href="#k8_1" stroke="#B39CCC" stroke-width="4.72"/>
<use href="#k8_2" stroke="#8B6CB1" stroke-width="3.92"/>
<use href="#k8_3" stroke="#C6B4DA" stroke-width="4.72"/>
<use href="#k8_4" stroke="#9E82BE" stroke-width="3.92"/>
<use href="#k8_5" stroke="#B39CCC" stroke-width="4.72"/>
<use href="#k8_6" stroke="#9477B8" stroke-width="3.92"/>
<use href="#k8_7" stroke="#A88FC5" stroke-width="3.92"/>
<use href="#k14a_0" stroke="#FFFFFF" stroke-width="5.51"/>
<use href="#k14a_1" stroke="#EDE6F4" stroke-width="5.51"/>
<use href="#k14a_2" stroke="#FFFFFF" stroke-width="5.51"/>
<use href="#k14a_3" stroke="#DACDE7" stroke-width="5.51"/>
<use href="#k14a_4" stroke="#FFFFFF" stroke-width="5.51"/>
<use href="#k14a_5" stroke="#E3DAEE" stroke-width="5.51"/>
<use href="#k14a_6" stroke="#F6F3F9" stroke-width="5.51"/>
<use href="#k14a_7" stroke="#EDE6F4" stroke-width="5.51"/>
<use href="#k14b_0" stroke="#C6B4DA" stroke-width="4.72"/>
<use href="#k14b_1" stroke="#9E82BE" stroke-width="3.92"/>
<use href="#k14b_2" stroke="#DACDE7" stroke-width="5.51"/>
<use href="#k14b_3" stroke="#8B6CB1" stroke-width="3.92"/>
<use href="#k14b_4" stroke="#EDE6F4" stroke-width="5.51"/>
<use href="#k14b_5" stroke="#B39CCC" stroke-width="4.72"/>
<use href="#k14b_6" stroke="#9E82BE" stroke-width="3.92"/>
<use href="#k14b_7" stroke="#C6B4DA" stroke-width="4.72"/>
<use href="#k14n_0" stroke="#C6B4DA" stroke-width="4.72"/>
<use href="#k14n_1" stroke="#9E82BE" stroke-width="3.92"/>
<use href="#k14n_2" stroke="#DACDE7" stroke-width="5.51"/>
<use href="#k14n_3" stroke="#8B6CB1" stroke-width="3.92"/>
<use href="#k14n_4" stroke="#EDE6F4" stroke-width="5.51"/>
<use href="#k14n_5" stroke="#B39CCC" stroke-width="4.72"/>
<use href="#k14n_6" stroke="#9E82BE" stroke-width="3.92"/>
<use href="#k14n_7" stroke="#C6B4DA" stroke-width="4.72"/>
<use href="#k14c_0" stroke="#FFFFFF" stroke-width="5.51"/>
<use href="#k14c_1" stroke="#F6F3F9" stroke-width="5.51"/>
<use href="#k14c_2" stroke="#FFFFFF" stroke-width="5.51"/>
<use href="#k14c_3" stroke="#EDE6F4" stroke-width="5.51"/>
<use href="#k14c_4" stroke="#FFFFFF" stroke-width="5.51"/>
<use href="#k14c_5" stroke="#FFFFFF" stroke-width="5.51"/>
<use href="#k14c_6" stroke="#F6F3F9" stroke-width="5.51"/>
<use href="#k14c_7" stroke="#EDE6F4" stroke-width="5.51"/>
<use href="#k13_0" stroke="#EDE6F4" stroke-width="5.51"/>
<use href="#k13_1" stroke="#C6B4DA" stroke-width="4.72"/>
<use href="#k13_2" stroke="#DACDE7" stroke-width="5.51"/>
<use href="#k13_3" stroke="#B39CCC" stroke-width="4.72"/>
<use href="#k13_4" stroke="#EDE6F4" stroke-width="5.51"/>
<use href="#k13_5" stroke="#C6B4DA" stroke-width="4.72"/>
<use href="#k13_6" stroke="#DACDE7" stroke-width="5.51"/>
<use href="#k13_7" stroke="#9E82BE" stroke-width="3.92"/>
<use href="#k12_0" stroke="#FFFFFF" stroke-width="5.51"/>
<use href="#k12_1" stroke="#FFFFFF" stroke-width="5.51"/>
<use href="#k12_2" stroke="#FFFFFF" stroke-width="5.51"/>
<use href="#k12_3" stroke="#FFFFFF" stroke-width="5.51"/>
<use href="#k12_4" stroke="#FFFFFF" stroke-width="5.51"/>
<use href="#k12_5" stroke="#FFFFFF" stroke-width="5.51"/>
<use href="#k12_6" stroke="#FFFFFF" stroke-width="5.51"/>
<use href="#k12_7" stroke="#FFFFFF" stroke-width="5.51"/>
<use href="#k15_0" stroke="#4A3797" stroke-width="3.92"/>
<use href="#k15_1" stroke="#7658A8" stroke-width="3.92"/>
<use href="#k15_2" stroke="#423494" stroke-width="3.92"/>
<use href="#k15_3" stroke="#8B6CB1" stroke-width="3.92"/>
<use href="#k15_4" stroke="#543C9B" stroke-width="3.92"/>
<use href="#k15_5" stroke="#9E82BE" stroke-width="3.92"/>
<use href="#k15_6" stroke="#4A3797" stroke-width="3.92"/>
<use href="#k15_7" stroke="#6C4EA4" stroke-width="3.92"/>
<use href="#k2_0" stroke="#FFFFFF" stroke-width="5.51"/>
<use href="#k2_1" stroke="#FFFFFF" stroke-width="5.51"/>
<use href="#k2_2" stroke="#FFFFFF" stroke-width="5.51"/>
<use href="#k2_3" stroke="#F9F8FC" stroke-width="5.51"/>
<use href="#k2_4" stroke="#FFFFFF" stroke-width="5.51"/>
<use href="#k2_5" stroke="#FFFFFF" stroke-width="5.51"/>
<use href="#k2_6" stroke="#F6F3F9" stroke-width="5.51"/>
<use href="#k2_7" stroke="#FFFFFF" stroke-width="5.51"/>
<use href="#k1_0" stroke="#FFFFFF" stroke-width="5.51"/>
<use href="#k1_1" stroke="#FFFFFF" stroke-width="5.51"/>
<use href="#k1_2" stroke="#FFFFFF" stroke-width="5.51"/>
<use href="#k1_3" stroke="#F9F8FC" stroke-width="5.51"/>
<use href="#k1_4" stroke="#FFFFFF" stroke-width="5.51"/>
<use href="#k1_5" stroke="#FFFFFF" stroke-width="5.51"/>
<use href="#k1_6" stroke="#F6F3F9" stroke-width="5.51"/>
<use href="#k1_7" stroke="#FFFFFF" stroke-width="5.51"/>
<use href="#k11_0" stroke="#7658A8" stroke-width="3.92"/>
<use href="#k11_1" stroke="#6045A0" stroke-width="3.92"/>
<use href="#k11_2" stroke="#C6B4DA" stroke-width="4.72"/>
<use href="#k11_3" stroke="#8B6CB1" stroke-width="3.92"/>
<use href="#k11_4" stroke="#4A3797" stroke-width="3.92"/>
<use href="#k11_5" stroke="#B39CCC" stroke-width="4.72"/>
<use href="#k11_6" stroke="#7658A8" stroke-width="3.92"/>
<use href="#k11_7" stroke="#9E82BE" stroke-width="3.92"/>
<use href="#k3_0" stroke="#FFFFFF" stroke-width="5.51"/>
<use href="#k3_1" stroke="#FFFFFF" stroke-width="5.51"/>
<use href="#k3_2" stroke="#FFFFFF" stroke-width="5.51"/>
<use href="#k3_3" stroke="#FFFFFF" stroke-width="5.51"/>
<use href="#k3_4" stroke="#EDE6F4" stroke-width="5.51"/>
<use href="#k3_5" stroke="#FFFFFF" stroke-width="5.51"/>
<use href="#k3_6" stroke="#FFFFFF" stroke-width="5.51"/>
<use href="#k3_7" stroke="#9E82BE" stroke-width="3.92"/>
<use href="#k3x_0" stroke="#FFFFFF" stroke-width="5.51"/>
<use href="#k3x_1" stroke="#FFFFFF" stroke-width="5.51"/>
<use href="#k3x_2" stroke="#FFFFFF" stroke-width="5.51"/>
<use href="#k3x_4" stroke="#FFFFFF" stroke-width="5.51"/>
<use href="#k3x_5" stroke="#FFFFFF" stroke-width="5.51"/>
<use href="#k3x_6" stroke="#FFFFFF" stroke-width="5.51"/>
<use href="#k3x_7" stroke="#FFFFFF" stroke-width="5.51"/>
</g>
<rect x="763" y="776.4" width="519.2" height="486.6" fill="none" stroke="#000" stroke-width="1.8"/>
<path d="M803.6 1263.9v4M909.25 1263.9v4M1014.9 1263.9v4M1120.55 1263.9v4M1226.2 1263.9v4M762.1 1167.25h-4M762.1 1062h-4M762.1 956.75h-4M762.1 851.5h-4" stroke="#1a1a1a" stroke-width="1.3" fill="none"/>
<text x="801.2" y="1291.6" font-size="20.3" text-anchor="middle">–10</text>
<text x="906.85" y="1291.6" font-size="20.3" text-anchor="middle">–5</text>
<text x="1014.5" y="1291.6" font-size="20.3" text-anchor="middle">0</text>
<text x="1120.15" y="1291.6" font-size="20.3" text-anchor="middle">5</text>
<text x="1225.8" y="1291.6" font-size="20.3" text-anchor="middle">10</text>
<text x="752.3" y="1174.46" font-size="20.3" text-anchor="end">–5</text>
<text x="752.3" y="1069.21" font-size="20.3" text-anchor="end">0</text>
<text x="752.3" y="963.96" font-size="20.3" text-anchor="end">5</text>
<text x="752.3" y="858.71" font-size="20.3" text-anchor="end">10</text>
<rect x="1420" y="778" width="503.4" height="471.4" fill="#EBEBEB"/>
<path d="M1509.95 778V1249.4M1612.25 778V1249.4M1714.55 778V1249.4M1816.85 778V1249.4M1919.15 778V1249.4M1420 1208.62H1923.4M1420 1106.27H1923.4M1420 1003.92H1923.4M1420 901.57H1923.4M1420 799.22H1923.4" stroke="#FFFFFF" stroke-width="1.2" fill="none"/>
<path d="M1458.8 778V1249.4M1561.1 778V1249.4M1663.4 778V1249.4M1765.7 778V1249.4M1868 778V1249.4M1420 1157.45H1923.4M1420 1055.1H1923.4M1420 952.75H1923.4M1420 850.4H1923.4" stroke="#fff" stroke-width="1.4" fill="none"/>
<g transform="translate(1663.4 1055.1) scale(0.45670 0.45692)" fill="none" stroke-linecap="round" stroke-width="6.13">
<use href="#k5a_0" stroke="#F6F3F9" stroke-width="6.13"/>
<use href="#k5a_1" stroke="#E3DAEE" stroke-width="6.13"/>
<use href="#k5a_2" stroke="#EDE6F4" stroke-width="6.13"/>
<use href="#k5a_3" stroke="#D0C0E0" stroke-width="5.36"/>
<use href="#k5a_4" stroke="#FFFFFF" stroke-width="6.13"/>
<use href="#k5a_5" stroke="#DACDE7" stroke-width="6.13"/>
<use href="#k5a_6" stroke="#C6B4DA" stroke-width="5.36"/>
<use href="#k5a_7" stroke="#EDE6F4" stroke-width="6.13"/>
<use href="#k5b_0" stroke="#F6F3F9" stroke-width="6.13"/>
<use href="#k5b_1" stroke="#E3DAEE" stroke-width="6.13"/>
<use href="#k5b_2" stroke="#EDE6F4" stroke-width="6.13"/>
<use href="#k5b_3" stroke="#D0C0E0" stroke-width="5.36"/>
<use href="#k5b_4" stroke="#FFFFFF" stroke-width="6.13"/>
<use href="#k5b_5" stroke="#DACDE7" stroke-width="6.13"/>
<use href="#k5b_6" stroke="#B39CCC" stroke-width="5.36"/>
<use href="#k5b_7" stroke="#EDE6F4" stroke-width="6.13"/>
<use href="#k6a_0" stroke="#FFFFFF" stroke-width="6.13"/>
<use href="#k6a_1" stroke="#F6F3F9" stroke-width="6.13"/>
<use href="#k6a_2" stroke="#FFFFFF" stroke-width="6.13"/>
<use href="#k6a_3" stroke="#EDE6F4" stroke-width="6.13"/>
<use href="#k6a_4" stroke="#FFFFFF" stroke-width="6.13"/>
<use href="#k6a_5" stroke="#F6F3F9" stroke-width="6.13"/>
<use href="#k6a_6" stroke="#E3DAEE" stroke-width="6.13"/>
<use href="#k6a_7" stroke="#FFFFFF" stroke-width="6.13"/>
<use href="#k6b_0" stroke="#FFFFFF" stroke-width="6.13"/>
<use href="#k6b_1" stroke="#F6F3F9" stroke-width="6.13"/>
<use href="#k6b_2" stroke="#FFFFFF" stroke-width="6.13"/>
<use href="#k6b_3" stroke="#EDE6F4" stroke-width="6.13"/>
<use href="#k6b_4" stroke="#FFFFFF" stroke-width="6.13"/>
<use href="#k6b_5" stroke="#F6F3F9" stroke-width="6.13"/>
<use href="#k6b_6" stroke="#E3DAEE" stroke-width="6.13"/>
<use href="#k6b_7" stroke="#FFFFFF" stroke-width="6.13"/>
<use href="#k4_0" stroke="#F6F3F9" stroke-width="6.13"/>
<use href="#k4_1" stroke="#EDE6F4" stroke-width="6.13"/>
<use href="#k4_2" stroke="#F6F3F9" stroke-width="6.13"/>
<use href="#k4_3" stroke="#EDE6F4" stroke-width="6.13"/>
<use href="#k4_4" stroke="#F6F3F9" stroke-width="6.13"/>
<use href="#k4_5" stroke="#EDE6F4" stroke-width="6.13"/>
<use href="#k4_6" stroke="#F6F3F9" stroke-width="6.13"/>
<use href="#k4_7" stroke="#EDE6F4" stroke-width="6.13"/>
<use href="#k9a_0" stroke="#FFFFFF" stroke-width="6.13"/>
<use href="#k9a_1" stroke="#FFFFFF" stroke-width="6.13"/>
<use href="#k9a_2" stroke="#FFFFFF" stroke-width="6.13"/>
<use href="#k9a_3" stroke="#F0EBF6" stroke-width="6.13"/>
<use href="#k9a_4" stroke="#FFFFFF" stroke-width="6.13"/>
<use href="#k9a_5" stroke="#F6F3F9" stroke-width="6.13"/>
<use href="#k9a_6" stroke="#FFFFFF" stroke-width="6.13"/>
<use href="#k9a_7" stroke="#E3DAEE" stroke-width="6.13"/>
<use href="#k9b_0" stroke="#FFFFFF" stroke-width="6.13"/>
<use href="#k9b_1" stroke="#FFFFFF" stroke-width="6.13"/>
<use href="#k9b_2" stroke="#FFFFFF" stroke-width="6.13"/>
<use href="#k9b_3" stroke="#F6F3F9" stroke-width="6.13"/>
<use href="#k9b_4" stroke="#FFFFFF" stroke-width="6.13"/>
<use href="#k9b_5" stroke="#FFFFFF" stroke-width="6.13"/>
<use href="#k9b_6" stroke="#FBFAFD" stroke-width="6.13"/>
<use href="#k9b_7" stroke="#F0EBF6" stroke-width="6.13"/>
<use href="#k9x_0" stroke="#EDE6F4" stroke-width="6.13"/>
<use href="#k9x_1" stroke="#B39CCC" stroke-width="5.36"/>
<use href="#k9x_2" stroke="#DACDE7" stroke-width="6.13"/>
<use href="#k9x_3" stroke="#8B6CB1" stroke-width="4.6"/>
<use href="#k9x_4" stroke="#EDE6F4" stroke-width="6.13"/>
<use href="#k9x_5" stroke="#C6B4DA" stroke-width="5.36"/>
<use href="#k9x_6" stroke="#9E82BE" stroke-width="4.6"/>
<use href="#k9x_7" stroke="#DACDE7" stroke-width="6.13"/>
<use href="#k10_0" stroke="#FFFFFF" stroke-width="6.13"/>
<use href="#k10_1" stroke="#FFFFFF" stroke-width="6.13"/>
<use href="#k10_2" stroke="#FFFFFF" stroke-width="6.13"/>
<use href="#k10_3" stroke="#FFFFFF" stroke-width="6.13"/>
<use href="#k10_4" stroke="#FFFFFF" stroke-width="6.13"/>
<use href="#k10_5" stroke="#FBFAFD" stroke-width="6.13"/>
<use href="#k10_6" stroke="#FFFFFF" stroke-width="6.13"/>
<use href="#k10_7" stroke="#F6F3F9" stroke-width="6.13"/>
<use href="#k7c_0" stroke="#FFFFFF" stroke-width="6.13"/>
<use href="#k7c_1" stroke="#EDE6F4" stroke-width="6.13"/>
<use href="#k7c_2" stroke="#F6F3F9" stroke-width="6.13"/>
<use href="#k7c_3" stroke="#E3DAEE" stroke-width="6.13"/>
<use href="#k7c_4" stroke="#FFFFFF" stroke-width="6.13"/>
<use href="#k7c_5" stroke="#F6F3F9" stroke-width="6.13"/>
<use href="#k7c_6" stroke="#DACDE7" stroke-width="6.13"/>
<use href="#k7c_7" stroke="#F6F3F9" stroke-width="6.13"/>
<use href="#k7a_0" stroke="#F6F3F9" stroke-width="6.13"/>
<use href="#k7a_1" stroke="#DACDE7" stroke-width="6.13"/>
<use href="#k7a_2" stroke="#EDE6F4" stroke-width="6.13"/>
<use href="#k7a_3" stroke="#C6B4DA" stroke-width="5.36"/>
<use href="#k7a_4" stroke="#FFFFFF" stroke-width="6.13"/>
<use href="#k7a_5" stroke="#E3DAEE" stroke-width="6.13"/>
<use href="#k7a_6" stroke="#BDA8D3" stroke-width="5.36"/>
<use href="#k7a_7" stroke="#EDE6F4" stroke-width="6.13"/>
<use href="#k7b_0" stroke="#FFFFFF" stroke-width="6.13"/>
<use href="#k7b_1" stroke="#EDE6F4" stroke-width="6.13"/>
<use href="#k7b_2" stroke="#EDE6F4" stroke-width="6.13"/>
<use href="#k7b_3" stroke="#DACDE7" stroke-width="6.13"/>
<use href="#k7b_4" stroke="#F6F3F9" stroke-width="6.13"/>
<use href="#k7b_5" stroke="#EDE6F4" stroke-width="6.13"/>
<use href="#k7b_6" stroke="#C6B4DA" stroke-width="5.36"/>
<use href="#k7b_7" stroke="#EDE6F4" stroke-width="6.13"/>
<use href="#k8_0" stroke="#FFFFFF" stroke-width="6.13"/>
<use href="#k8_1" stroke="#F6F3F9" stroke-width="6.13"/>
<use href="#k8_2" stroke="#FFFFFF" stroke-width="6.13"/>
<use href="#k8_3" stroke="#EDE6F4" stroke-width="6.13"/>
<use href="#k8_4" stroke="#FFFFFF" stroke-width="6.13"/>
<use href="#k8_5" stroke="#F6F3F9" stroke-width="6.13"/>
<use href="#k8_6" stroke="#EDE6F4" stroke-width="6.13"/>
<use href="#k8_7" stroke="#FFFFFF" stroke-width="6.13"/>
<use href="#k14a_0" stroke="#9477B8" stroke-width="4.6"/>
<use href="#k14a_1" stroke="#6045A0" stroke-width="4.6"/>
<use href="#k14a_2" stroke="#8B6CB1" stroke-width="4.6"/>
<use href="#k14a_3" stroke="#4A3797" stroke-width="4.6"/>
<use href="#k14a_4" stroke="#7658A8" stroke-width="4.6"/>
<use href="#k14a_5" stroke="#9E82BE" stroke-width="4.6"/>
<use href="#k14a_6" stroke="#543C9B" stroke-width="4.6"/>
<use href="#k14a_7" stroke="#8161AC" stroke-width="4.6"/>
<use href="#k14b_0" stroke="#9E82BE" stroke-width="4.6"/>
<use href="#k14b_1" stroke="#6C4EA4" stroke-width="4.6"/>
<use href="#k14b_2" stroke="#A88FC5" stroke-width="4.6"/>
<use href="#k14b_3" stroke="#6045A0" stroke-width="4.6"/>
<use href="#k14b_4" stroke="#8161AC" stroke-width="4.6"/>
<use href="#k14b_5" stroke="#BDA8D3" stroke-width="5.36"/>
<use href="#k14b_6" stroke="#7658A8" stroke-width="4.6"/>
<use href="#k14b_7" stroke="#9477B8" stroke-width="4.6"/>
<use href="#k14n_0" stroke="#6045A0" stroke-width="4.6"/>
<use href="#k14n_1" stroke="#543C9B" stroke-width="4.6"/>
<use href="#k14n_2" stroke="#7658A8" stroke-width="4.6"/>
<use href="#k14n_3" stroke="#4A3797" stroke-width="4.6"/>
<use href="#k14n_4" stroke="#6045A0" stroke-width="4.6"/>
<use href="#k14n_5" stroke="#8B6CB1" stroke-width="4.6"/>
<use href="#k14n_6" stroke="#543C9B" stroke-width="4.6"/>
<use href="#k14n_7" stroke="#6C4EA4" stroke-width="4.6"/>
<use href="#k14c_0" stroke="#DACDE7" stroke-width="6.13"/>
<use href="#k14c_1" stroke="#C6B4DA" stroke-width="5.36"/>
<use href="#k14c_2" stroke="#EDE6F4" stroke-width="6.13"/>
<use href="#k14c_3" stroke="#B39CCC" stroke-width="5.36"/>
<use href="#k14c_4" stroke="#E3DAEE" stroke-width="6.13"/>
<use href="#k14c_5" stroke="#D0C0E0" stroke-width="5.36"/>
<use href="#k14c_6" stroke="#C6B4DA" stroke-width="5.36"/>
<use href="#k14c_7" stroke="#DACDE7" stroke-width="6.13"/>
<use href="#k13_0" stroke="#C6B4DA" stroke-width="5.36"/>
<use href="#k13_1" stroke="#9E82BE" stroke-width="4.6"/>
<use href="#k13_2" stroke="#B39CCC" stroke-width="5.36"/>
<use href="#k13_3" stroke="#7658A8" stroke-width="4.6"/>
<use href="#k13_4" stroke="#DACDE7" stroke-width="6.13"/>
<use href="#k13_5" stroke="#8B6CB1" stroke-width="4.6"/>
<use href="#k13_6" stroke="#9E82BE" stroke-width="4.6"/>
<use href="#k13_7" stroke="#B39CCC" stroke-width="5.36"/>
<use href="#k12_0" stroke="#8B6CB1" stroke-width="4.6"/>
<use href="#k12_1" stroke="#7658A8" stroke-width="4.6"/>
<use href="#k12_2" stroke="#6C4EA4" stroke-width="4.6"/>
<use href="#k12_3" stroke="#6045A0" stroke-width="4.6"/>
<use href="#k12_4" stroke="#8161AC" stroke-width="4.6"/>
<use href="#k12_5" stroke="#7658A8" stroke-width="4.6"/>
<use href="#k12_6" stroke="#543C9B" stroke-width="4.6"/>
<use href="#k12_7" stroke="#8B6CB1" stroke-width="4.6"/>
<use href="#k15_0" stroke="#EDE6F4" stroke-width="6.13"/>
<use href="#k15_1" stroke="#E3DAEE" stroke-width="6.13"/>
<use href="#k15_2" stroke="#EDE6F4" stroke-width="6.13"/>
<use href="#k15_3" stroke="#DACDE7" stroke-width="6.13"/>
<use href="#k15_4" stroke="#D0C0E0" stroke-width="5.36"/>
<use href="#k15_5" stroke="#E3DAEE" stroke-width="6.13"/>
<use href="#k15_6" stroke="#B39CCC" stroke-width="5.36"/>
<use href="#k15_7" stroke="#EDE6F4" stroke-width="6.13"/>
<use href="#k2_0" stroke="#DACDE7" stroke-width="6.13"/>
<use href="#k2_1" stroke="#C6B4DA" stroke-width="5.36"/>
<use href="#k2_2" stroke="#E3DAEE" stroke-width="6.13"/>
<use href="#k2_3" stroke="#B39CCC" stroke-width="5.36"/>
<use href="#k2_4" stroke="#EDE6F4" stroke-width="6.13"/>
<use href="#k2_5" stroke="#FFFFFF" stroke-width="6.13"/>
<use href="#k2_6" stroke="#F6F3F9" stroke-width="6.13"/>
<use href="#k2_7" stroke="#FFFFFF" stroke-width="6.13"/>
<use href="#k1_0" stroke="#DACDE7" stroke-width="6.13"/>
<use href="#k1_1" stroke="#C6B4DA" stroke-width="5.36"/>
<use href="#k1_2" stroke="#E3DAEE" stroke-width="6.13"/>
<use href="#k1_3" stroke="#B7A1CF" stroke-width="5.36"/>
<use href="#k1_4" stroke="#EDE6F4" stroke-width="6.13"/>
<use href="#k1_5" stroke="#FFFFFF" stroke-width="6.13"/>
<use href="#k1_6" stroke="#F6F3F9" stroke-width="6.13"/>
<use href="#k1_7" stroke="#FFFFFF" stroke-width="6.13"/>
<use href="#k11_0" stroke="#FFFFFF" stroke-width="6.13"/>
<use href="#k11_1" stroke="#EDE6F4" stroke-width="6.13"/>
<use href="#k11_2" stroke="#F6F3F9" stroke-width="6.13"/>
<use href="#k11_3" stroke="#E3DAEE" stroke-width="6.13"/>
<use href="#k11_4" stroke="#FFFFFF" stroke-width="6.13"/>
<use href="#k11_5" stroke="#EDE6F4" stroke-width="6.13"/>
<use href="#k11_6" stroke="#C6B4DA" stroke-width="5.36"/>
<use href="#k11_7" stroke="#F6F3F9" stroke-width="6.13"/>
<use href="#k3_0" stroke="#F6F3F9" stroke-width="6.13"/>
<use href="#k3_1" stroke="#E3DAEE" stroke-width="6.13"/>
<use href="#k3_2" stroke="#EDE6F4" stroke-width="6.13"/>
<use href="#k3_3" stroke="#DACDE7" stroke-width="6.13"/>
<use href="#k3_4" stroke="#F6F3F9" stroke-width="6.13"/>
<use href="#k3_5" stroke="#E3DAEE" stroke-width="6.13"/>
<use href="#k3_6" stroke="#D0C0E0" stroke-width="5.36"/>
<use href="#k3_7" stroke="#EDE6F4" stroke-width="6.13"/>
<use href="#k3x_0" stroke="#F6F3F9" stroke-width="6.13"/>
<use href="#k3x_1" stroke="#EDE6F4" stroke-width="6.13"/>
<use href="#k3x_2" stroke="#F6F3F9" stroke-width="6.13"/>
<use href="#k3x_4" stroke="#EDE6F4" stroke-width="6.13"/>
<use href="#k3x_5" stroke="#F6F3F9" stroke-width="6.13"/>
<use href="#k3x_6" stroke="#EDE6F4" stroke-width="6.13"/>
<use href="#k3x_7" stroke="#F6F3F9" stroke-width="6.13"/>
</g>
<rect x="1420" y="778" width="503.4" height="471.4" fill="none" stroke="#000" stroke-width="1.6"/>
<path d="M1458.8 1250.2v4M1561.1 1250.2v4M1663.4 1250.2v4M1765.7 1250.2v4M1868 1250.2v4M1419.2 1157.45h-4M1419.2 1055.1h-4M1419.2 952.75h-4M1419.2 850.4h-4" stroke="#1a1a1a" stroke-width="1.3" fill="none"/>
<text x="1457.5" y="1278.2" font-size="20.3" text-anchor="middle">–10</text>
<text x="1559.8" y="1278.2" font-size="20.3" text-anchor="middle">–5</text>
<text x="1663.2" y="1278.2" font-size="20.3" text-anchor="middle">0</text>
<text x="1765.5" y="1278.2" font-size="20.3" text-anchor="middle">5</text>
<text x="1867.8" y="1278.2" font-size="20.3" text-anchor="middle">10</text>
<text x="1407.4" y="1164.66" font-size="20.3" text-anchor="end">–5</text>
<text x="1407.4" y="1062.31" font-size="20.3" text-anchor="end">0</text>
<text x="1407.4" y="959.96" font-size="20.3" text-anchor="end">5</text>
<text x="1407.4" y="857.61" font-size="20.3" text-anchor="end">10</text>
<text x="-1.3" y="741" font-size="41.3" font-weight="bold">c</text>
<text x="354.2" y="753.5" font-size="33.8" fill="#0BA04E" text-anchor="middle">cTEC</text>
<text x="1029.5" y="753.5" font-size="33.3" fill="#E0262C" text-anchor="middle">mTEC</text>
<text x="1665.6" y="754.4" font-size="33.3" fill="#7A4A1E" text-anchor="middle">comTEC</text>
<text x="369.1" y="1321.7" font-size="20.3" text-anchor="middle">UMAP_1</text>
<text x="61.5" y="1014.6" font-size="20.3" text-anchor="middle" transform="rotate(-90 61.5 1014.6)">UMAP_2</text>
<text x="539.2" y="801.3" font-size="19.7" font-style="italic">CD274</text>
<text x="539.2" y="825.4" font-size="19.7" font-style="italic">LY75</text>
<text x="539.2" y="849.5" font-size="19.7" font-style="italic">CCL25</text>
<text x="539.2" y="873.6" font-size="19.7" font-style="italic">PSMB11</text>
<text x="539.2" y="897.7" font-size="19.7" font-style="italic">CTSV</text>
<text x="539.2" y="921.8" font-size="19.7" font-style="italic">PRSS16</text>
<text x="539.2" y="945.9" font-size="19.7" font-style="italic">TBATA</text>
<text x="539.2" y="970" font-size="19.7" font-style="italic">TP53AIP1</text>
<text x="1191" y="802.5" font-size="22" font-style="italic">CD24</text>
<text x="1191" y="829.1" font-size="22" font-style="italic">HES6</text>
<text x="1191" y="855.7" font-size="22" font-style="italic">EPCAM</text>
<text x="1191" y="882.3" font-size="22" font-style="italic">CDH1</text>
<text x="1191" y="908.9" font-size="22" font-style="italic">CLDN3</text>
<text x="1842.5" y="802.3" font-size="22" font-style="italic">KRT14</text>
<text x="1842.5" y="828.9" font-size="22" font-style="italic">KRT15</text>
<text x="1842.5" y="855.5" font-size="22" font-style="italic">TP63</text>
<text x="1842.5" y="882.1" font-size="22" font-style="italic">ZEB1</text>
<text x="1842.5" y="908.7" font-size="22" font-style="italic">FN1</text>
<text x="1842.5" y="935.3" font-size="22" font-style="italic">MKi67</text>
<text x="1842.5" y="961.9" font-size="22" font-style="italic">THY1</text>
<rect x="657.8" y="973.2" width="22.3" height="106.8" fill="url(#pg)"/>
<text x="657.7" y="963.2" font-size="14.2">mAUC</text>
<text x="687.6" y="982.02" font-size="12">0.8</text>
<text x="687.6" y="1007.32" font-size="12">0.6</text>
<text x="687.6" y="1033.02" font-size="12">0.4</text>
<text x="687.6" y="1058.72" font-size="12">0.2</text>
<text x="687.6" y="1084.02" font-size="12">0.8</text>
<path d="M657.8 977.7h4.46M680.1 977.7h-4.46M657.8 1003h4.46M680.1 1003h-4.46M657.8 1028.7h4.46M680.1 1028.7h-4.46M657.8 1054.4h4.46M680.1 1054.4h-4.46M657.8 1079.7h4.46M680.1 1079.7h-4.46" stroke="#fff" stroke-width="1" fill="none" opacity="0.75"/>
<rect x="1304" y="975.3" width="22.2" height="108.2" fill="url(#pg)"/>
<text x="1303.5" y="967.2" font-size="14.2">mAUC</text>
<text x="1332.9" y="986.02" font-size="12">0.8</text>
<text x="1332.9" y="1011.72" font-size="12">0.6</text>
<text x="1332.9" y="1037.02" font-size="12">0.4</text>
<text x="1332.9" y="1062.72" font-size="12">0.2</text>
<text x="1332.9" y="1088.42" font-size="12">0.8</text>
<path d="M1304 981.7h4.44M1326.2 981.7h-4.44M1304 1007.4h4.44M1326.2 1007.4h-4.44M1304 1032.7h4.44M1326.2 1032.7h-4.44M1304 1058.4h4.44M1326.2 1058.4h-4.44M1304 1084.1h4.44M1326.2 1084.1h-4.44" stroke="#fff" stroke-width="1" fill="none" opacity="0.75"/>
<rect x="1949.6" y="959.6" width="26.2" height="131.4" fill="url(#pg)"/>
<text x="1952.6" y="949.5" font-size="14.2">mAUC</text>
<text x="1984.8" y="1005.82" font-size="12">0.2</text>
<text x="1984.8" y="1051.52" font-size="12">0.1</text>
<text x="1984.8" y="1097.22" font-size="12">0.0</text>
<path d="M1949.6 1001.5h5.24M1975.8 1001.5h-5.24M1949.6 1047.2h5.24M1975.8 1047.2h-5.24M1949.6 1092.9h5.24M1975.8 1092.9h-5.24" stroke="#fff" stroke-width="1" fill="none" opacity="0.75"/>
<text x="-1.9" y="1403.5" font-size="41.3" font-weight="bold">d</text>
<text x="322.3" y="1415.2" font-size="33.42">Expression of single-cell cluster signatures by TEC expanded in vitro</text>
<g shape-rendering="crispEdges">
<rect x="257.4" y="1507.5" width="1192.6" height="706.3" fill="#FCF5BC"/>
<rect x="257.4" y="1507.5" width="1192.9" height="14.71" fill="#C64538"/>
<rect x="257.4" y="1521.91" width="1192.9" height="14.71" fill="#C64538"/>
<rect x="257.4" y="1536.33" width="1192.9" height="14.71" fill="#C64538"/>
<rect x="257.4" y="1550.74" width="1192.9" height="14.71" fill="#C64538"/>
<rect x="257.4" y="1565.16" width="149.38" height="14.71" fill="#CA503F"/>
<rect x="406.47" y="1565.16" width="149.38" height="14.71" fill="#C94C3C"/>
<rect x="555.55" y="1565.16" width="447.52" height="14.71" fill="#C64538"/>
<rect x="1002.77" y="1565.16" width="149.38" height="14.71" fill="#CA4E3E"/>
<rect x="1151.85" y="1565.16" width="149.38" height="14.71" fill="#C64538"/>
<rect x="1300.92" y="1565.16" width="149.38" height="14.71" fill="#E59A71"/>
<rect x="257.4" y="1579.57" width="149.38" height="14.71" fill="#C94C3C"/>
<rect x="406.47" y="1579.57" width="447.52" height="14.71" fill="#CA503F"/>
<rect x="853.7" y="1579.57" width="149.38" height="14.71" fill="#D36850"/>
<rect x="1002.77" y="1579.57" width="149.38" height="14.71" fill="#CF5C46"/>
<rect x="1151.85" y="1579.57" width="149.38" height="14.71" fill="#D46A51"/>
<rect x="1300.92" y="1579.57" width="149.38" height="14.71" fill="#C44035"/>
<rect x="257.4" y="1593.99" width="447.52" height="14.71" fill="#CF5C46"/>
<rect x="704.62" y="1593.99" width="149.38" height="14.71" fill="#CA503F"/>
<rect x="853.7" y="1593.99" width="149.38" height="14.71" fill="#D06049"/>
<rect x="1002.77" y="1593.99" width="149.38" height="14.71" fill="#D87459"/>
<rect x="1151.85" y="1593.99" width="149.38" height="14.71" fill="#D46A51"/>
<rect x="1300.92" y="1593.99" width="149.38" height="14.71" fill="#D36850"/>
<rect x="257.4" y="1608.4" width="149.38" height="14.71" fill="#C44035"/>
<rect x="406.47" y="1608.4" width="149.38" height="14.71" fill="#CD5743"/>
<rect x="555.55" y="1608.4" width="298.45" height="14.71" fill="#D06049"/>
<rect x="853.7" y="1608.4" width="149.38" height="14.71" fill="#D87459"/>
<rect x="1002.77" y="1608.4" width="149.38" height="14.71" fill="#D67056"/>
<rect x="1151.85" y="1608.4" width="149.38" height="14.71" fill="#DE8563"/>
<rect x="1300.92" y="1608.4" width="149.38" height="14.71" fill="#D87459"/>
<rect x="257.4" y="1622.81" width="149.38" height="14.71" fill="#CA503F"/>
<rect x="406.47" y="1622.81" width="298.45" height="14.71" fill="#D67056"/>
<rect x="704.62" y="1622.81" width="149.38" height="14.71" fill="#CD5743"/>
<rect x="853.7" y="1622.81" width="149.38" height="14.71" fill="#D87459"/>
<rect x="1002.77" y="1622.81" width="149.38" height="14.71" fill="#D2664E"/>
<rect x="1151.85" y="1622.81" width="149.38" height="14.71" fill="#E59A71"/>
<rect x="1300.92" y="1622.81" width="149.38" height="14.71" fill="#D9795B"/>
<rect x="257.4" y="1637.23" width="149.38" height="14.71" fill="#CF5C46"/>
<rect x="406.47" y="1637.23" width="447.52" height="14.71" fill="#C44035"/>
<rect x="853.7" y="1637.23" width="149.38" height="14.71" fill="#C64538"/>
<rect x="1002.77" y="1637.23" width="149.38" height="14.71" fill="#C84A3B"/>
<rect x="1151.85" y="1637.23" width="149.38" height="14.71" fill="#CA503F"/>
<rect x="1300.92" y="1637.23" width="149.38" height="14.71" fill="#FCF7BF"/>
<rect x="257.4" y="1651.64" width="149.38" height="14.71" fill="#E4966E"/>
<rect x="406.47" y="1651.64" width="149.38" height="14.71" fill="#C44035"/>
<rect x="555.55" y="1651.64" width="149.38" height="14.71" fill="#C94C3C"/>
<rect x="704.62" y="1651.64" width="149.38" height="14.71" fill="#CD5743"/>
<rect x="853.7" y="1651.64" width="149.38" height="14.71" fill="#D2664E"/>
<rect x="1002.77" y="1651.64" width="149.38" height="14.71" fill="#D36850"/>
<rect x="1151.85" y="1651.64" width="149.38" height="14.71" fill="#C84A3B"/>
<rect x="1300.92" y="1651.64" width="149.38" height="14.71" fill="#FCF7BF"/>
<rect x="257.4" y="1666.06" width="298.45" height="14.71" fill="#D56C53"/>
<rect x="555.55" y="1666.06" width="149.38" height="14.71" fill="#D46A51"/>
<rect x="704.62" y="1666.06" width="149.38" height="14.71" fill="#E08A66"/>
<rect x="853.7" y="1666.06" width="149.38" height="14.71" fill="#E4966E"/>
<rect x="1002.77" y="1666.06" width="149.38" height="14.71" fill="#DE8563"/>
<rect x="1151.85" y="1666.06" width="149.38" height="14.71" fill="#E9A67A"/>
<rect x="1300.92" y="1666.06" width="149.38" height="14.71" fill="#D56C53"/>
<rect x="257.4" y="1680.47" width="149.38" height="14.71" fill="#DA7B5D"/>
<rect x="406.47" y="1680.47" width="149.38" height="14.71" fill="#DE8563"/>
<rect x="555.55" y="1680.47" width="149.38" height="14.71" fill="#D87459"/>
<rect x="704.62" y="1680.47" width="149.38" height="14.71" fill="#DC8161"/>
<rect x="853.7" y="1680.47" width="447.52" height="14.71" fill="#DE8563"/>
<rect x="1300.92" y="1680.47" width="149.38" height="14.71" fill="#D87459"/>
<rect x="257.4" y="1694.89" width="149.38" height="14.71" fill="#D8765A"/>
<rect x="406.47" y="1694.89" width="149.38" height="14.71" fill="#E08C67"/>
<rect x="555.55" y="1694.89" width="149.38" height="14.71" fill="#E59A71"/>
<rect x="704.62" y="1694.89" width="149.38" height="14.71" fill="#E3946D"/>
<rect x="853.7" y="1694.89" width="149.38" height="14.71" fill="#E08A66"/>
<rect x="1002.77" y="1694.89" width="149.38" height="14.71" fill="#D87459"/>
<rect x="1151.85" y="1694.89" width="149.38" height="14.71" fill="#DC8161"/>
<rect x="1300.92" y="1694.89" width="149.38" height="14.71" fill="#D36850"/>
<rect x="257.4" y="1709.3" width="149.38" height="14.71" fill="#E9A479"/>
<rect x="406.47" y="1709.3" width="149.38" height="14.71" fill="#D67056"/>
<rect x="555.55" y="1709.3" width="149.38" height="14.71" fill="#DE8563"/>
<rect x="704.62" y="1709.3" width="149.38" height="14.71" fill="#E9A479"/>
<rect x="853.7" y="1709.3" width="149.38" height="14.71" fill="#E3926B"/>
<rect x="1002.77" y="1709.3" width="149.38" height="14.71" fill="#E2906A"/>
<rect x="1151.85" y="1709.3" width="149.38" height="14.71" fill="#EBAA7D"/>
<rect x="1300.92" y="1709.3" width="149.38" height="14.71" fill="#E4966E"/>
<rect x="257.4" y="1723.71" width="149.38" height="14.71" fill="#ECAE80"/>
<rect x="406.47" y="1723.71" width="149.38" height="14.71" fill="#DE8563"/>
<rect x="555.55" y="1723.71" width="149.38" height="14.71" fill="#E4966E"/>
<rect x="704.62" y="1723.71" width="149.38" height="14.71" fill="#E59A71"/>
<rect x="853.7" y="1723.71" width="149.38" height="14.71" fill="#DC8161"/>
<rect x="1002.77" y="1723.71" width="149.38" height="14.71" fill="#D9795B"/>
<rect x="1151.85" y="1723.71" width="149.38" height="14.71" fill="#EBAA7D"/>
<rect x="1300.92" y="1723.71" width="149.38" height="14.71" fill="#EDB183"/>
<rect x="257.4" y="1738.13" width="149.38" height="14.71" fill="#E3946D"/>
<rect x="406.47" y="1738.13" width="149.38" height="14.71" fill="#E59A71"/>
<rect x="555.55" y="1738.13" width="149.38" height="14.71" fill="#E4966E"/>
<rect x="704.62" y="1738.13" width="149.38" height="14.71" fill="#E59A71"/>
<rect x="853.7" y="1738.13" width="149.38" height="14.71" fill="#E3926B"/>
<rect x="1002.77" y="1738.13" width="149.38" height="14.71" fill="#E4966E"/>
<rect x="1151.85" y="1738.13" width="149.38" height="14.71" fill="#E2906A"/>
<rect x="1300.92" y="1738.13" width="149.38" height="14.71" fill="#E3926B"/>
<rect x="257.4" y="1752.54" width="149.38" height="14.71" fill="#D9795B"/>
<rect x="406.47" y="1752.54" width="149.38" height="14.71" fill="#E3926B"/>
<rect x="555.55" y="1752.54" width="149.38" height="14.71" fill="#E59A71"/>
<rect x="704.62" y="1752.54" width="149.38" height="14.71" fill="#E08A66"/>
<rect x="853.7" y="1752.54" width="149.38" height="14.71" fill="#ECAE80"/>
<rect x="1002.77" y="1752.54" width="149.38" height="14.71" fill="#E79E74"/>
<rect x="1151.85" y="1752.54" width="149.38" height="14.71" fill="#EAA87C"/>
<rect x="1300.92" y="1752.54" width="149.38" height="14.71" fill="#E3926B"/>
<rect x="257.4" y="1766.96" width="149.38" height="14.71" fill="#DE8563"/>
<rect x="406.47" y="1766.96" width="149.38" height="14.71" fill="#E4966E"/>
<rect x="555.55" y="1766.96" width="298.45" height="14.71" fill="#E79E74"/>
<rect x="853.7" y="1766.96" width="149.38" height="14.71" fill="#ECAE80"/>
<rect x="1002.77" y="1766.96" width="149.38" height="14.71" fill="#F6D09A"/>
<rect x="1151.85" y="1766.96" width="149.38" height="14.71" fill="#E08A66"/>
<rect x="1300.92" y="1766.96" width="149.38" height="14.71" fill="#E18E69"/>
<rect x="257.4" y="1781.37" width="149.38" height="14.71" fill="#E9A67A"/>
<rect x="406.47" y="1781.37" width="298.45" height="14.71" fill="#E4966E"/>
<rect x="704.62" y="1781.37" width="149.38" height="14.71" fill="#EAA87C"/>
<rect x="853.7" y="1781.37" width="149.38" height="14.71" fill="#E9A67A"/>
<rect x="1002.77" y="1781.37" width="149.38" height="14.71" fill="#E3926B"/>
<rect x="1151.85" y="1781.37" width="149.38" height="14.71" fill="#F0BC8A"/>
<rect x="1300.92" y="1781.37" width="149.38" height="14.71" fill="#F1BF8D"/>
<rect x="257.4" y="1795.79" width="149.38" height="14.71" fill="#ECAE80"/>
<rect x="406.47" y="1795.79" width="298.45" height="14.71" fill="#E4966E"/>
<rect x="704.62" y="1795.79" width="298.45" height="14.71" fill="#ECAE80"/>
<rect x="1002.77" y="1795.79" width="149.38" height="14.71" fill="#EBAA7D"/>
<rect x="1151.85" y="1795.79" width="149.38" height="14.71" fill="#F5CD97"/>
<rect x="1300.92" y="1795.79" width="149.38" height="14.71" fill="#EEB585"/>
<rect x="257.4" y="1810.2" width="149.38" height="14.71" fill="#E9A479"/>
<rect x="406.47" y="1810.2" width="149.38" height="14.71" fill="#EBAA7D"/>
<rect x="555.55" y="1810.2" width="149.38" height="14.71" fill="#EEB585"/>
<rect x="704.62" y="1810.2" width="298.45" height="14.71" fill="#ECAE80"/>
<rect x="1002.77" y="1810.2" width="149.38" height="14.71" fill="#EBAA7D"/>
<rect x="1151.85" y="1810.2" width="149.38" height="14.71" fill="#EFB888"/>
<rect x="1300.92" y="1810.2" width="149.38" height="14.71" fill="#F6D09A"/>
<rect x="257.4" y="1824.61" width="149.38" height="14.71" fill="#E59A71"/>
<rect x="406.47" y="1824.61" width="149.38" height="14.71" fill="#EBAA7D"/>
<rect x="555.55" y="1824.61" width="149.38" height="14.71" fill="#EAA87C"/>
<rect x="704.62" y="1824.61" width="149.38" height="14.71" fill="#EDB183"/>
<rect x="853.7" y="1824.61" width="149.38" height="14.71" fill="#F1BF8D"/>
<rect x="1002.77" y="1824.61" width="149.38" height="14.71" fill="#EEB585"/>
<rect x="1151.85" y="1824.61" width="149.38" height="14.71" fill="#F7D69F"/>
<rect x="1300.92" y="1824.61" width="149.38" height="14.71" fill="#E3926B"/>
<rect x="257.4" y="1839.03" width="149.38" height="14.71" fill="#EEB585"/>
<rect x="406.47" y="1839.03" width="149.38" height="14.71" fill="#F7D39C"/>
<rect x="555.55" y="1839.03" width="298.45" height="14.71" fill="#F1BF8D"/>
<rect x="853.7" y="1839.03" width="149.38" height="14.71" fill="#F5CD97"/>
<rect x="1002.77" y="1839.03" width="149.38" height="14.71" fill="#F7D7A0"/>
<rect x="1151.85" y="1839.03" width="149.38" height="14.71" fill="#F6D09A"/>
<rect x="1300.92" y="1839.03" width="149.38" height="14.71" fill="#F4C995"/>
<rect x="257.4" y="1853.44" width="149.38" height="14.71" fill="#F3C692"/>
<rect x="406.47" y="1853.44" width="149.38" height="14.71" fill="#F0BC8A"/>
<rect x="555.55" y="1853.44" width="149.38" height="14.71" fill="#F1BF8D"/>
<rect x="704.62" y="1853.44" width="298.45" height="14.71" fill="#F5CD97"/>
<rect x="1002.77" y="1853.44" width="149.38" height="14.71" fill="#F7D69F"/>
<rect x="1151.85" y="1853.44" width="149.38" height="14.71" fill="#FAE5AB"/>
<rect x="1300.92" y="1853.44" width="149.38" height="14.71" fill="#FAE9B0"/>
<rect x="257.4" y="1867.86" width="298.45" height="14.71" fill="#F6D09A"/>
<rect x="555.55" y="1867.86" width="149.38" height="14.71" fill="#F9DFA6"/>
<rect x="704.62" y="1867.86" width="149.38" height="14.71" fill="#FAE6AC"/>
<rect x="853.7" y="1867.86" width="149.38" height="14.71" fill="#FAE5AB"/>
<rect x="1002.77" y="1867.86" width="149.38" height="14.71" fill="#F8DCA4"/>
<rect x="1300.92" y="1867.86" width="149.38" height="14.71" fill="#FAE9B0"/>
<rect x="257.4" y="1882.27" width="149.38" height="14.71" fill="#FCF4BB"/>
<rect x="406.47" y="1882.27" width="149.38" height="14.71" fill="#F3C692"/>
<rect x="555.55" y="1882.27" width="149.38" height="14.71" fill="#F8DCA4"/>
<rect x="704.62" y="1882.27" width="149.38" height="14.71" fill="#FCF4BB"/>
<rect x="853.7" y="1882.27" width="149.38" height="14.71" fill="#FAE5AB"/>
<rect x="1002.77" y="1882.27" width="149.38" height="14.71" fill="#F8D9A1"/>
<rect x="1300.92" y="1882.27" width="149.38" height="14.71" fill="#FBF2BA"/>
<rect x="406.47" y="1896.69" width="149.38" height="14.71" fill="#FAE6AC"/>
<rect x="555.55" y="1896.69" width="149.38" height="14.71" fill="#F9E2A8"/>
<rect x="704.62" y="1896.69" width="149.38" height="14.71" fill="#FBECB2"/>
<rect x="853.7" y="1896.69" width="149.38" height="14.71" fill="#F7D69F"/>
<rect x="257.4" y="1911.1" width="298.45" height="14.71" fill="#FCF4BB"/>
<rect x="555.55" y="1911.1" width="149.38" height="14.71" fill="#F9DFA6"/>
<rect x="704.62" y="1911.1" width="149.38" height="14.71" fill="#FCF4BB"/>
<rect x="257.4" y="1925.51" width="149.38" height="14.71" fill="#F9DFA6"/>
<rect x="406.47" y="1925.51" width="149.38" height="14.71" fill="#FBEEB5"/>
<rect x="555.55" y="1925.51" width="149.38" height="14.71" fill="#FCF4BB"/>
<rect x="704.62" y="1925.51" width="149.38" height="14.71" fill="#F9E2A8"/>
<rect x="853.7" y="1939.93" width="149.38" height="14.71" fill="#FBF2BA"/>
<rect x="257.4" y="2199.39" width="149.38" height="14.71" fill="#FBF0B7"/>
<rect x="853.7" y="2199.39" width="149.38" height="14.71" fill="#FBF2BA"/>
<rect x="1002.77" y="2199.39" width="149.38" height="14.71" fill="#ECAE80"/>
</g>
<rect x="257.4" y="1507.5" width="1192.6" height="706.3" fill="none" stroke="#222" stroke-width="1.2"/>
<rect x="257.4" y="1484.3" width="149.07" height="18.7" fill="#6CBE45"/>
<rect x="406.47" y="1484.3" width="447.22" height="18.7" fill="#E0262C"/>
<rect x="853.7" y="1484.3" width="298.15" height="18.7" fill="#000"/>
<rect x="1151.85" y="1484.3" width="298.15" height="18.7" fill="#6CBE45"/>
<rect x="257.4" y="1484.3" width="1192.6" height="18.7" fill="none" stroke="#222" stroke-width="1"/>
<path d="M481.01 1483.6V1474.6H630.09V1483.6M779.16 1483.6V1471.5H928.24V1483.6M555.55 1474.6V1469.8H853.7V1471.5M704.62 1469.8V1465.8H1077.31V1483.6M331.94 1483.6V1461.9H890.97V1465.8M611.45 1461.9V1460.6H1226.39V1483.6M918.92 1460.6V1444.9H1375.46V1483.6" stroke="#333" stroke-width="1.1" fill="none"/>
<text x="1458.2" y="1501.4" font-size="12.6">Group</text>
<text x="1458.2" y="1515.55" font-size="12.6">KRT17</text>
<text x="1458.2" y="1529.7" font-size="12.6">KRT17</text>
<text x="1458.2" y="1543.85" font-size="12.6">KRT14</text>
<text x="1458.2" y="1558" font-size="12.6">FN1</text>
<text x="1458.2" y="1572.15" font-size="12.6">KRT5</text>
<text x="1458.2" y="1586.3" font-size="12.6">KRT16</text>
<text x="1458.2" y="1600.45" font-size="12.6">TGFBR2</text>
<text x="1458.2" y="1614.6" font-size="12.6">KRT7</text>
<text x="1458.2" y="1628.75" font-size="12.6">COL1A1</text>
<text x="1458.2" y="1642.9" font-size="12.6">KRT8</text>
<text x="1458.2" y="1657.05" font-size="12.6">KRT13</text>
<text x="1458.2" y="1671.2" font-size="12.6">KRT4</text>
<text x="1458.2" y="1685.35" font-size="12.6">FBN1</text>
<text x="1458.2" y="1699.5" font-size="12.6">SEMA3C</text>
<text x="1458.2" y="1713.65" font-size="12.6">MKI67</text>
<text x="1458.2" y="1727.8" font-size="12.6">MMP2</text>
<text x="1458.2" y="1741.95" font-size="12.6">KRT15</text>
<text x="1458.2" y="1756.1" font-size="12.6">SNAI2</text>
<text x="1458.2" y="1770.25" font-size="12.6">HAS2</text>
<text x="1458.2" y="1784.4" font-size="12.6">LOXL2</text>
<text x="1458.2" y="1798.55" font-size="12.6">KRT10</text>
<text x="1458.2" y="1812.7" font-size="12.6">S100A4</text>
<text x="1458.2" y="1826.85" font-size="12.6">TGFB3</text>
<text x="1458.2" y="1841" font-size="12.6">ZEB1</text>
<text x="1458.2" y="1855.15" font-size="12.6">GLIPR2</text>
<text x="1458.2" y="1869.3" font-size="12.6">DAB2</text>
<text x="1458.2" y="1883.45" font-size="12.6">TWIST1</text>
<text x="1458.2" y="1897.6" font-size="12.6">HGF</text>
<text x="1458.2" y="1911.75" font-size="12.6">DEFB1</text>
<text x="1458.2" y="1925.9" font-size="12.6">CALML5</text>
<text x="1458.2" y="1940.05" font-size="12.6">MYH3</text>
<text x="1458.2" y="1954.2" font-size="12.6">KRT9</text>
<text x="1458.2" y="1968.35" font-size="12.6">GNG8</text>
<text x="1458.2" y="1982.5" font-size="12.6">CCER2</text>
<text x="1458.2" y="1996.65" font-size="12.6">ASCL3</text>
<text x="1458.2" y="2010.8" font-size="12.6">ATOH1</text>
<text x="1458.2" y="2024.95" font-size="12.6">MEF2C</text>
<text x="1458.2" y="2039.1" font-size="12.6">MYLPF</text>
<text x="1458.2" y="2053.25" font-size="12.6">STMN2</text>
<text x="1458.2" y="2067.4" font-size="12.6">NHLH1</text>
<text x="1458.2" y="2081.55" font-size="12.6">MYOG</text>
<text x="1458.2" y="2095.7" font-size="12.6">LRMP</text>
<text x="1458.2" y="2109.85" font-size="12.6">POU4</text>
<text x="1458.2" y="2124" font-size="12.6">CFTR</text>
<text x="1458.2" y="2138.15" font-size="12.6">FEZF2</text>
<text x="1458.2" y="2152.3" font-size="12.6">AIRE</text>
<text x="1458.2" y="2166.45" font-size="12.6">MYOD1</text>
<text x="1458.2" y="2180.6" font-size="12.6">HEPACA</text>
<text x="1458.2" y="2194.75" font-size="12.6">FOXI1</text>
<text x="1458.2" y="2208.9" font-size="12.6">SEMA3D</text>
<rect x="1546.2" y="1509" width="9.2" height="388" fill="#5E3410"/>
<rect x="1546.2" y="1915" width="9.2" height="285.6" fill="#F0922A"/>
<text x="1804.5" y="1708.2" font-size="40.2" text-anchor="middle">Signature of</text>
<text x="1804.5" y="1756.2" font-size="40.2" text-anchor="middle">comTEC clusters</text>
<text x="1586.7" y="2015.5" font-size="40.2">Signature of specialised</text>
<text x="1804.5" y="2064" font-size="40.2" text-anchor="middle">TEC clusters</text>
<defs><linearGradient id="hg" x1="0" y1="0" x2="0" y2="1"><stop offset="0" stop-color="#C8483A"/><stop offset="0.25" stop-color="#D87358"/><stop offset="0.5" stop-color="#E9A478"/><stop offset="0.75" stop-color="#F4CC96"/><stop offset="1" stop-color="#FBF6B8"/></linearGradient></defs>
<text x="94.4" y="1593.3" font-size="28" font-weight="bold">V1</text>
<rect x="90" y="1608" width="41" height="124" fill="url(#hg)" stroke="#111" stroke-width="2"/>
<text x="141.2" y="1622.1" font-size="28">10</text>
<text x="141.2" y="1677.7" font-size="28">5</text>
<text x="141.2" y="1734.4" font-size="28">0</text>
<path d="M90 1613.4h8M131 1613.4h-8M90 1670h8M131 1670h-8M90 1726.3h8M131 1726.3h-8" stroke="#111" stroke-width="1.9" fill="none"/>
<text x="66.5" y="1852.9" font-size="32.6" fill="#E0262C">mTEC:</text>
<text x="66.5" y="1889.1" font-size="32.6">Cultured</text>
<text x="66.5" y="1927.6" font-size="32.6">mTEC<tspan dy="-10.3" font-size="18">Type1</tspan></text>
<text x="66.5" y="1997.7" font-size="32.6" fill="#0BA04E">cTEC:</text>
<text x="66.5" y="2033.8" font-size="32.6">Cultured</text>
<text x="66.5" y="2072.6" font-size="32.6">cTEC<tspan dy="-10.3" font-size="18">Type1</tspan></text>
<text x="66.5" y="2142.2" font-size="32.6">TEC:</text>
<text x="66.5" y="2178.2" font-size="32.6">Cultured</text>
<text x="66.5" y="2217.5" font-size="32.6">unsorted</text>
<text x="331.5" y="2241.8" font-size="34" fill="#0BA04E" text-anchor="end" transform="rotate(-45 331.5 2241.8)">cTEC</text>
<text x="489" y="2241.8" font-size="34" fill="#E0262C" text-anchor="end" transform="rotate(-45 489 2241.8)">mTEC</text>
<text x="646.4" y="2241.8" font-size="34" fill="#E0262C" text-anchor="end" transform="rotate(-45 646.4 2241.8)">mTEC</text>
<text x="804.5" y="2241.8" font-size="34" fill="#E0262C" text-anchor="end" transform="rotate(-45 804.5 2241.8)">mTEC</text>
<text x="943.6" y="2241.8" font-size="34" text-anchor="end" transform="rotate(-45 943.6 2241.8)">TEC</text>
<text x="1082" y="2241.8" font-size="34" text-anchor="end" transform="rotate(-45 1082 2241.8)">TEC</text>
<text x="1231.9" y="2241.8" font-size="34" fill="#0BA04E" text-anchor="end" transform="rotate(-45 1231.9 2241.8)">cTEC</text>
<text x="1382" y="2241.8" font-size="34" fill="#0BA04E" text-anchor="end" transform="rotate(-45 1382 2241.8)">cTEC</text>
</svg>
</body></html>
